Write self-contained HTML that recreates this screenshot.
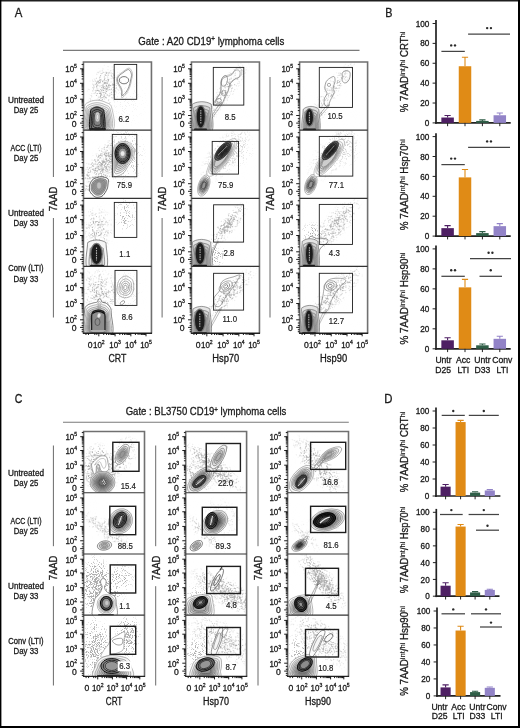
<!DOCTYPE html><html><head><meta charset="utf-8"><style>html,body{margin:0;padding:0;background:#fff}svg{display:block;will-change:transform} text{stroke:#1a1a1a;stroke-width:.3px}</style></head><body><svg width="520" height="728" viewBox="0 0 520 728" font-family='"Liberation Sans", sans-serif' fill="#1a1a1a"><defs><radialGradient id="rg"><stop offset="0" stop-opacity="1.00"/><stop offset="0.25" stop-opacity="0.86"/><stop offset="0.5" stop-opacity="0.55"/><stop offset="0.75" stop-opacity="0.26"/><stop offset="1" stop-opacity="0.00"/></radialGradient><filter id="spkd" x="-10%" y="-10%" width="120%" height="120%"><feTurbulence type="fractalNoise" baseFrequency="1.1" numOctaves="1" seed="3" result="n"/><feColorMatrix in="n" type="matrix" values="0 0 0 0 0 0 0 0 0 0 0 0 0 0 0 3.5 0 0 0 -1.25" result="na"/><feComposite in="SourceGraphic" in2="na" operator="arithmetic" k1="0" k2="3" k3="-3" k4="0" result="d"/><feColorMatrix in="d" type="matrix" values="0 0 0 0 0.3 0 0 0 0 0.3 0 0 0 0 0.3 0 0 0 1 0"/></filter><filter id="spk" x="-10%" y="-10%" width="120%" height="120%"><feTurbulence type="fractalNoise" baseFrequency="1.1" numOctaves="1" seed="3" result="n"/><feColorMatrix in="n" type="matrix" values="0 0 0 0 0 0 0 0 0 0 0 0 0 0 0 3.5 0 0 0 -1.25" result="na"/><feComposite in="SourceGraphic" in2="na" operator="arithmetic" k1="0" k2="3" k3="-3" k4="0" result="d"/><feColorMatrix in="d" type="matrix" values="0 0 0 0 0.42 0 0 0 0 0.42 0 0 0 0 0.42 0 0 0 1 0"/></filter><filter id="spkl" x="-10%" y="-10%" width="120%" height="120%"><feTurbulence type="fractalNoise" baseFrequency="1.1" numOctaves="1" seed="3" result="n"/><feColorMatrix in="n" type="matrix" values="0 0 0 0 0 0 0 0 0 0 0 0 0 0 0 3.5 0 0 0 -1.25" result="na"/><feComposite in="SourceGraphic" in2="na" operator="arithmetic" k1="0" k2="3" k3="-3" k4="0" result="d"/><feColorMatrix in="d" type="matrix" values="0 0 0 0 0.55 0 0 0 0 0.55 0 0 0 0 0.55 0 0 0 1 0"/></filter></defs><rect width="520" height="728" fill="#fff"/><rect x="0" y="0" width="520" height="1.5" fill="#1e1e1e"/><rect x="0" y="0" width="1.4" height="728" fill="#000"/><rect x="518" y="0" width="2" height="728" fill="#000"/><rect x="0" y="726" width="520" height="2" fill="#000"/><text x="14.7" y="17.0" font-size="12.4" textLength="7.6" lengthAdjust="spacingAndGlyphs" fill="#1a1a1a">A</text><text x="385.2" y="17.0" font-size="12.4" textLength="7.2" lengthAdjust="spacingAndGlyphs" fill="#1a1a1a">B</text><text x="14.7" y="403.2" font-size="12.4" textLength="7.6" lengthAdjust="spacingAndGlyphs" fill="#1a1a1a">C</text><text x="384.2" y="403.2" font-size="12.4" textLength="8.2" lengthAdjust="spacingAndGlyphs" fill="#1a1a1a">D</text><text x="138.3" y="45.1" font-size="10.5" textLength="146" lengthAdjust="spacingAndGlyphs">Gate : A20 CD19<tspan dy="-3.8" font-size="6.8">+</tspan><tspan dy="3.8"> lymphoma cells</tspan></text><line x1="63" y1="50.4" x2="359.5" y2="50.4" stroke="#7a7a7a" stroke-width="1.1"/><text x="125.7" y="415.4" font-size="10.5" textLength="160.6" lengthAdjust="spacingAndGlyphs">Gate : BL3750 CD19<tspan dy="-3.8" font-size="6.8">+</tspan><tspan dy="3.8"> lymphoma cells</tspan></text><line x1="63" y1="422.2" x2="348.8" y2="422.2" stroke="#7a7a7a" stroke-width="1.1"/><text x="26" y="102.8" font-size="8.4" text-anchor="middle" textLength="36" lengthAdjust="spacingAndGlyphs" fill="#1a1a1a">Untreated</text><text x="26" y="113.0" font-size="8.4" text-anchor="middle" textLength="24.5" lengthAdjust="spacingAndGlyphs" fill="#1a1a1a">Day 25</text><text x="26" y="150.9" font-size="8.4" text-anchor="middle" textLength="31" lengthAdjust="spacingAndGlyphs" fill="#1a1a1a">ACC (LTI)</text><text x="26" y="161.1" font-size="8.4" text-anchor="middle" textLength="24.5" lengthAdjust="spacingAndGlyphs" fill="#1a1a1a">Day 25</text><text x="26" y="215.8" font-size="8.4" text-anchor="middle" textLength="36" lengthAdjust="spacingAndGlyphs" fill="#1a1a1a">Untreated</text><text x="26" y="226.0" font-size="8.4" text-anchor="middle" textLength="24.8" lengthAdjust="spacingAndGlyphs" fill="#1a1a1a">Day 33</text><text x="26" y="271.4" font-size="8.4" text-anchor="middle" textLength="35.3" lengthAdjust="spacingAndGlyphs" fill="#1a1a1a">Conv (LTI)</text><text x="26" y="281.59999999999997" font-size="8.4" text-anchor="middle" textLength="24.8" lengthAdjust="spacingAndGlyphs" fill="#1a1a1a">Day 33</text><text x="26" y="475.5" font-size="8.4" text-anchor="middle" textLength="36" lengthAdjust="spacingAndGlyphs" fill="#1a1a1a">Untreated</text><text x="26" y="485.7" font-size="8.4" text-anchor="middle" textLength="24.5" lengthAdjust="spacingAndGlyphs" fill="#1a1a1a">Day 25</text><text x="26" y="523.6" font-size="8.4" text-anchor="middle" textLength="31" lengthAdjust="spacingAndGlyphs" fill="#1a1a1a">ACC (LTI)</text><text x="26" y="533.8000000000001" font-size="8.4" text-anchor="middle" textLength="24.5" lengthAdjust="spacingAndGlyphs" fill="#1a1a1a">Day 25</text><text x="26" y="588.5" font-size="8.4" text-anchor="middle" textLength="36" lengthAdjust="spacingAndGlyphs" fill="#1a1a1a">Untreated</text><text x="26" y="598.7" font-size="8.4" text-anchor="middle" textLength="24.8" lengthAdjust="spacingAndGlyphs" fill="#1a1a1a">Day 33</text><text x="26" y="643.8" font-size="8.4" text-anchor="middle" textLength="35.3" lengthAdjust="spacingAndGlyphs" fill="#1a1a1a">Conv (LTI)</text><text x="26" y="654.0" font-size="8.4" text-anchor="middle" textLength="24.8" lengthAdjust="spacingAndGlyphs" fill="#1a1a1a">Day 33</text><path d="M53.4 77V177M53.4 218V317.5" stroke="#6a6a6a" stroke-width="1"/><text transform="translate(57.4,211.2) rotate(-90)" font-size="10.2" textLength="24.6" lengthAdjust="spacingAndGlyphs">7AAD</text><path d="M162.1 77V177M162.1 218V317.5" stroke="#6a6a6a" stroke-width="1"/><text transform="translate(166.1,211.2) rotate(-90)" font-size="10.2" textLength="24.6" lengthAdjust="spacingAndGlyphs">7AAD</text><path d="M270.0 77V177M270.0 218V317.5" stroke="#6a6a6a" stroke-width="1"/><text transform="translate(274.0,211.2) rotate(-90)" font-size="10.2" textLength="24.6" lengthAdjust="spacingAndGlyphs">7AAD</text><path d="M53.4 445.5V546.2M53.4 586.2V685.5" stroke="#6a6a6a" stroke-width="1"/><text transform="translate(57.4,580.2) rotate(-90)" font-size="10.2" textLength="24.6" lengthAdjust="spacingAndGlyphs">7AAD</text><path d="M155.7 445.5V546.2M155.7 586.2V685.5" stroke="#6a6a6a" stroke-width="1"/><text transform="translate(159.7,580.2) rotate(-90)" font-size="10.2" textLength="24.6" lengthAdjust="spacingAndGlyphs">7AAD</text><path d="M258.0 445.5V546.2M258.0 586.2V685.5" stroke="#6a6a6a" stroke-width="1"/><text transform="translate(262.0,580.2) rotate(-90)" font-size="10.2" textLength="24.6" lengthAdjust="spacingAndGlyphs">7AAD</text><clipPath id="c1"><rect x="83.45" y="62.00" width="68.00" height="68.20"/></clipPath><g clip-path="url(#c1)"><ellipse cx="104.0" cy="88.0" rx="16.8" ry="26.4" transform="rotate(20 104.0 88.0)" fill="url(#rg)" fill-opacity="0.58" filter="url(#spk)"/><ellipse cx="125.0" cy="100.0" rx="24.0" ry="28.8" fill="url(#rg)" fill-opacity="0.08" filter="url(#spkl)"/><rect x="85.5" y="64.0" width="64.0" height="64.2" fill="#000" fill-opacity="0.005" filter="url(#spkl)"/><path d="M84.30 131.00C79.63 127.17 83.68 112.75 84.30 108.00C84.92 103.25 85.88 103.80 88.00 102.50C90.12 101.20 94.00 100.20 97.00 100.20C100.00 100.20 103.53 101.20 106.00 102.50C108.47 103.80 110.75 103.25 111.80 108.00C112.85 112.75 116.88 127.17 112.30 131.00C107.72 134.83 88.97 134.83 84.30 131.00Z" fill="#ffffff" stroke="#8c8c8c" stroke-width="0.55"/><path d="M85.69 130.26C81.51 126.83 85.14 113.93 85.69 109.68C86.24 105.43 87.11 105.93 89.00 104.76C90.89 103.60 94.37 102.70 97.05 102.70C99.74 102.70 102.90 103.60 105.11 104.76C107.31 105.93 109.36 105.43 110.30 109.68C111.24 113.93 114.84 126.83 110.74 130.26C106.64 133.69 89.86 133.69 85.69 130.26Z" fill="#f8f8f8" stroke="#858585" stroke-width="0.55"/><path d="M86.80 129.67C83.02 126.57 86.30 114.88 86.80 111.03C87.30 107.18 88.09 107.63 89.80 106.58C91.52 105.52 94.66 104.71 97.09 104.71C99.53 104.71 102.39 105.52 104.39 106.58C106.39 107.63 108.24 107.18 109.09 111.03C109.94 114.88 113.21 126.57 109.49 129.67C105.78 132.78 90.58 132.78 86.80 129.67Z" fill="#f1f1f1" stroke="#7e7e7e" stroke-width="0.55"/><path d="M87.83 129.13C84.42 126.32 87.38 115.76 87.83 112.28C88.28 108.80 88.99 109.21 90.54 108.25C92.09 107.30 94.94 106.57 97.13 106.57C99.33 106.57 101.92 107.30 103.72 108.25C105.53 109.21 107.20 108.80 107.97 112.28C108.74 115.76 111.70 126.32 108.34 129.13C104.98 131.93 91.25 131.93 87.83 129.13Z" fill="#eaeaea" stroke="#777777" stroke-width="0.55"/><path d="M88.81 128.61C85.74 126.08 88.41 116.60 88.81 113.47C89.22 110.34 89.85 110.70 91.25 109.85C92.64 108.99 95.20 108.33 97.17 108.33C99.15 108.33 101.47 108.99 103.09 109.85C104.72 110.70 106.22 110.34 106.91 113.47C107.60 116.60 110.26 126.08 107.24 128.61C104.22 131.13 91.88 131.13 88.81 128.61Z" fill="#e2e2e2" stroke="#6f6f6f" stroke-width="0.55"/><path d="M89.75 128.11C87.02 125.86 89.39 117.40 89.75 114.61C90.12 111.82 90.68 112.15 91.93 111.38C93.17 110.62 95.45 110.03 97.21 110.03C98.97 110.03 101.04 110.62 102.49 111.38C103.94 112.15 105.28 111.82 105.89 114.61C106.51 117.40 108.87 125.86 106.18 128.11C103.50 130.36 92.49 130.36 89.75 128.11Z" fill="#dbdbdb" stroke="#686868" stroke-width="0.55"/><path d="M90.67 127.62C88.25 125.64 90.35 118.18 90.67 115.72C90.99 113.26 91.49 113.55 92.58 112.87C93.68 112.20 95.69 111.68 97.24 111.68C98.79 111.68 100.62 112.20 101.90 112.87C103.18 113.55 104.36 113.26 104.90 115.72C105.44 118.18 107.53 125.64 105.16 127.62C102.79 129.61 93.08 129.61 90.67 127.62Z" fill="#d4d4d4" stroke="#616161" stroke-width="0.55"/><path d="M91.56 127.15C89.46 125.43 91.28 118.94 91.56 116.80C91.84 114.66 92.27 114.91 93.22 114.33C94.18 113.74 95.93 113.29 97.28 113.29C98.62 113.29 100.22 113.74 101.33 114.33C102.44 114.91 103.46 114.66 103.94 116.80C104.41 118.94 106.22 125.43 104.16 127.15C102.10 128.88 93.66 128.88 91.56 127.15Z" fill="#cdcdcd" stroke="#5a5a5a" stroke-width="0.55"/><path d="M90.50 131.00C88.25 127.83 90.17 115.75 90.50 112.00C90.83 108.25 91.42 109.33 92.50 108.50C93.58 107.67 95.50 107.00 97.00 107.00C98.50 107.00 100.33 107.67 101.50 108.50C102.67 109.33 103.58 108.25 104.00 112.00C104.42 115.75 106.25 127.83 104.00 131.00C101.75 134.17 92.75 134.17 90.50 131.00Z" fill="#6e6e6e" stroke="#141414" stroke-width="1.0"/><path d="M92.01 128.41C90.25 125.92 91.75 116.45 92.01 113.51C92.27 110.57 92.73 111.42 93.58 110.77C94.43 110.12 95.93 109.59 97.11 109.59C98.28 109.59 99.72 110.12 100.64 110.77C101.55 111.42 102.27 110.57 102.59 113.51C102.92 116.45 104.36 125.92 102.59 128.41C100.83 130.89 93.78 130.89 92.01 128.41Z" fill="#757575" stroke="#212121" stroke-width="1.0"/><path d="M93.23 126.32C91.85 124.39 93.02 117.02 93.23 114.73C93.43 112.44 93.79 113.10 94.45 112.59C95.11 112.08 96.28 111.68 97.19 111.68C98.11 111.68 99.23 112.08 99.94 112.59C100.65 113.10 101.21 112.44 101.47 114.73C101.72 117.02 102.84 124.39 101.47 126.32C100.09 128.26 94.60 128.26 93.23 126.32Z" fill="#7b7b7b" stroke="#2f2f2f" stroke-width="1.0"/><path d="M94.35 124.40C93.34 122.98 94.20 117.54 94.35 115.85C94.50 114.16 94.76 114.65 95.25 114.28C95.74 113.90 96.60 113.60 97.28 113.60C97.95 113.60 98.78 113.90 99.30 114.28C99.82 114.65 100.24 114.16 100.42 115.85C100.61 117.54 101.44 122.98 100.42 124.40C99.41 125.83 95.36 125.83 94.35 124.40Z" fill="#828282" stroke="#3c3c3c" stroke-width="1.0"/><g stroke-width="0.5"><ellipse cx="97.5" cy="117.0" rx="2.50" ry="5.00" fill="#c8c8c8" stroke="#787878"/><ellipse cx="97.5" cy="117.0" rx="1.25" ry="2.50" fill="#e6e6e6" stroke="#a0a0a0"/></g><rect x="89.50" y="128.30" width="16.50" height="2.00" rx="1.00" fill="#111"/><path d="M129.10 68.10C130.78 68.33 132.10 71.52 132.50 73.50C132.90 75.48 131.95 77.75 131.50 80.00C131.05 82.25 130.65 84.73 129.80 87.00C128.95 89.27 127.75 91.82 126.40 93.60C125.05 95.38 122.52 98.13 121.70 97.70C120.88 97.27 122.33 93.70 121.50 91.00C120.67 88.30 117.33 83.98 116.70 81.50C116.07 79.02 116.75 77.67 117.70 76.10C118.65 74.53 120.50 73.43 122.40 72.10C124.30 70.77 127.42 67.87 129.10 68.10Z" fill="none" stroke="#969696" stroke-width="0.55"/><path d="M128.49 69.55C129.97 69.76 131.13 72.56 131.48 74.30C131.83 76.05 131.00 78.04 130.60 80.02C130.20 82.00 129.85 84.19 129.10 86.18C128.36 88.18 127.30 90.42 126.11 91.99C124.92 93.56 122.69 95.98 121.98 95.60C121.26 95.22 122.53 92.08 121.80 89.70C121.07 87.33 118.13 83.53 117.58 81.34C117.02 79.16 117.62 77.97 118.46 76.59C119.29 75.21 120.92 74.25 122.59 73.07C124.26 71.90 127.01 69.35 128.49 69.55Z" fill="none" stroke="#464646" stroke-width="0.55"/><g stroke-width="0.65"><ellipse cx="124.0" cy="80.2" rx="4.70" ry="3.60" fill="none" stroke="#323232"/></g><rect x="114.20" y="64.40" width="22.50" height="34.90" fill="none" stroke="#1e1e1e" stroke-width="0.9"/><text x="123.90" y="121.70" font-size="8.6" text-anchor="middle" textLength="10.9" lengthAdjust="spacingAndGlyphs" fill="#222" style="stroke-width:.18px">6.2</text></g><clipPath id="c2"><rect x="191.45" y="62.00" width="68.00" height="68.20"/></clipPath><g clip-path="url(#c2)"><ellipse cx="228.0" cy="88.0" rx="9.6" ry="38.4" transform="rotate(35 228.0 88.0)" fill="url(#rg)" fill-opacity="0.37" filter="url(#spk)"/><ellipse cx="212.0" cy="112.0" rx="7.2" ry="19.2" transform="rotate(35 212.0 112.0)" fill="url(#rg)" fill-opacity="0.40" filter="url(#spk)"/><rect x="193.4" y="64.0" width="64.0" height="64.2" fill="#000" fill-opacity="0.005" filter="url(#spkl)"/><path d="M214.20 104.40C213.30 103.50 215.18 101.02 216.20 99.00C217.22 96.98 219.50 95.22 220.30 92.30C221.10 89.38 220.45 84.08 221.00 81.50C221.55 78.92 222.27 77.92 223.60 76.80C224.93 75.68 227.43 75.47 229.00 74.80C230.57 74.13 231.87 73.82 233.00 72.80C234.13 71.78 234.67 69.48 235.80 68.70C236.93 67.92 238.80 67.75 239.80 68.10C240.80 68.45 241.68 69.45 241.80 70.80C241.92 72.15 241.63 74.87 240.50 76.20C239.37 77.53 236.68 77.57 235.00 78.80C233.32 80.03 231.50 81.57 230.40 83.60C229.30 85.63 229.30 88.65 228.40 91.00C227.50 93.35 226.13 95.47 225.00 97.70C223.87 99.93 223.40 103.28 221.60 104.40C219.80 105.52 215.10 105.30 214.20 104.40Z" fill="none" stroke="#969696" stroke-width="0.5"/><path d="M215.28 102.76C214.47 101.95 216.16 99.72 217.08 97.90C217.99 96.09 220.05 94.50 220.77 91.87C221.49 89.25 220.91 84.48 221.40 82.15C221.90 79.83 222.54 78.92 223.74 77.92C224.94 76.92 227.19 76.72 228.60 76.12C230.01 75.52 231.18 75.23 232.20 74.32C233.22 73.40 233.70 71.33 234.72 70.63C235.74 69.92 237.42 69.77 238.32 70.09C239.22 70.40 240.02 71.30 240.12 72.52C240.22 73.73 239.97 76.18 238.95 77.38C237.93 78.58 235.51 78.61 234.00 79.72C232.49 80.83 230.85 82.21 229.86 84.04C228.87 85.87 228.87 88.59 228.06 90.70C227.25 92.81 226.02 94.72 225.00 96.73C223.98 98.74 223.56 101.76 221.94 102.76C220.32 103.77 216.09 103.57 215.28 102.76Z" fill="none" stroke="#646464" stroke-width="0.5"/><g stroke-width="0.5" transform="rotate(15 224.3 80.9)"><ellipse cx="224.3" cy="80.9" rx="3.00" ry="5.50" fill="none" stroke="#5a5a5a"/></g><g stroke-width="0.5"><ellipse cx="218.9" cy="100.4" rx="2.50" ry="2.00" fill="none" stroke="#5a5a5a"/></g><g stroke-width="0.5"><ellipse cx="223.6" cy="93.0" rx="2.00" ry="2.80" fill="none" stroke="#6e6e6e"/></g><path d="M207.50 124.00C206.00 125.67 211.08 117.17 213.00 114.00C214.92 110.83 217.50 106.67 219.00 105.00C220.50 103.33 223.92 100.83 222.00 104.00C220.08 107.17 209.00 122.33 207.50 124.00Z" fill="none" stroke="#777" stroke-width="0.5"/><path d="M192.00 132.40C188.75 128.28 191.73 112.52 192.00 107.70C192.27 102.88 191.97 104.50 193.60 103.50C195.22 102.50 199.03 101.70 201.75 101.70C204.47 101.70 208.28 102.50 209.90 103.50C211.53 104.50 211.23 102.88 211.50 107.70C211.77 112.52 214.75 128.28 211.50 132.40C208.25 136.52 195.25 136.52 192.00 132.40Z" fill="#e4e4e4" stroke="#464646" stroke-width="0.55"/><path d="M193.50 131.63C190.75 128.15 193.27 114.81 193.50 110.73C193.73 106.66 193.48 108.02 194.85 107.18C196.23 106.33 199.45 105.66 201.75 105.66C204.05 105.66 207.27 106.33 208.65 107.18C210.02 108.02 209.77 106.66 210.00 110.73C210.23 114.81 212.75 128.15 210.00 131.63C207.25 135.11 196.25 135.11 193.50 131.63Z" fill="#d3d3d3" stroke="#525252" stroke-width="0.55"/><path d="M194.70 131.01C192.36 128.04 194.51 116.65 194.70 113.16C194.90 109.68 194.69 110.85 195.86 110.13C197.03 109.41 199.79 108.83 201.75 108.83C203.71 108.83 206.47 109.41 207.64 110.13C208.81 110.85 208.60 109.68 208.80 113.16C208.99 116.65 211.14 128.04 208.80 131.01C206.45 133.99 197.05 133.99 194.70 131.01Z" fill="#c2c2c2" stroke="#5f5f5f" stroke-width="0.55"/><path d="M195.82 130.44C193.84 127.94 195.66 118.34 195.82 115.41C195.98 112.48 195.80 113.47 196.79 112.86C197.78 112.25 200.10 111.76 201.75 111.76C203.40 111.76 205.72 112.25 206.71 112.86C207.70 113.47 207.52 112.48 207.68 115.41C207.84 118.34 209.66 127.94 207.68 130.44C205.71 132.95 197.79 132.95 195.82 130.44Z" fill="#b1b1b1" stroke="#6c6c6c" stroke-width="0.55"/><path d="M196.88 129.90C195.25 127.84 196.74 119.96 196.88 117.55C197.01 115.14 196.86 115.95 197.68 115.45C198.49 114.95 200.39 114.55 201.75 114.55C203.11 114.55 205.01 114.95 205.82 115.45C206.64 115.95 206.49 115.14 206.62 117.55C206.76 119.96 208.25 127.84 206.62 129.90C205.00 131.96 198.50 131.96 196.88 129.90Z" fill="#a0a0a0" stroke="#787878" stroke-width="0.55"/><ellipse cx="200.8" cy="116.8" rx="5.30" ry="11.90" fill="#777"/><ellipse cx="200.8" cy="116.8" rx="4.00" ry="10.60" fill="#1c1c1c"/><path d="M200.8 109.9V123.7" stroke="#aaa" stroke-width="1.1" stroke-dasharray="1.6 0.8"/><rect x="194.00" y="128.50" width="13.00" height="1.80" rx="0.90" fill="#111"/><rect x="213.30" y="67.40" width="30.50" height="37.70" fill="none" stroke="#1e1e1e" stroke-width="0.9"/><text x="230.10" y="120.30" font-size="8.6" text-anchor="middle" textLength="10.9" lengthAdjust="spacingAndGlyphs" fill="#222" style="stroke-width:.18px">8.5</text></g><clipPath id="c3"><rect x="299.60" y="62.00" width="68.00" height="68.20"/></clipPath><g clip-path="url(#c3)"><ellipse cx="334.0" cy="88.0" rx="9.6" ry="38.4" transform="rotate(38 334.0 88.0)" fill="url(#rg)" fill-opacity="0.37" filter="url(#spk)"/><ellipse cx="320.0" cy="112.0" rx="7.2" ry="16.8" transform="rotate(35 320.0 112.0)" fill="url(#rg)" fill-opacity="0.45" filter="url(#spk)"/><rect x="301.6" y="64.0" width="64.0" height="64.2" fill="#000" fill-opacity="0.005" filter="url(#spkl)"/><path d="M342.40 72.80C342.97 71.90 344.57 70.92 345.80 70.80C347.03 70.68 349.13 70.98 349.80 72.10C350.47 73.22 350.13 75.93 349.80 77.50C349.47 79.07 348.70 80.60 347.80 81.50C346.90 82.40 345.35 83.12 344.40 82.90C343.45 82.68 342.43 81.32 342.10 80.20C341.77 79.08 342.35 77.43 342.40 76.20C342.45 74.97 341.83 73.70 342.40 72.80Z" fill="none" stroke="#555" stroke-width="0.55"/><path d="M326.30 81.50C327.32 79.70 329.67 78.28 331.00 77.50C332.33 76.72 333.63 76.13 334.30 76.80C334.97 77.47 335.22 79.58 335.00 81.50C334.78 83.42 333.12 86.50 333.00 88.30C332.88 90.10 334.75 90.28 334.30 92.30C333.85 94.32 331.30 98.15 330.30 100.40C329.30 102.65 329.20 105.02 328.30 105.80C327.40 106.58 325.58 106.23 324.90 105.10C324.22 103.97 323.85 100.92 324.20 99.00C324.55 97.08 326.88 95.38 327.00 93.60C327.12 91.82 325.02 90.32 324.90 88.30C324.78 86.28 325.28 83.30 326.30 81.50Z" fill="none" stroke="#555" stroke-width="0.55"/><g stroke-width="0.5"><ellipse cx="329.0" cy="84.9" rx="1.60" ry="1.60" fill="none" stroke="#5a5a5a"/></g><path d="M314.00 123.00C312.50 124.33 318.00 116.67 320.00 114.00C322.00 111.33 324.50 108.33 326.00 107.00C327.50 105.67 331.00 103.33 329.00 106.00C327.00 108.67 315.50 121.67 314.00 123.00Z" fill="none" stroke="#777" stroke-width="0.5"/><path d="M303.00 132.40C300.33 129.07 302.73 116.43 303.00 112.40C303.27 108.37 303.27 109.20 304.60 108.20C305.93 107.20 308.87 106.40 311.00 106.40C313.13 106.40 316.07 107.20 317.40 108.20C318.73 109.20 318.73 108.37 319.00 112.40C319.27 116.43 321.67 129.07 319.00 132.40C316.33 135.73 305.67 135.73 303.00 132.40Z" fill="#e4e4e4" stroke="#464646" stroke-width="0.55"/><path d="M304.23 131.63C301.97 128.81 304.01 118.12 304.23 114.71C304.46 111.30 304.46 112.00 305.58 111.15C306.71 110.31 309.19 109.63 311.00 109.63C312.81 109.63 315.29 110.31 316.42 111.15C317.54 112.00 317.54 111.30 317.77 114.71C317.99 118.12 320.03 128.81 317.77 131.63C315.51 134.45 306.49 134.45 304.23 131.63Z" fill="#d3d3d3" stroke="#525252" stroke-width="0.55"/><path d="M305.22 131.01C303.29 128.60 305.03 119.48 305.22 116.56C305.41 113.65 305.41 114.25 306.38 113.53C307.34 112.80 309.46 112.23 311.00 112.23C312.54 112.23 314.66 112.80 315.62 113.53C316.59 114.25 316.59 113.65 316.78 116.56C316.97 119.48 318.71 128.60 316.78 131.01C314.85 133.42 307.15 133.42 305.22 131.01Z" fill="#c2c2c2" stroke="#5f5f5f" stroke-width="0.55"/><path d="M306.13 130.44C304.51 128.41 305.97 120.73 306.13 118.27C306.29 115.82 306.29 116.33 307.11 115.72C307.92 115.11 309.70 114.62 311.00 114.62C312.30 114.62 314.08 115.11 314.89 115.72C315.71 116.33 315.71 115.82 315.87 118.27C316.03 120.73 317.49 128.41 315.87 130.44C314.25 132.47 307.75 132.47 306.13 130.44Z" fill="#b1b1b1" stroke="#6c6c6c" stroke-width="0.55"/><path d="M307.00 129.90C305.67 128.23 306.87 121.92 307.00 119.90C307.13 117.88 307.13 118.30 307.80 117.80C308.47 117.30 309.93 116.90 311.00 116.90C312.07 116.90 313.53 117.30 314.20 117.80C314.87 118.30 314.87 117.88 315.00 119.90C315.13 121.92 316.33 128.23 315.00 129.90C313.67 131.57 308.33 131.57 307.00 129.90Z" fill="#a0a0a0" stroke="#787878" stroke-width="0.55"/><ellipse cx="309.4" cy="117.5" rx="4.90" ry="9.50" fill="#777"/><ellipse cx="309.4" cy="117.5" rx="3.60" ry="8.20" fill="#1c1c1c"/><path d="M309.4 112.2V122.8" stroke="#aaa" stroke-width="1.1" stroke-dasharray="1.6 0.8"/><rect x="303.00" y="128.50" width="13.00" height="1.80" rx="0.90" fill="#111"/><rect x="319.30" y="67.40" width="33.20" height="40.00" fill="none" stroke="#1e1e1e" stroke-width="0.9"/><text x="335.00" y="119.00" font-size="8.6" text-anchor="middle" textLength="15.2" lengthAdjust="spacingAndGlyphs" fill="#222" style="stroke-width:.18px">10.5</text></g><clipPath id="c4"><rect x="83.45" y="130.20" width="68.00" height="68.10"/></clipPath><g clip-path="url(#c4)"><ellipse cx="104.0" cy="165.0" rx="16.8" ry="40.8" transform="rotate(38 104.0 165.0)" fill="url(#rg)" fill-opacity="0.70" filter="url(#spk)"/><ellipse cx="125.0" cy="155.0" rx="21.6" ry="33.6" fill="url(#rg)" fill-opacity="0.33" filter="url(#spk)"/><rect x="85.5" y="132.2" width="64.0" height="64.1" fill="#000" fill-opacity="0.004" filter="url(#spkl)"/><path d="M99.60 176.90C101.48 176.58 103.07 176.92 104.50 177.30C105.93 177.68 107.62 178.08 108.20 179.20C108.78 180.32 108.18 182.37 108.00 184.00C107.82 185.63 107.93 187.10 107.10 189.00C106.27 190.90 104.43 194.03 103.00 195.40C101.57 196.77 99.93 197.02 98.50 197.20C97.07 197.38 95.85 197.47 94.40 196.50C92.95 195.53 90.60 193.07 89.80 191.40C89.00 189.73 89.52 187.85 89.60 186.50C89.68 185.15 89.70 184.52 90.30 183.30C90.90 182.08 91.65 180.27 93.20 179.20C94.75 178.13 97.72 177.22 99.60 176.90Z" fill="#fcfcfc" stroke="#1e1e1e" stroke-width="0.7"/><path d="M99.49 178.54C101.04 178.28 102.33 178.55 103.51 178.87C104.69 179.18 106.07 179.51 106.54 180.42C107.02 181.34 106.53 183.02 106.38 184.36C106.23 185.70 106.33 186.90 105.64 188.46C104.96 190.02 103.46 192.59 102.28 193.71C101.10 194.83 99.77 195.03 98.59 195.18C97.41 195.33 96.42 195.40 95.23 194.61C94.04 193.82 92.11 191.79 91.46 190.43C90.80 189.06 91.22 187.52 91.29 186.41C91.36 185.30 91.37 184.78 91.87 183.79C92.36 182.79 92.97 181.30 94.24 180.42C95.52 179.55 97.95 178.80 99.49 178.54Z" fill="#a5a5a5" stroke="#5a5a5a" stroke-width="0.6"/><path d="M99.40 179.99C100.64 179.79 101.68 180.01 102.63 180.26C103.58 180.51 104.69 180.78 105.07 181.51C105.46 182.25 105.06 183.60 104.94 184.68C104.82 185.76 104.90 186.73 104.35 187.98C103.80 189.23 102.59 191.30 101.64 192.20C100.69 193.11 99.62 193.27 98.67 193.39C97.72 193.51 96.92 193.57 95.96 192.93C95.01 192.29 93.46 190.66 92.93 189.56C92.40 188.46 92.74 187.22 92.80 186.33C92.85 185.44 92.86 185.02 93.26 184.22C93.65 183.42 94.15 182.22 95.17 181.51C96.20 180.81 98.15 180.20 99.40 179.99Z" fill="#a1a1a1" stroke="#666666" stroke-width="0.6"/><path d="M99.32 181.16C100.32 180.99 101.16 181.17 101.92 181.38C102.69 181.58 103.58 181.79 103.89 182.39C104.20 182.98 103.88 184.07 103.78 184.94C103.69 185.81 103.75 186.58 103.31 187.59C102.86 188.60 101.89 190.27 101.13 191.00C100.36 191.72 99.50 191.86 98.73 191.95C97.97 192.05 97.33 192.09 96.56 191.58C95.78 191.07 94.54 189.76 94.11 188.87C93.68 187.98 93.96 186.98 94.00 186.27C94.05 185.55 94.06 185.21 94.38 184.56C94.69 183.92 95.09 182.95 95.92 182.39C96.74 181.82 98.32 181.33 99.32 181.16Z" fill="#9e9e9e" stroke="#737373" stroke-width="0.6"/><path d="M99.25 182.24C100.03 182.11 100.68 182.25 101.27 182.41C101.86 182.57 102.56 182.73 102.80 183.19C103.04 183.65 102.79 184.50 102.72 185.17C102.64 185.85 102.69 186.45 102.34 187.24C102.00 188.02 101.24 189.32 100.65 189.88C100.06 190.44 99.39 190.55 98.79 190.62C98.20 190.70 97.70 190.73 97.10 190.33C96.50 189.94 95.53 188.92 95.20 188.23C94.87 187.54 95.09 186.76 95.12 186.21C95.15 185.65 95.16 185.39 95.41 184.89C95.66 184.38 95.97 183.63 96.61 183.19C97.25 182.75 98.47 182.37 99.25 182.24Z" fill="#9a9a9a" stroke="#808080" stroke-width="0.6"/><path d="M99.18 183.27C99.74 183.18 100.22 183.28 100.65 183.39C101.08 183.51 101.59 183.62 101.76 183.96C101.94 184.30 101.76 184.91 101.70 185.40C101.64 185.89 101.68 186.33 101.43 186.90C101.18 187.47 100.63 188.41 100.20 188.82C99.77 189.23 99.28 189.30 98.85 189.36C98.42 189.41 98.06 189.44 97.62 189.15C97.19 188.86 96.48 188.12 96.24 187.62C96.00 187.12 96.15 186.56 96.18 186.15C96.20 185.75 96.21 185.56 96.39 185.19C96.57 184.82 96.80 184.28 97.26 183.96C97.73 183.64 98.61 183.37 99.18 183.27Z" fill="#969696" stroke="#8c8c8c" stroke-width="0.6"/><g stroke-width="0.3"><ellipse cx="99.0" cy="185.5" rx="1.80" ry="3.00" fill="#bebebe" stroke="#bebebe"/></g><path d="M123.70 141.50C125.90 141.30 127.73 141.72 129.50 143.00C131.27 144.28 133.55 147.20 134.30 149.20C135.05 151.20 134.33 153.20 134.00 155.00C133.67 156.80 133.38 158.00 132.30 160.00C131.22 162.00 128.88 164.92 127.50 167.00C126.12 169.08 125.58 171.00 124.00 172.50C122.42 174.00 119.70 175.45 118.00 176.00C116.30 176.55 114.67 177.13 113.80 175.80C112.93 174.47 112.97 170.20 112.80 168.00C112.63 165.80 112.73 165.28 112.80 162.60C112.87 159.92 112.62 154.97 113.20 151.90C113.78 148.83 114.55 145.93 116.30 144.20C118.05 142.47 121.50 141.70 123.70 141.50Z" fill="#ffffff" stroke="#737373" stroke-width="0.55"/><path d="M123.57 142.88C125.50 142.70 127.12 143.07 128.67 144.20C130.23 145.33 132.24 147.90 132.90 149.66C133.56 151.42 132.93 153.18 132.63 154.76C132.34 156.34 132.09 157.40 131.14 159.16C130.18 160.92 128.13 163.49 126.91 165.32C125.69 167.15 125.23 168.84 123.83 170.16C122.44 171.48 120.05 172.76 118.55 173.24C117.06 173.73 115.62 174.24 114.86 173.07C114.09 171.89 114.12 168.14 113.98 166.20C113.83 164.26 113.92 163.81 113.98 161.45C114.03 159.09 113.81 154.73 114.33 152.03C114.84 149.33 115.52 146.78 117.06 145.26C118.60 143.73 121.63 143.06 123.57 142.88Z" fill="#f7f7f7" stroke="#6c6c6c" stroke-width="0.55"/><path d="M123.46 143.99C125.19 143.83 126.62 144.16 128.01 145.16C129.39 146.17 131.18 148.45 131.77 150.02C132.36 151.59 131.80 153.16 131.54 154.57C131.27 155.98 131.05 156.92 130.20 158.49C129.35 160.05 127.53 162.34 126.44 163.97C125.36 165.61 124.94 167.11 123.70 168.28C122.46 169.46 120.33 170.60 118.99 171.03C117.66 171.46 116.38 171.92 115.70 170.87C115.02 169.83 115.05 166.48 114.92 164.76C114.79 163.03 114.87 162.63 114.92 160.52C114.97 158.42 114.77 154.54 115.23 152.14C115.69 149.73 116.29 147.46 117.66 146.10C119.03 144.74 121.74 144.14 123.46 143.99Z" fill="#eeeeee" stroke="#646464" stroke-width="0.55"/><path d="M123.36 145.01C124.89 144.87 126.17 145.16 127.39 146.05C128.62 146.94 130.21 148.97 130.73 150.36C131.25 151.75 130.75 153.14 130.52 154.39C130.29 155.64 130.09 156.47 129.34 157.86C128.59 159.25 126.97 161.28 126.00 162.73C125.04 164.18 124.67 165.51 123.57 166.55C122.47 167.59 120.58 168.60 119.40 168.98C118.22 169.36 117.09 169.77 116.49 168.84C115.88 167.92 115.91 164.95 115.79 163.42C115.67 161.89 115.74 161.54 115.79 159.67C115.84 157.81 115.66 154.37 116.07 152.24C116.47 150.10 117.01 148.09 118.22 146.89C119.44 145.68 121.84 145.15 123.36 145.01Z" fill="#e6e6e6" stroke="#5c5c5c" stroke-width="0.55"/><path d="M123.27 145.98C124.61 145.86 125.73 146.11 126.81 146.90C127.89 147.68 129.28 149.46 129.74 150.68C130.20 151.90 129.76 153.12 129.56 154.22C129.35 155.32 129.18 156.05 128.52 157.27C127.86 158.49 126.43 160.27 125.59 161.54C124.75 162.82 124.42 163.99 123.45 164.90C122.49 165.82 120.83 166.70 119.79 167.04C118.75 167.37 117.76 167.73 117.23 166.92C116.70 166.10 116.72 163.50 116.62 162.16C116.52 160.81 116.58 160.50 116.62 158.86C116.66 157.22 116.51 154.20 116.86 152.33C117.22 150.46 117.69 148.69 118.75 147.63C119.82 146.57 121.93 146.10 123.27 145.98Z" fill="#dedede" stroke="#555555" stroke-width="0.55"/><path d="M123.18 146.92C124.35 146.81 125.32 147.03 126.25 147.71C127.18 148.39 128.39 149.93 128.79 150.99C129.19 152.05 128.81 153.11 128.63 154.06C128.45 155.01 128.30 155.64 127.73 156.70C127.16 157.76 125.92 159.30 125.19 160.41C124.46 161.51 124.18 162.52 123.34 163.31C122.50 164.11 121.07 164.88 120.17 165.17C119.27 165.46 118.40 165.77 117.95 165.06C117.49 164.35 117.50 162.10 117.42 160.93C117.33 159.77 117.38 159.50 117.42 158.08C117.45 156.66 117.32 154.04 117.63 152.42C117.94 150.80 118.34 149.26 119.27 148.35C120.19 147.43 122.02 147.02 123.18 146.92Z" fill="#d5d5d5" stroke="#4e4e4e" stroke-width="0.55"/><path d="M123.09 147.82C124.08 147.73 124.91 147.92 125.70 148.50C126.50 149.08 127.53 150.39 127.86 151.29C128.20 152.19 127.88 153.09 127.73 153.90C127.58 154.71 127.45 155.25 126.97 156.15C126.48 157.05 125.43 158.36 124.80 159.30C124.18 160.24 123.94 161.10 123.23 161.78C122.52 162.45 121.30 163.10 120.53 163.35C119.77 163.60 119.03 163.86 118.64 163.26C118.25 162.66 118.27 160.74 118.19 159.75C118.11 158.76 118.16 158.53 118.19 157.32C118.22 156.11 118.11 153.88 118.37 152.50C118.63 151.12 118.98 149.82 119.77 149.04C120.55 148.26 122.11 147.91 123.09 147.82Z" fill="#cdcdcd" stroke="#464646" stroke-width="0.55"/><g stroke-width="0.9"><ellipse cx="122.6" cy="153.5" rx="7.60" ry="10.00" fill="#5a5a5a" stroke="#050505"/><ellipse cx="122.6" cy="153.5" rx="6.26" ry="8.23" fill="#6e6e6e" stroke="#171717"/><ellipse cx="122.6" cy="153.5" rx="5.18" ry="6.81" fill="#828282" stroke="#2a2a2a"/><ellipse cx="122.6" cy="153.5" rx="4.18" ry="5.50" fill="#969696" stroke="#3c3c3c"/></g><g stroke-width="0.3"><ellipse cx="122.6" cy="153.5" rx="2.00" ry="2.50" fill="#ebebeb" stroke="#c8c8c8"/></g><rect x="112.30" y="134.40" width="24.50" height="42.40" fill="none" stroke="#1e1e1e" stroke-width="0.9"/><text x="124.40" y="188.40" font-size="8.6" text-anchor="middle" textLength="15.2" lengthAdjust="spacingAndGlyphs" fill="#222" style="stroke-width:.18px">75.9</text></g><clipPath id="c5"><rect x="191.45" y="130.20" width="68.00" height="68.10"/></clipPath><g clip-path="url(#c5)"><ellipse cx="226.0" cy="154.0" rx="16.8" ry="38.4" transform="rotate(40 226.0 154.0)" fill="url(#rg)" fill-opacity="0.43" filter="url(#spk)"/><ellipse cx="236.0" cy="148.0" rx="19.2" ry="21.6" fill="url(#rg)" fill-opacity="0.27" filter="url(#spkl)"/><rect x="193.4" y="132.2" width="64.0" height="64.1" fill="#000" fill-opacity="0.004" filter="url(#spkl)"/><g stroke-width="0.5" transform="rotate(18 203.8 185.5)"><ellipse cx="203.8" cy="185.5" rx="5.50" ry="11.00" fill="#ffffff" stroke="#787878"/><ellipse cx="203.8" cy="185.5" rx="4.59" ry="9.18" fill="#eaeaea" stroke="#646464"/><ellipse cx="203.8" cy="185.5" rx="3.86" ry="7.72" fill="#d5d5d5" stroke="#505050"/><ellipse cx="203.8" cy="185.5" rx="3.18" ry="6.37" fill="#c0c0c0" stroke="#3c3c3c"/><ellipse cx="203.8" cy="185.5" rx="2.54" ry="5.09" fill="#ababab" stroke="#282828"/><ellipse cx="203.8" cy="185.5" rx="1.92" ry="3.85" fill="#969696" stroke="#141414"/></g><g stroke-width="0.5" transform="rotate(-53 221.8 157.5)"><ellipse cx="221.8" cy="157.5" rx="23.00" ry="7.20" fill="#ffffff" stroke="#969696"/><ellipse cx="221.8" cy="157.5" rx="20.07" ry="6.28" fill="#f5f5f5" stroke="#888888"/><ellipse cx="221.8" cy="157.5" rx="17.72" ry="5.55" fill="#ebebeb" stroke="#7a7a7a"/><ellipse cx="221.8" cy="157.5" rx="15.55" ry="4.87" fill="#e1e1e1" stroke="#6c6c6c"/><ellipse cx="221.8" cy="157.5" rx="13.49" ry="4.22" fill="#d7d7d7" stroke="#5e5e5e"/><ellipse cx="221.8" cy="157.5" rx="11.50" ry="3.60" fill="#cdcdcd" stroke="#505050"/></g><g stroke-width="0.6" transform="rotate(-50 223.0 151.0)"><ellipse cx="223.0" cy="151.0" rx="11.50" ry="5.00" fill="#5f5f5f" stroke="#141414"/><ellipse cx="223.0" cy="151.0" rx="9.30" ry="4.05" fill="#585858" stroke="#121212"/><ellipse cx="223.0" cy="151.0" rx="7.54" ry="3.28" fill="#515151" stroke="#101010"/><ellipse cx="223.0" cy="151.0" rx="5.91" ry="2.57" fill="#4a4a4a" stroke="#0e0e0e"/><ellipse cx="223.0" cy="151.0" rx="4.37" ry="1.90" fill="#434343" stroke="#0c0c0c"/><ellipse cx="223.0" cy="151.0" rx="2.88" ry="1.25" fill="#3c3c3c" stroke="#0a0a0a"/></g><path d="M218 155L227 146" stroke="#999" stroke-width="0.7"/><rect x="212.20" y="141.40" width="26.30" height="32.70" fill="none" stroke="#1e1e1e" stroke-width="0.9"/><text x="225.70" y="188.00" font-size="8.6" text-anchor="middle" textLength="15.2" lengthAdjust="spacingAndGlyphs" fill="#222" style="stroke-width:.18px">75.9</text></g><clipPath id="c6"><rect x="299.60" y="130.20" width="68.00" height="68.10"/></clipPath><g clip-path="url(#c6)"><ellipse cx="333.0" cy="153.0" rx="16.8" ry="38.4" transform="rotate(40 333.0 153.0)" fill="url(#rg)" fill-opacity="0.43" filter="url(#spk)"/><ellipse cx="343.0" cy="148.0" rx="19.2" ry="21.6" fill="url(#rg)" fill-opacity="0.27" filter="url(#spkl)"/><rect x="301.6" y="132.2" width="64.0" height="64.1" fill="#000" fill-opacity="0.004" filter="url(#spkl)"/><g stroke-width="0.5" transform="rotate(20 310.8 184.5)"><ellipse cx="310.8" cy="184.5" rx="5.50" ry="10.50" fill="#ffffff" stroke="#787878"/><ellipse cx="310.8" cy="184.5" rx="4.59" ry="8.76" fill="#eaeaea" stroke="#646464"/><ellipse cx="310.8" cy="184.5" rx="3.86" ry="7.37" fill="#d5d5d5" stroke="#505050"/><ellipse cx="310.8" cy="184.5" rx="3.18" ry="6.08" fill="#c0c0c0" stroke="#3c3c3c"/><ellipse cx="310.8" cy="184.5" rx="2.54" ry="4.85" fill="#ababab" stroke="#282828"/><ellipse cx="310.8" cy="184.5" rx="1.92" ry="3.67" fill="#969696" stroke="#141414"/></g><g stroke-width="0.5" transform="rotate(-52 329.2 158.0)"><ellipse cx="329.2" cy="158.0" rx="23.00" ry="7.20" fill="#ffffff" stroke="#969696"/><ellipse cx="329.2" cy="158.0" rx="20.07" ry="6.28" fill="#f5f5f5" stroke="#888888"/><ellipse cx="329.2" cy="158.0" rx="17.72" ry="5.55" fill="#ebebeb" stroke="#7a7a7a"/><ellipse cx="329.2" cy="158.0" rx="15.55" ry="4.87" fill="#e1e1e1" stroke="#6c6c6c"/><ellipse cx="329.2" cy="158.0" rx="13.49" ry="4.22" fill="#d7d7d7" stroke="#5e5e5e"/><ellipse cx="329.2" cy="158.0" rx="11.50" ry="3.60" fill="#cdcdcd" stroke="#505050"/></g><g stroke-width="0.6" transform="rotate(-50 330.3 150.5)"><ellipse cx="330.3" cy="150.5" rx="11.50" ry="4.80" fill="#5a5a5a" stroke="#141414"/><ellipse cx="330.3" cy="150.5" rx="9.30" ry="3.88" fill="#525252" stroke="#121212"/><ellipse cx="330.3" cy="150.5" rx="7.54" ry="3.15" fill="#4a4a4a" stroke="#101010"/><ellipse cx="330.3" cy="150.5" rx="5.91" ry="2.47" fill="#424242" stroke="#0e0e0e"/><ellipse cx="330.3" cy="150.5" rx="4.37" ry="1.82" fill="#3a3a3a" stroke="#0c0c0c"/><ellipse cx="330.3" cy="150.5" rx="2.88" ry="1.20" fill="#323232" stroke="#0a0a0a"/></g><path d="M326 155L334 146" stroke="#999" stroke-width="0.7"/><rect x="319.30" y="136.40" width="33.50" height="39.70" fill="none" stroke="#1e1e1e" stroke-width="0.9"/><text x="336.40" y="188.40" font-size="8.6" text-anchor="middle" textLength="15.2" lengthAdjust="spacingAndGlyphs" fill="#222" style="stroke-width:.18px">77.1</text></g><clipPath id="c7"><rect x="83.45" y="198.30" width="68.00" height="68.00"/></clipPath><g clip-path="url(#c7)"><ellipse cx="98.0" cy="228.0" rx="16.8" ry="24.0" transform="rotate(-10 98.0 228.0)" fill="url(#rg)" fill-opacity="0.43" filter="url(#spk)"/><ellipse cx="126.0" cy="215.0" rx="12.0" ry="19.2" fill="url(#rg)" fill-opacity="0.44" filter="url(#spk)"/><rect x="85.5" y="200.3" width="64.0" height="64.0" fill="#000" fill-opacity="0.004" filter="url(#spkl)"/><path d="M87.40 268.60C84.27 264.83 87.13 250.47 87.40 246.00C87.67 241.53 87.43 242.80 89.00 241.80C90.57 240.80 94.20 240.00 96.80 240.00C99.40 240.00 103.03 240.80 104.60 241.80C106.17 242.80 105.93 241.53 106.20 246.00C106.47 250.47 109.33 264.83 106.20 268.60C103.07 272.37 90.53 272.37 87.40 268.60Z" fill="#f5f5f5" stroke="#323232" stroke-width="0.55"/><path d="M90.01 267.21C87.74 264.49 89.81 254.11 90.01 250.88C90.20 247.65 90.03 248.57 91.16 247.85C92.30 247.12 94.92 246.55 96.80 246.55C98.68 246.55 101.30 247.12 102.44 247.85C103.57 248.57 103.40 247.65 103.59 250.88C103.79 254.11 105.86 264.49 103.59 267.21C101.33 269.93 92.27 269.93 90.01 267.21Z" fill="#dedede" stroke="#505050" stroke-width="0.55"/><path d="M92.10 266.10C90.53 264.22 91.97 257.03 92.10 254.80C92.23 252.57 92.12 253.20 92.90 252.70C93.68 252.20 95.50 251.80 96.80 251.80C98.10 251.80 99.92 252.20 100.70 252.70C101.48 253.20 101.37 252.57 101.50 254.80C101.63 257.03 103.07 264.22 101.50 266.10C99.93 267.98 93.67 267.98 92.10 266.10Z" fill="#c8c8c8" stroke="#6e6e6e" stroke-width="0.55"/><ellipse cx="96.5" cy="254.0" rx="6.50" ry="11.30" fill="#777"/><ellipse cx="96.5" cy="254.0" rx="5.20" ry="10.00" fill="#1c1c1c"/><path d="M96.5 247.5V260.5" stroke="#aaa" stroke-width="1.1" stroke-dasharray="1.6 0.8"/><rect x="90.00" y="264.70" width="14.00" height="1.80" rx="0.90" fill="#111"/><rect x="114.30" y="202.40" width="22.50" height="35.00" fill="none" stroke="#1e1e1e" stroke-width="0.9"/><text x="124.80" y="256.60" font-size="8.6" text-anchor="middle" textLength="10.9" lengthAdjust="spacingAndGlyphs" fill="#222" style="stroke-width:.18px">1.1</text></g><clipPath id="c8"><rect x="191.45" y="198.30" width="68.00" height="68.00"/></clipPath><g clip-path="url(#c8)"><ellipse cx="228.0" cy="225.0" rx="9.1" ry="31.2" transform="rotate(40 228.0 225.0)" fill="url(#rg)" fill-opacity="0.74" filter="url(#spk)"/><ellipse cx="216.0" cy="255.0" rx="9.6" ry="14.4" fill="url(#rg)" fill-opacity="0.53" filter="url(#spk)"/><rect x="193.4" y="200.3" width="64.0" height="64.0" fill="#000" fill-opacity="0.005" filter="url(#spkl)"/><path d="M205.00 266.00C203.83 267.92 208.50 258.17 210.00 255.00C211.50 251.83 212.83 248.92 214.00 247.00C215.17 245.08 218.50 240.33 217.00 243.50C215.50 246.67 206.17 264.08 205.00 266.00Z" fill="none" stroke="#666" stroke-width="0.5"/><path d="M192.20 268.60C189.08 264.73 191.93 249.97 192.20 245.40C192.47 240.83 192.24 242.20 193.80 241.20C195.36 240.20 198.97 239.40 201.55 239.40C204.13 239.40 207.74 240.20 209.30 241.20C210.86 242.20 210.63 240.83 210.90 245.40C211.17 249.97 214.02 264.73 210.90 268.60C207.78 272.47 195.32 272.47 192.20 268.60Z" fill="#e4e4e4" stroke="#464646" stroke-width="0.55"/><path d="M193.64 267.83C191.00 264.56 193.41 252.06 193.64 248.20C193.86 244.34 193.67 245.49 194.99 244.65C196.31 243.80 199.36 243.12 201.55 243.12C203.74 243.12 206.79 243.80 208.11 244.65C209.43 245.49 209.24 244.34 209.46 248.20C209.69 252.06 212.10 264.56 209.46 267.83C206.82 271.10 196.28 271.10 193.64 267.83Z" fill="#d3d3d3" stroke="#525252" stroke-width="0.55"/><path d="M194.79 267.21C192.54 264.42 194.60 253.75 194.79 250.45C194.99 247.15 194.82 248.14 195.95 247.41C197.08 246.69 199.68 246.11 201.55 246.11C203.42 246.11 206.02 246.69 207.15 247.41C208.28 248.14 208.11 247.15 208.31 250.45C208.50 253.75 210.56 264.42 208.31 267.21C206.05 270.01 197.05 270.01 194.79 267.21Z" fill="#c2c2c2" stroke="#5f5f5f" stroke-width="0.55"/><path d="M195.86 266.64C193.96 264.29 195.70 255.30 195.86 252.53C196.02 249.75 195.89 250.58 196.83 249.97C197.78 249.36 199.98 248.88 201.55 248.88C203.12 248.88 205.32 249.36 206.27 249.97C207.21 250.58 207.08 249.75 207.24 252.53C207.40 255.30 209.14 264.29 207.24 266.64C205.34 269.00 197.76 269.00 195.86 266.64Z" fill="#b1b1b1" stroke="#6c6c6c" stroke-width="0.55"/><path d="M196.88 266.10C195.32 264.17 196.74 256.78 196.88 254.50C197.01 252.22 196.90 252.90 197.68 252.40C198.45 251.90 200.26 251.50 201.55 251.50C202.84 251.50 204.65 251.90 205.43 252.40C206.20 252.90 206.09 252.22 206.23 254.50C206.36 256.78 207.78 264.17 206.23 266.10C204.67 268.03 198.43 268.03 196.88 266.10Z" fill="#a0a0a0" stroke="#787878" stroke-width="0.55"/><ellipse cx="200.1" cy="253.5" rx="5.70" ry="11.80" fill="#777"/><ellipse cx="200.1" cy="253.5" rx="4.40" ry="10.50" fill="#1c1c1c"/><path d="M200.1 246.7V260.3" stroke="#aaa" stroke-width="1.1" stroke-dasharray="1.6 0.8"/><rect x="193.00" y="264.70" width="14.00" height="1.80" rx="0.90" fill="#111"/><rect x="213.60" y="204.80" width="30.00" height="37.30" fill="none" stroke="#1e1e1e" stroke-width="0.9"/><text x="229.00" y="256.00" font-size="8.6" text-anchor="middle" textLength="10.9" lengthAdjust="spacingAndGlyphs" fill="#222" style="stroke-width:.18px">2.8</text></g><clipPath id="c9"><rect x="299.60" y="198.30" width="68.00" height="68.00"/></clipPath><g clip-path="url(#c9)"><ellipse cx="336.0" cy="224.0" rx="13.2" ry="36.0" transform="rotate(42 336.0 224.0)" fill="url(#rg)" fill-opacity="0.58" filter="url(#spk)"/><ellipse cx="313.0" cy="233.0" rx="14.4" ry="12.0" fill="url(#rg)" fill-opacity="0.42" filter="url(#spk)"/><rect x="301.6" y="200.3" width="64.0" height="64.0" fill="#000" fill-opacity="0.005" filter="url(#spkl)"/><path d="M314.00 266.00C315.83 267.77 317.83 252.83 320.00 249.00C322.17 245.17 325.83 244.67 327.00 243.00C328.17 241.33 328.50 239.72 327.00 239.00C325.50 238.28 321.00 238.80 318.00 238.70C315.00 238.60 309.67 233.85 309.00 238.40C308.33 242.95 312.17 264.23 314.00 266.00Z" fill="none" stroke="#444" stroke-width="0.55"/><path d="M302.00 268.60C299.30 264.62 301.73 249.38 302.00 244.70C302.27 240.02 302.25 241.50 303.60 240.50C304.95 239.50 307.93 238.70 310.10 238.70C312.27 238.70 315.25 239.50 316.60 240.50C317.95 241.50 317.93 240.02 318.20 244.70C318.47 249.38 320.90 264.62 318.20 268.60C315.50 272.58 304.70 272.58 302.00 268.60Z" fill="#e4e4e4" stroke="#464646" stroke-width="0.55"/><path d="M303.25 267.83C300.96 264.46 303.02 251.57 303.25 247.61C303.47 243.65 303.46 244.90 304.60 244.05C305.74 243.21 308.27 242.53 310.10 242.53C311.93 242.53 314.46 243.21 315.60 244.05C316.74 244.90 316.73 243.65 316.95 247.61C317.18 251.57 319.24 264.46 316.95 267.83C314.67 271.20 305.53 271.20 303.25 267.83Z" fill="#d3d3d3" stroke="#525252" stroke-width="0.55"/><path d="M304.25 267.21C302.30 264.33 304.05 253.33 304.25 249.94C304.44 246.56 304.43 247.63 305.40 246.91C306.38 246.19 308.53 245.61 310.10 245.61C311.67 245.61 313.82 246.19 314.80 246.91C315.77 247.63 315.76 246.56 315.95 249.94C316.15 253.33 317.90 264.33 315.95 267.21C314.00 270.09 306.20 270.09 304.25 267.21Z" fill="#c2c2c2" stroke="#5f5f5f" stroke-width="0.55"/><path d="M305.17 266.64C303.53 264.22 305.01 254.95 305.17 252.10C305.33 249.25 305.32 250.15 306.14 249.54C306.97 248.94 308.78 248.45 310.10 248.45C311.42 248.45 313.23 248.94 314.06 249.54C314.88 250.15 314.87 249.25 315.03 252.10C315.19 254.95 316.67 264.22 315.03 266.64C313.39 269.07 306.81 269.07 305.17 266.64Z" fill="#b1b1b1" stroke="#6c6c6c" stroke-width="0.55"/><path d="M306.05 266.10C304.70 264.11 305.92 256.49 306.05 254.15C306.18 251.81 306.18 252.55 306.85 252.05C307.53 251.55 309.02 251.15 310.10 251.15C311.18 251.15 312.68 251.55 313.35 252.05C314.03 252.55 314.02 251.81 314.15 254.15C314.28 256.49 315.50 264.11 314.15 266.10C312.80 268.09 307.40 268.09 306.05 266.10Z" fill="#a0a0a0" stroke="#787878" stroke-width="0.55"/><ellipse cx="309.4" cy="254.0" rx="4.70" ry="11.80" fill="#777"/><ellipse cx="309.4" cy="254.0" rx="3.40" ry="10.50" fill="#1c1c1c"/><path d="M309.4 247.2V260.8" stroke="#aaa" stroke-width="1.1" stroke-dasharray="1.6 0.8"/><rect x="303.00" y="264.70" width="12.00" height="1.80" rx="0.90" fill="#111"/><rect x="319.30" y="204.40" width="33.20" height="40.00" fill="none" stroke="#1e1e1e" stroke-width="0.9"/><text x="334.30" y="255.60" font-size="8.6" text-anchor="middle" textLength="10.9" lengthAdjust="spacingAndGlyphs" fill="#222" style="stroke-width:.18px">4.3</text></g><clipPath id="c10"><rect x="83.45" y="266.30" width="68.00" height="67.00"/></clipPath><g clip-path="url(#c10)"><ellipse cx="100.0" cy="292.0" rx="21.6" ry="26.4" transform="rotate(-20 100.0 292.0)" fill="url(#rg)" fill-opacity="0.48" filter="url(#spk)"/><ellipse cx="126.0" cy="290.0" rx="16.8" ry="24.0" fill="url(#rg)" fill-opacity="0.20" filter="url(#spkl)"/><rect x="85.5" y="268.3" width="64.0" height="63.0" fill="#000" fill-opacity="0.004" filter="url(#spkl)"/><path d="M125.50 276.00C127.08 275.75 128.25 276.67 129.50 277.50C130.75 278.33 132.33 278.92 133.00 281.00C133.67 283.08 134.00 287.42 133.50 290.00C133.00 292.58 131.75 295.25 130.00 296.50C128.25 297.75 125.08 298.08 123.00 297.50C120.92 296.92 118.42 295.08 117.50 293.00C116.58 290.92 117.08 287.33 117.50 285.00C117.92 282.67 118.67 280.50 120.00 279.00C121.33 277.50 123.92 276.25 125.50 276.00Z" fill="none" stroke="#6e6e6e" stroke-width="0.5"/><path d="M125.45 278.83C126.64 278.64 127.52 279.33 128.47 279.96C129.41 280.59 130.60 281.03 131.10 282.60C131.61 284.17 131.86 287.44 131.48 289.38C131.10 291.33 130.16 293.34 128.84 294.28C127.52 295.23 125.14 295.48 123.57 295.04C122.00 294.60 120.11 293.22 119.42 291.65C118.73 290.08 119.11 287.37 119.42 285.62C119.73 283.86 120.30 282.22 121.31 281.09C122.31 279.96 124.26 279.02 125.45 278.83Z" fill="none" stroke="#666666" stroke-width="0.5"/><path d="M125.41 281.10C126.29 280.96 126.94 281.47 127.64 281.94C128.33 282.40 129.21 282.73 129.58 283.88C129.95 285.04 130.14 287.45 129.86 288.89C129.58 290.33 128.89 291.81 127.91 292.51C126.94 293.20 125.18 293.39 124.02 293.06C122.86 292.74 121.47 291.72 120.96 290.56C120.45 289.40 120.73 287.41 120.96 286.11C121.19 284.81 121.61 283.61 122.35 282.77C123.09 281.94 124.53 281.24 125.41 281.10Z" fill="none" stroke="#5f5f5f" stroke-width="0.5"/><path d="M125.37 283.20C125.97 283.11 126.40 283.45 126.87 283.76C127.34 284.08 127.93 284.29 128.18 285.07C128.43 285.85 128.55 287.47 128.36 288.43C128.18 289.40 127.71 290.39 127.06 290.86C126.40 291.33 125.22 291.45 124.44 291.24C123.66 291.02 122.73 290.33 122.39 289.55C122.04 288.78 122.23 287.44 122.39 286.57C122.54 285.69 122.82 284.89 123.32 284.32C123.82 283.76 124.78 283.30 125.37 283.20Z" fill="none" stroke="#585858" stroke-width="0.5"/><path d="M125.34 285.20C125.66 285.15 125.89 285.33 126.14 285.50C126.39 285.67 126.71 285.78 126.84 286.20C126.97 286.62 127.04 287.48 126.94 288.00C126.84 288.52 126.59 289.05 126.24 289.30C125.89 289.55 125.26 289.62 124.84 289.50C124.42 289.38 123.92 289.02 123.74 288.60C123.56 288.18 123.66 287.47 123.74 287.00C123.82 286.53 123.97 286.10 124.24 285.80C124.51 285.50 125.02 285.25 125.34 285.20Z" fill="none" stroke="#505050" stroke-width="0.5"/><g stroke-width="0.5" transform="rotate(-40 122.4 302.7)"><ellipse cx="122.4" cy="302.7" rx="2.60" ry="1.50" fill="none" stroke="#5a5a5a"/></g><path d="M84.60 336.00C80.20 331.83 84.20 316.08 84.60 311.00C85.00 305.92 85.60 306.83 87.00 305.50C88.40 304.17 91.28 303.58 93.00 303.00C94.72 302.42 96.42 302.58 97.30 302.00C98.18 301.42 97.92 300.03 98.30 299.50C98.68 298.97 99.15 298.80 99.60 298.80C100.05 298.80 100.60 298.97 101.00 299.50C101.40 300.03 101.08 301.33 102.00 302.00C102.92 302.67 105.12 302.58 106.50 303.50C107.88 304.42 109.50 305.75 110.30 307.50C111.10 309.25 111.18 309.25 111.30 314.00C111.42 318.75 115.45 332.33 111.00 336.00C106.55 339.67 89.00 340.17 84.60 336.00Z" fill="#fff" stroke="#333" stroke-width="0.6"/><path d="M85.94 335.00C81.98 331.25 85.58 317.07 85.94 312.50C86.30 307.93 86.84 308.75 88.10 307.55C89.36 306.35 91.95 305.83 93.50 305.30C95.05 304.77 96.58 304.92 97.37 304.40C98.17 303.88 97.92 302.63 98.27 302.15C98.61 301.67 99.03 301.52 99.44 301.52C99.84 301.52 100.34 301.67 100.70 302.15C101.06 302.63 100.77 303.80 101.60 304.40C102.42 305.00 104.41 304.93 105.65 305.75C106.90 306.57 108.35 307.78 109.07 309.35C109.79 310.93 109.86 310.93 109.97 315.20C110.08 319.47 113.70 331.70 109.70 335.00C105.70 338.30 89.90 338.75 85.94 335.00Z" fill="#f5f5f5" stroke="#6e6e6e" stroke-width="0.5"/><path d="M87.13 334.11C83.57 330.73 86.81 317.96 87.13 313.84C87.46 309.71 87.95 310.46 89.08 309.38C90.22 308.30 92.55 307.82 93.95 307.35C95.34 306.88 96.72 307.01 97.43 306.54C98.15 306.07 97.93 304.94 98.24 304.51C98.55 304.08 98.93 303.94 99.30 303.94C99.66 303.94 100.11 304.08 100.43 304.51C100.76 304.94 100.50 306.00 101.24 306.54C101.99 307.08 103.77 307.01 104.89 307.76C106.01 308.50 107.33 309.58 107.97 311.00C108.62 312.42 108.69 312.42 108.78 316.27C108.88 320.12 112.15 331.14 108.54 334.11C104.93 337.08 90.70 337.49 87.13 334.11Z" fill="#e7e7e7" stroke="#686868" stroke-width="0.5"/><path d="M88.09 333.39C84.84 330.31 87.80 318.67 88.09 314.91C88.39 311.15 88.83 311.83 89.87 310.84C90.90 309.86 93.03 309.43 94.30 308.99C95.57 308.56 96.83 308.69 97.48 308.26C98.14 307.82 97.94 306.80 98.22 306.41C98.51 306.01 98.85 305.89 99.18 305.89C99.52 305.89 99.92 306.01 100.22 306.41C100.51 306.80 100.28 307.76 100.96 308.26C101.64 308.75 103.26 308.69 104.28 309.36C105.31 310.04 106.50 311.03 107.09 312.32C107.69 313.62 107.75 313.62 107.83 317.13C107.92 320.64 110.90 330.68 107.61 333.39C104.32 336.10 91.35 336.47 88.09 333.39Z" fill="#d9d9d9" stroke="#626262" stroke-width="0.5"/><path d="M88.98 332.73C86.02 329.93 88.71 319.32 88.98 315.90C89.25 312.48 89.65 313.10 90.59 312.20C91.54 311.30 93.48 310.91 94.63 310.51C95.79 310.12 96.93 310.23 97.53 309.84C98.12 309.45 97.94 308.52 98.20 308.16C98.46 307.80 98.77 307.69 99.08 307.69C99.38 307.69 99.75 307.80 100.02 308.16C100.29 308.52 100.08 309.39 100.69 309.84C101.31 310.29 102.79 310.23 103.72 310.85C104.65 311.47 105.74 312.37 106.28 313.54C106.82 314.72 106.88 314.72 106.95 317.92C107.03 321.12 109.75 330.26 106.75 332.73C103.76 335.20 91.94 335.54 88.98 332.73Z" fill="#cbcbcb" stroke="#5c5c5c" stroke-width="0.5"/><path d="M89.82 332.10C87.13 329.56 89.58 319.95 89.82 316.84C90.06 313.74 90.43 314.30 91.28 313.49C92.14 312.67 93.90 312.32 94.95 311.96C96.00 311.60 97.03 311.70 97.57 311.35C98.11 310.99 97.95 310.15 98.18 309.82C98.42 309.50 98.70 309.40 98.98 309.40C99.25 309.40 99.59 309.50 99.83 309.82C100.08 310.15 99.88 310.94 100.44 311.35C101.00 311.76 102.34 311.70 103.19 312.26C104.03 312.82 105.02 313.64 105.51 314.71C106.00 315.77 106.05 315.77 106.12 318.67C106.19 321.57 108.65 329.87 105.94 332.10C103.22 334.34 92.51 334.65 89.82 332.10Z" fill="#bdbdbd" stroke="#565656" stroke-width="0.5"/><path d="M90.63 331.50C88.21 329.21 90.41 320.55 90.63 317.75C90.85 314.95 91.18 315.46 91.95 314.73C92.72 313.99 94.31 313.67 95.25 313.35C96.19 313.03 97.13 313.12 97.61 312.80C98.10 312.48 97.95 311.72 98.16 311.43C98.38 311.13 98.63 311.04 98.88 311.04C99.13 311.04 99.43 311.13 99.65 311.43C99.87 311.72 99.70 312.43 100.20 312.80C100.70 313.17 101.91 313.12 102.67 313.62C103.44 314.13 104.33 314.86 104.77 315.82C105.20 316.79 105.25 316.79 105.31 319.40C105.38 322.01 107.60 329.48 105.15 331.50C102.70 333.52 93.05 333.79 90.63 331.50Z" fill="#afafaf" stroke="#505050" stroke-width="0.5"/><path d="M91.6 330V316Q91.6 310.2 98.3 310.2Q105 310.2 105 316V330" fill="#8c8c8c" stroke="#1e1e1e" stroke-width="1.3"/><path d="M92.5 313.5Q98.3 309.3 104.2 313.5" fill="none" stroke="#111" stroke-width="1.4"/><g stroke-width="0.3" transform="rotate(20 99.0 315.5)"><ellipse cx="99.0" cy="315.5" rx="1.50" ry="2.20" fill="#ebebeb" stroke="#c8c8c8"/></g><g stroke-width="0.6"><ellipse cx="97.5" cy="322.0" rx="2.50" ry="3.50" fill="none" stroke="#3c3c3c"/></g><rect x="90.00" y="332.70" width="16.00" height="1.80" rx="0.90" fill="#111"/><rect x="115.00" y="270.40" width="21.90" height="35.00" fill="none" stroke="#1e1e1e" stroke-width="0.9"/><text x="127.10" y="320.30" font-size="8.6" text-anchor="middle" textLength="10.9" lengthAdjust="spacingAndGlyphs" fill="#222" style="stroke-width:.18px">8.6</text></g><clipPath id="c11"><rect x="191.45" y="266.30" width="68.00" height="67.00"/></clipPath><g clip-path="url(#c11)"><ellipse cx="229.0" cy="294.0" rx="9.6" ry="40.8" transform="rotate(45 229.0 294.0)" fill="url(#rg)" fill-opacity="0.61" filter="url(#spk)"/><rect x="193.4" y="268.3" width="64.0" height="63.0" fill="#000" fill-opacity="0.005" filter="url(#spkl)"/><path d="M215.00 305.40C214.00 304.07 213.17 300.57 214.00 298.00C214.83 295.43 218.83 292.50 220.00 290.00C221.17 287.50 220.00 284.83 221.00 283.00C222.00 281.17 224.00 280.00 226.00 279.00C228.00 278.00 230.67 277.67 233.00 277.00C235.33 276.33 239.33 274.33 240.00 275.00C240.67 275.67 238.50 278.50 237.00 281.00C235.50 283.50 233.00 287.17 231.00 290.00C229.00 292.83 226.83 295.33 225.00 298.00C223.17 300.67 221.67 304.77 220.00 306.00C218.33 307.23 216.00 306.73 215.00 305.40Z" fill="none" stroke="#555" stroke-width="0.5"/><g stroke-width="0.5" transform="rotate(-35 225.7 286.5)"><ellipse cx="225.7" cy="286.5" rx="7.50" ry="4.50" fill="none" stroke="#6e6e6e"/><ellipse cx="225.7" cy="286.5" rx="4.59" ry="2.75" fill="none" stroke="#555555"/><ellipse cx="225.7" cy="286.5" rx="2.25" ry="1.35" fill="none" stroke="#3c3c3c"/></g><path d="M207.00 334.00C205.50 336.17 210.17 325.83 212.00 322.00C213.83 318.17 216.50 313.17 218.00 311.00C219.50 308.83 222.83 305.17 221.00 309.00C219.17 312.83 208.50 331.83 207.00 334.00Z" fill="none" stroke="#777" stroke-width="0.5"/><path d="M192.70 336.20C189.78 332.23 192.43 317.07 192.70 312.40C192.97 307.73 192.84 309.20 194.30 308.20C195.76 307.20 199.07 306.40 201.45 306.40C203.83 306.40 207.14 307.20 208.60 308.20C210.06 309.20 209.93 307.73 210.20 312.40C210.47 317.07 213.12 332.23 210.20 336.20C207.28 340.17 195.62 340.17 192.70 336.20Z" fill="#e4e4e4" stroke="#464646" stroke-width="0.55"/><path d="M194.05 335.43C191.58 332.07 193.82 319.24 194.05 315.29C194.27 311.34 194.17 312.59 195.40 311.74C196.63 310.89 199.43 310.22 201.45 310.22C203.47 310.22 206.27 310.89 207.50 311.74C208.73 312.59 208.63 311.34 208.85 315.29C209.08 319.24 211.32 332.07 208.85 335.43C206.39 338.79 196.51 338.79 194.05 335.43Z" fill="#d3d3d3" stroke="#525252" stroke-width="0.55"/><path d="M195.13 334.81C193.02 331.95 194.93 320.99 195.13 317.61C195.32 314.24 195.23 315.30 196.28 314.58C197.34 313.86 199.73 313.28 201.45 313.28C203.17 313.28 205.56 313.86 206.62 314.58C207.67 315.30 207.58 314.24 207.77 317.61C207.97 320.99 209.88 331.95 207.77 334.81C205.67 337.68 197.23 337.68 195.13 334.81Z" fill="#c2c2c2" stroke="#5f5f5f" stroke-width="0.55"/><path d="M196.13 334.24C194.35 331.83 195.96 322.60 196.13 319.76C196.29 316.92 196.21 317.81 197.10 317.21C197.99 316.60 200.00 316.11 201.45 316.11C202.90 316.11 204.91 316.60 205.80 317.21C206.69 317.81 206.61 316.92 206.77 319.76C206.94 322.60 208.55 331.83 206.77 334.24C205.00 336.66 197.90 336.66 196.13 334.24Z" fill="#b1b1b1" stroke="#6c6c6c" stroke-width="0.55"/><path d="M197.07 333.70C195.62 331.72 196.94 324.13 197.07 321.80C197.21 319.47 197.15 320.20 197.88 319.70C198.60 319.20 200.26 318.80 201.45 318.80C202.64 318.80 204.30 319.20 205.02 319.70C205.75 320.20 205.69 319.47 205.82 321.80C205.96 324.13 207.28 331.72 205.82 333.70C204.37 335.68 198.53 335.68 197.07 333.70Z" fill="#a0a0a0" stroke="#787878" stroke-width="0.55"/><ellipse cx="199.8" cy="320.5" rx="6.10" ry="12.10" fill="#777"/><ellipse cx="199.8" cy="320.5" rx="4.80" ry="10.80" fill="#1c1c1c"/><path d="M199.8 313.5V327.5" stroke="#aaa" stroke-width="1.1" stroke-dasharray="1.6 0.8"/><rect x="193.00" y="332.30" width="14.00" height="1.80" rx="0.90" fill="#111"/><rect x="213.60" y="273.30" width="30.00" height="36.80" fill="none" stroke="#1e1e1e" stroke-width="0.9"/><text x="229.70" y="321.70" font-size="8.6" text-anchor="middle" textLength="14.6" lengthAdjust="spacingAndGlyphs" fill="#222" style="stroke-width:.18px">11.0</text></g><clipPath id="c12"><rect x="299.60" y="266.30" width="68.00" height="67.00"/></clipPath><g clip-path="url(#c12)"><ellipse cx="336.0" cy="292.0" rx="12.0" ry="43.2" transform="rotate(45 336.0 292.0)" fill="url(#rg)" fill-opacity="0.53" filter="url(#spk)"/><rect x="301.6" y="268.3" width="64.0" height="63.0" fill="#000" fill-opacity="0.005" filter="url(#spkl)"/><path d="M320.20 310.80C319.52 308.23 322.23 299.82 322.90 296.00C323.57 292.18 323.52 290.37 324.20 287.90C324.88 285.43 325.53 282.77 327.00 281.20C328.47 279.63 330.43 278.95 333.00 278.50C335.57 278.05 340.27 278.17 342.40 278.50C344.53 278.83 345.57 279.72 345.80 280.50C346.03 281.28 345.03 281.75 343.80 283.20C342.57 284.65 340.32 286.63 338.40 289.20C336.48 291.77 334.20 294.90 332.30 298.60C330.40 302.30 329.02 309.37 327.00 311.40C324.98 313.43 320.88 313.37 320.20 310.80Z" fill="none" stroke="#555" stroke-width="0.5"/><g stroke-width="0.5" transform="rotate(-20 330.3 285.9)"><ellipse cx="330.3" cy="285.9" rx="6.50" ry="5.00" fill="none" stroke="#6e6e6e"/><ellipse cx="330.3" cy="285.9" rx="3.98" ry="3.06" fill="none" stroke="#555555"/><ellipse cx="330.3" cy="285.9" rx="1.95" ry="1.50" fill="none" stroke="#3c3c3c"/></g><path d="M314.00 334.00C312.83 335.83 317.50 325.50 319.00 322.00C320.50 318.50 321.83 314.83 323.00 313.00C324.17 311.17 327.50 307.50 326.00 311.00C324.50 314.50 315.17 332.17 314.00 334.00Z" fill="none" stroke="#777" stroke-width="0.5"/><path d="M301.40 336.20C298.60 332.07 301.13 316.23 301.40 311.40C301.67 306.57 301.60 308.20 303.00 307.20C304.40 306.20 307.53 305.40 309.80 305.40C312.07 305.40 315.20 306.20 316.60 307.20C318.00 308.20 317.93 306.57 318.20 311.40C318.47 316.23 321.00 332.07 318.20 336.20C315.40 340.33 304.20 340.33 301.40 336.20Z" fill="#e4e4e4" stroke="#464646" stroke-width="0.55"/><path d="M302.69 335.43C300.32 331.93 302.47 318.54 302.69 314.45C302.92 310.36 302.86 311.74 304.05 310.89C305.23 310.05 307.88 309.37 309.80 309.37C311.72 309.37 314.37 310.05 315.55 310.89C316.74 311.74 316.68 310.36 316.91 314.45C317.13 318.54 319.28 331.93 316.91 335.43C314.54 338.93 305.06 338.93 302.69 335.43Z" fill="#d3d3d3" stroke="#525252" stroke-width="0.55"/><path d="M303.73 334.81C301.71 331.83 303.54 320.38 303.73 316.89C303.92 313.40 303.87 314.58 304.89 313.86C305.90 313.13 308.16 312.56 309.80 312.56C311.44 312.56 313.70 313.13 314.71 313.86C315.73 314.58 315.68 313.40 315.87 316.89C316.06 320.38 317.89 331.83 315.87 334.81C313.85 337.80 305.75 337.80 303.73 334.81Z" fill="#c2c2c2" stroke="#5f5f5f" stroke-width="0.55"/><path d="M304.69 334.24C302.99 331.73 304.53 322.09 304.69 319.15C304.85 316.21 304.81 317.21 305.66 316.60C306.51 315.99 308.42 315.50 309.80 315.50C311.18 315.50 313.09 315.99 313.94 316.60C314.79 317.21 314.75 316.21 314.91 319.15C315.07 322.09 316.61 331.73 314.91 334.24C313.21 336.76 306.39 336.76 304.69 334.24Z" fill="#b1b1b1" stroke="#6c6c6c" stroke-width="0.55"/><path d="M305.60 333.70C304.20 331.63 305.47 323.72 305.60 321.30C305.73 318.88 305.70 319.70 306.40 319.20C307.10 318.70 308.67 318.30 309.80 318.30C310.93 318.30 312.50 318.70 313.20 319.20C313.90 319.70 313.87 318.88 314.00 321.30C314.13 323.72 315.40 331.63 314.00 333.70C312.60 335.77 307.00 335.77 305.60 333.70Z" fill="#a0a0a0" stroke="#787878" stroke-width="0.55"/><ellipse cx="308.8" cy="321.0" rx="4.80" ry="11.80" fill="#777"/><ellipse cx="308.8" cy="321.0" rx="3.50" ry="10.50" fill="#1c1c1c"/><path d="M308.8 314.2V327.8" stroke="#aaa" stroke-width="1.1" stroke-dasharray="1.6 0.8"/><rect x="302.00" y="332.30" width="14.00" height="1.80" rx="0.90" fill="#111"/><rect x="319.30" y="273.30" width="33.20" height="39.50" fill="none" stroke="#1e1e1e" stroke-width="0.9"/><text x="336.40" y="324.40" font-size="8.6" text-anchor="middle" textLength="15.2" lengthAdjust="spacingAndGlyphs" fill="#222" style="stroke-width:.18px">12.7</text></g><path d="M83.45 333.30V62.00H151.45V333.30" fill="none" stroke="#707070" stroke-width="1.6"/><line x1="83.45" y1="130.20" x2="151.45" y2="130.20" stroke="#333" stroke-width="1.2"/><line x1="83.45" y1="198.30" x2="151.45" y2="198.30" stroke="#333" stroke-width="1.2"/><line x1="83.45" y1="266.30" x2="151.45" y2="266.30" stroke="#333" stroke-width="1.2"/><line x1="82.85" y1="333.30" x2="152.05" y2="333.30" stroke="#222" stroke-width="1.4"/><path d="M80.05 68.80h3.4M80.05 83.30h3.4M80.05 99.20h3.4M80.05 115.50h3.4M80.05 123.10h3.4M81.65 78.94h1.8M81.65 76.38h1.8M81.65 74.57h1.8M81.65 73.16h1.8M81.65 72.02h1.8M81.65 71.05h1.8M81.65 70.21h1.8M81.65 69.46h1.8M81.65 94.41h1.8M81.65 91.61h1.8M81.65 89.63h1.8M81.65 88.09h1.8M81.65 86.83h1.8M81.65 85.76h1.8M81.65 84.84h1.8M81.65 84.03h1.8M81.65 110.59h1.8M81.65 107.72h1.8M81.65 105.69h1.8M81.65 104.11h1.8M81.65 102.82h1.8M81.65 101.72h1.8M81.65 100.78h1.8M81.65 99.95h1.8M81.65 64.44h1.8M81.65 118.70h1.8M81.65 121.30h1.8M81.65 125.40h1.8M81.65 127.40h1.8" stroke="#111" stroke-width="0.95" fill="none"/><g><text x="76.95" y="72.25" font-size="8.6" text-anchor="end" textLength="11.7" lengthAdjust="spacingAndGlyphs">10<tspan dy="-3.8" font-size="5.5">5</tspan></text><text x="76.95" y="86.75" font-size="8.6" text-anchor="end" textLength="11.7" lengthAdjust="spacingAndGlyphs">10<tspan dy="-3.8" font-size="5.5">4</tspan></text><text x="76.95" y="102.65" font-size="8.6" text-anchor="end" textLength="11.7" lengthAdjust="spacingAndGlyphs">10<tspan dy="-3.8" font-size="5.5">3</tspan></text><text x="76.95" y="118.95" font-size="8.6" text-anchor="end" textLength="11.7" lengthAdjust="spacingAndGlyphs">10<tspan dy="-3.8" font-size="5.5">2</tspan></text><text x="76.55" y="126.55" font-size="8.6" text-anchor="end">0</text></g><path d="M80.05 137.00h3.4M80.05 151.50h3.4M80.05 167.40h3.4M80.05 183.70h3.4M80.05 191.30h3.4M81.65 147.14h1.8M81.65 144.58h1.8M81.65 142.77h1.8M81.65 141.36h1.8M81.65 140.22h1.8M81.65 139.25h1.8M81.65 138.41h1.8M81.65 137.66h1.8M81.65 162.61h1.8M81.65 159.81h1.8M81.65 157.83h1.8M81.65 156.29h1.8M81.65 155.03h1.8M81.65 153.96h1.8M81.65 153.04h1.8M81.65 152.23h1.8M81.65 178.79h1.8M81.65 175.92h1.8M81.65 173.89h1.8M81.65 172.31h1.8M81.65 171.02h1.8M81.65 169.92h1.8M81.65 168.98h1.8M81.65 168.15h1.8M81.65 132.64h1.8M81.65 186.90h1.8M81.65 189.50h1.8M81.65 193.60h1.8M81.65 195.60h1.8" stroke="#111" stroke-width="0.95" fill="none"/><g><text x="76.95" y="140.45" font-size="8.6" text-anchor="end" textLength="11.7" lengthAdjust="spacingAndGlyphs">10<tspan dy="-3.8" font-size="5.5">5</tspan></text><text x="76.95" y="154.95" font-size="8.6" text-anchor="end" textLength="11.7" lengthAdjust="spacingAndGlyphs">10<tspan dy="-3.8" font-size="5.5">4</tspan></text><text x="76.95" y="170.85" font-size="8.6" text-anchor="end" textLength="11.7" lengthAdjust="spacingAndGlyphs">10<tspan dy="-3.8" font-size="5.5">3</tspan></text><text x="76.95" y="187.15" font-size="8.6" text-anchor="end" textLength="11.7" lengthAdjust="spacingAndGlyphs">10<tspan dy="-3.8" font-size="5.5">2</tspan></text><text x="76.55" y="194.75" font-size="8.6" text-anchor="end">0</text></g><path d="M80.05 205.10h3.4M80.05 219.60h3.4M80.05 235.50h3.4M80.05 251.80h3.4M80.05 259.40h3.4M81.65 215.24h1.8M81.65 212.68h1.8M81.65 210.87h1.8M81.65 209.46h1.8M81.65 208.32h1.8M81.65 207.35h1.8M81.65 206.51h1.8M81.65 205.76h1.8M81.65 230.71h1.8M81.65 227.91h1.8M81.65 225.93h1.8M81.65 224.39h1.8M81.65 223.13h1.8M81.65 222.06h1.8M81.65 221.14h1.8M81.65 220.33h1.8M81.65 246.89h1.8M81.65 244.02h1.8M81.65 241.99h1.8M81.65 240.41h1.8M81.65 239.12h1.8M81.65 238.02h1.8M81.65 237.08h1.8M81.65 236.25h1.8M81.65 200.74h1.8M81.65 255.00h1.8M81.65 257.60h1.8M81.65 261.70h1.8M81.65 263.70h1.8" stroke="#111" stroke-width="0.95" fill="none"/><g><text x="76.95" y="208.55" font-size="8.6" text-anchor="end" textLength="11.7" lengthAdjust="spacingAndGlyphs">10<tspan dy="-3.8" font-size="5.5">5</tspan></text><text x="76.95" y="223.05" font-size="8.6" text-anchor="end" textLength="11.7" lengthAdjust="spacingAndGlyphs">10<tspan dy="-3.8" font-size="5.5">4</tspan></text><text x="76.95" y="238.95" font-size="8.6" text-anchor="end" textLength="11.7" lengthAdjust="spacingAndGlyphs">10<tspan dy="-3.8" font-size="5.5">3</tspan></text><text x="76.95" y="255.25" font-size="8.6" text-anchor="end" textLength="11.7" lengthAdjust="spacingAndGlyphs">10<tspan dy="-3.8" font-size="5.5">2</tspan></text><text x="76.55" y="262.85" font-size="8.6" text-anchor="end">0</text></g><path d="M80.05 273.10h3.4M80.05 287.60h3.4M80.05 303.50h3.4M80.05 319.80h3.4M80.05 327.40h3.4M81.65 283.24h1.8M81.65 280.68h1.8M81.65 278.87h1.8M81.65 277.46h1.8M81.65 276.32h1.8M81.65 275.35h1.8M81.65 274.51h1.8M81.65 273.76h1.8M81.65 298.71h1.8M81.65 295.91h1.8M81.65 293.93h1.8M81.65 292.39h1.8M81.65 291.13h1.8M81.65 290.06h1.8M81.65 289.14h1.8M81.65 288.33h1.8M81.65 314.89h1.8M81.65 312.02h1.8M81.65 309.99h1.8M81.65 308.41h1.8M81.65 307.12h1.8M81.65 306.02h1.8M81.65 305.08h1.8M81.65 304.25h1.8M81.65 268.74h1.8M81.65 323.00h1.8M81.65 325.60h1.8M81.65 329.70h1.8M81.65 331.70h1.8" stroke="#111" stroke-width="0.95" fill="none"/><g><text x="76.95" y="276.55" font-size="8.6" text-anchor="end" textLength="11.7" lengthAdjust="spacingAndGlyphs">10<tspan dy="-3.8" font-size="5.5">5</tspan></text><text x="76.95" y="291.05" font-size="8.6" text-anchor="end" textLength="11.7" lengthAdjust="spacingAndGlyphs">10<tspan dy="-3.8" font-size="5.5">4</tspan></text><text x="76.95" y="306.95" font-size="8.6" text-anchor="end" textLength="11.7" lengthAdjust="spacingAndGlyphs">10<tspan dy="-3.8" font-size="5.5">3</tspan></text><text x="76.95" y="323.25" font-size="8.6" text-anchor="end" textLength="11.7" lengthAdjust="spacingAndGlyphs">10<tspan dy="-3.8" font-size="5.5">2</tspan></text><text x="76.55" y="330.85" font-size="8.6" text-anchor="end">0</text></g><path d="M98.82 333.30v3M115.07 333.30v3M130.85 333.30v3M146.01 333.30v3M103.71 333.30v1.7M106.57 333.30v1.7M108.60 333.30v1.7M110.18 333.30v1.7M111.46 333.30v1.7M112.55 333.30v1.7M113.50 333.30v1.7M114.33 333.30v1.7M119.82 333.30v1.7M122.60 333.30v1.7M124.57 333.30v1.7M126.10 333.30v1.7M127.35 333.30v1.7M128.40 333.30v1.7M129.32 333.30v1.7M130.12 333.30v1.7M135.41 333.30v1.7M138.08 333.30v1.7M139.98 333.30v1.7M141.45 333.30v1.7M142.65 333.30v1.7M143.66 333.30v1.7M144.54 333.30v1.7M145.32 333.30v1.7M85.95 333.30v1.7M88.45 333.30v1.7M94.82 333.30v1.7M96.82 333.30v1.7" stroke="#111" stroke-width="0.95" fill="none"/><g><text x="90.25" y="348.10" font-size="8.6" text-anchor="middle">0</text><text x="98.82" y="348.10" font-size="8.6" text-anchor="middle" textLength="11.7" lengthAdjust="spacingAndGlyphs">10<tspan dy="-3.8" font-size="5.5">2</tspan></text><text x="115.07" y="348.10" font-size="8.6" text-anchor="middle" textLength="11.7" lengthAdjust="spacingAndGlyphs">10<tspan dy="-3.8" font-size="5.5">3</tspan></text><text x="130.85" y="348.10" font-size="8.6" text-anchor="middle" textLength="11.7" lengthAdjust="spacingAndGlyphs">10<tspan dy="-3.8" font-size="5.5">4</tspan></text><text x="146.01" y="348.10" font-size="8.6" text-anchor="middle" textLength="11.7" lengthAdjust="spacingAndGlyphs">10<tspan dy="-3.8" font-size="5.5">5</tspan></text></g><path d="M191.45 333.30V62.00H259.45V333.30" fill="none" stroke="#707070" stroke-width="1.6"/><line x1="191.45" y1="130.20" x2="259.45" y2="130.20" stroke="#333" stroke-width="1.2"/><line x1="191.45" y1="198.30" x2="259.45" y2="198.30" stroke="#333" stroke-width="1.2"/><line x1="191.45" y1="266.30" x2="259.45" y2="266.30" stroke="#333" stroke-width="1.2"/><line x1="190.85" y1="333.30" x2="260.05" y2="333.30" stroke="#222" stroke-width="1.4"/><path d="M188.05 68.80h3.4M188.05 83.30h3.4M188.05 99.20h3.4M188.05 115.50h3.4M188.05 123.10h3.4M189.65 78.94h1.8M189.65 76.38h1.8M189.65 74.57h1.8M189.65 73.16h1.8M189.65 72.02h1.8M189.65 71.05h1.8M189.65 70.21h1.8M189.65 69.46h1.8M189.65 94.41h1.8M189.65 91.61h1.8M189.65 89.63h1.8M189.65 88.09h1.8M189.65 86.83h1.8M189.65 85.76h1.8M189.65 84.84h1.8M189.65 84.03h1.8M189.65 110.59h1.8M189.65 107.72h1.8M189.65 105.69h1.8M189.65 104.11h1.8M189.65 102.82h1.8M189.65 101.72h1.8M189.65 100.78h1.8M189.65 99.95h1.8M189.65 64.44h1.8M189.65 118.70h1.8M189.65 121.30h1.8M189.65 125.40h1.8M189.65 127.40h1.8" stroke="#111" stroke-width="0.95" fill="none"/><g><text x="184.95" y="72.25" font-size="8.6" text-anchor="end" textLength="11.7" lengthAdjust="spacingAndGlyphs">10<tspan dy="-3.8" font-size="5.5">5</tspan></text><text x="184.95" y="86.75" font-size="8.6" text-anchor="end" textLength="11.7" lengthAdjust="spacingAndGlyphs">10<tspan dy="-3.8" font-size="5.5">4</tspan></text><text x="184.95" y="102.65" font-size="8.6" text-anchor="end" textLength="11.7" lengthAdjust="spacingAndGlyphs">10<tspan dy="-3.8" font-size="5.5">3</tspan></text><text x="184.95" y="118.95" font-size="8.6" text-anchor="end" textLength="11.7" lengthAdjust="spacingAndGlyphs">10<tspan dy="-3.8" font-size="5.5">2</tspan></text><text x="184.55" y="126.55" font-size="8.6" text-anchor="end">0</text></g><path d="M188.05 137.00h3.4M188.05 151.50h3.4M188.05 167.40h3.4M188.05 183.70h3.4M188.05 191.30h3.4M189.65 147.14h1.8M189.65 144.58h1.8M189.65 142.77h1.8M189.65 141.36h1.8M189.65 140.22h1.8M189.65 139.25h1.8M189.65 138.41h1.8M189.65 137.66h1.8M189.65 162.61h1.8M189.65 159.81h1.8M189.65 157.83h1.8M189.65 156.29h1.8M189.65 155.03h1.8M189.65 153.96h1.8M189.65 153.04h1.8M189.65 152.23h1.8M189.65 178.79h1.8M189.65 175.92h1.8M189.65 173.89h1.8M189.65 172.31h1.8M189.65 171.02h1.8M189.65 169.92h1.8M189.65 168.98h1.8M189.65 168.15h1.8M189.65 132.64h1.8M189.65 186.90h1.8M189.65 189.50h1.8M189.65 193.60h1.8M189.65 195.60h1.8" stroke="#111" stroke-width="0.95" fill="none"/><g><text x="184.95" y="140.45" font-size="8.6" text-anchor="end" textLength="11.7" lengthAdjust="spacingAndGlyphs">10<tspan dy="-3.8" font-size="5.5">5</tspan></text><text x="184.95" y="154.95" font-size="8.6" text-anchor="end" textLength="11.7" lengthAdjust="spacingAndGlyphs">10<tspan dy="-3.8" font-size="5.5">4</tspan></text><text x="184.95" y="170.85" font-size="8.6" text-anchor="end" textLength="11.7" lengthAdjust="spacingAndGlyphs">10<tspan dy="-3.8" font-size="5.5">3</tspan></text><text x="184.95" y="187.15" font-size="8.6" text-anchor="end" textLength="11.7" lengthAdjust="spacingAndGlyphs">10<tspan dy="-3.8" font-size="5.5">2</tspan></text><text x="184.55" y="194.75" font-size="8.6" text-anchor="end">0</text></g><path d="M188.05 205.10h3.4M188.05 219.60h3.4M188.05 235.50h3.4M188.05 251.80h3.4M188.05 259.40h3.4M189.65 215.24h1.8M189.65 212.68h1.8M189.65 210.87h1.8M189.65 209.46h1.8M189.65 208.32h1.8M189.65 207.35h1.8M189.65 206.51h1.8M189.65 205.76h1.8M189.65 230.71h1.8M189.65 227.91h1.8M189.65 225.93h1.8M189.65 224.39h1.8M189.65 223.13h1.8M189.65 222.06h1.8M189.65 221.14h1.8M189.65 220.33h1.8M189.65 246.89h1.8M189.65 244.02h1.8M189.65 241.99h1.8M189.65 240.41h1.8M189.65 239.12h1.8M189.65 238.02h1.8M189.65 237.08h1.8M189.65 236.25h1.8M189.65 200.74h1.8M189.65 255.00h1.8M189.65 257.60h1.8M189.65 261.70h1.8M189.65 263.70h1.8" stroke="#111" stroke-width="0.95" fill="none"/><g><text x="184.95" y="208.55" font-size="8.6" text-anchor="end" textLength="11.7" lengthAdjust="spacingAndGlyphs">10<tspan dy="-3.8" font-size="5.5">5</tspan></text><text x="184.95" y="223.05" font-size="8.6" text-anchor="end" textLength="11.7" lengthAdjust="spacingAndGlyphs">10<tspan dy="-3.8" font-size="5.5">4</tspan></text><text x="184.95" y="238.95" font-size="8.6" text-anchor="end" textLength="11.7" lengthAdjust="spacingAndGlyphs">10<tspan dy="-3.8" font-size="5.5">3</tspan></text><text x="184.95" y="255.25" font-size="8.6" text-anchor="end" textLength="11.7" lengthAdjust="spacingAndGlyphs">10<tspan dy="-3.8" font-size="5.5">2</tspan></text><text x="184.55" y="262.85" font-size="8.6" text-anchor="end">0</text></g><path d="M188.05 273.10h3.4M188.05 287.60h3.4M188.05 303.50h3.4M188.05 319.80h3.4M188.05 327.40h3.4M189.65 283.24h1.8M189.65 280.68h1.8M189.65 278.87h1.8M189.65 277.46h1.8M189.65 276.32h1.8M189.65 275.35h1.8M189.65 274.51h1.8M189.65 273.76h1.8M189.65 298.71h1.8M189.65 295.91h1.8M189.65 293.93h1.8M189.65 292.39h1.8M189.65 291.13h1.8M189.65 290.06h1.8M189.65 289.14h1.8M189.65 288.33h1.8M189.65 314.89h1.8M189.65 312.02h1.8M189.65 309.99h1.8M189.65 308.41h1.8M189.65 307.12h1.8M189.65 306.02h1.8M189.65 305.08h1.8M189.65 304.25h1.8M189.65 268.74h1.8M189.65 323.00h1.8M189.65 325.60h1.8M189.65 329.70h1.8M189.65 331.70h1.8" stroke="#111" stroke-width="0.95" fill="none"/><g><text x="184.95" y="276.55" font-size="8.6" text-anchor="end" textLength="11.7" lengthAdjust="spacingAndGlyphs">10<tspan dy="-3.8" font-size="5.5">5</tspan></text><text x="184.95" y="291.05" font-size="8.6" text-anchor="end" textLength="11.7" lengthAdjust="spacingAndGlyphs">10<tspan dy="-3.8" font-size="5.5">4</tspan></text><text x="184.95" y="306.95" font-size="8.6" text-anchor="end" textLength="11.7" lengthAdjust="spacingAndGlyphs">10<tspan dy="-3.8" font-size="5.5">3</tspan></text><text x="184.95" y="323.25" font-size="8.6" text-anchor="end" textLength="11.7" lengthAdjust="spacingAndGlyphs">10<tspan dy="-3.8" font-size="5.5">2</tspan></text><text x="184.55" y="330.85" font-size="8.6" text-anchor="end">0</text></g><path d="M206.82 333.30v3M223.07 333.30v3M238.85 333.30v3M254.01 333.30v3M211.71 333.30v1.7M214.57 333.30v1.7M216.60 333.30v1.7M218.18 333.30v1.7M219.46 333.30v1.7M220.55 333.30v1.7M221.50 333.30v1.7M222.33 333.30v1.7M227.82 333.30v1.7M230.60 333.30v1.7M232.57 333.30v1.7M234.10 333.30v1.7M235.35 333.30v1.7M236.40 333.30v1.7M237.32 333.30v1.7M238.12 333.30v1.7M243.41 333.30v1.7M246.08 333.30v1.7M247.98 333.30v1.7M249.45 333.30v1.7M250.65 333.30v1.7M251.66 333.30v1.7M252.54 333.30v1.7M253.32 333.30v1.7M193.95 333.30v1.7M196.45 333.30v1.7M202.82 333.30v1.7M204.82 333.30v1.7" stroke="#111" stroke-width="0.95" fill="none"/><g><text x="198.25" y="348.10" font-size="8.6" text-anchor="middle">0</text><text x="206.82" y="348.10" font-size="8.6" text-anchor="middle" textLength="11.7" lengthAdjust="spacingAndGlyphs">10<tspan dy="-3.8" font-size="5.5">2</tspan></text><text x="223.07" y="348.10" font-size="8.6" text-anchor="middle" textLength="11.7" lengthAdjust="spacingAndGlyphs">10<tspan dy="-3.8" font-size="5.5">3</tspan></text><text x="238.85" y="348.10" font-size="8.6" text-anchor="middle" textLength="11.7" lengthAdjust="spacingAndGlyphs">10<tspan dy="-3.8" font-size="5.5">4</tspan></text><text x="254.01" y="348.10" font-size="8.6" text-anchor="middle" textLength="11.7" lengthAdjust="spacingAndGlyphs">10<tspan dy="-3.8" font-size="5.5">5</tspan></text></g><path d="M299.60 333.30V62.00H367.60V333.30" fill="none" stroke="#707070" stroke-width="1.6"/><line x1="299.60" y1="130.20" x2="367.60" y2="130.20" stroke="#333" stroke-width="1.2"/><line x1="299.60" y1="198.30" x2="367.60" y2="198.30" stroke="#333" stroke-width="1.2"/><line x1="299.60" y1="266.30" x2="367.60" y2="266.30" stroke="#333" stroke-width="1.2"/><line x1="299.00" y1="333.30" x2="368.20" y2="333.30" stroke="#222" stroke-width="1.4"/><path d="M296.20 68.80h3.4M296.20 83.30h3.4M296.20 99.20h3.4M296.20 115.50h3.4M296.20 123.10h3.4M297.80 78.94h1.8M297.80 76.38h1.8M297.80 74.57h1.8M297.80 73.16h1.8M297.80 72.02h1.8M297.80 71.05h1.8M297.80 70.21h1.8M297.80 69.46h1.8M297.80 94.41h1.8M297.80 91.61h1.8M297.80 89.63h1.8M297.80 88.09h1.8M297.80 86.83h1.8M297.80 85.76h1.8M297.80 84.84h1.8M297.80 84.03h1.8M297.80 110.59h1.8M297.80 107.72h1.8M297.80 105.69h1.8M297.80 104.11h1.8M297.80 102.82h1.8M297.80 101.72h1.8M297.80 100.78h1.8M297.80 99.95h1.8M297.80 64.44h1.8M297.80 118.70h1.8M297.80 121.30h1.8M297.80 125.40h1.8M297.80 127.40h1.8" stroke="#111" stroke-width="0.95" fill="none"/><g><text x="293.10" y="72.25" font-size="8.6" text-anchor="end" textLength="11.7" lengthAdjust="spacingAndGlyphs">10<tspan dy="-3.8" font-size="5.5">5</tspan></text><text x="293.10" y="86.75" font-size="8.6" text-anchor="end" textLength="11.7" lengthAdjust="spacingAndGlyphs">10<tspan dy="-3.8" font-size="5.5">4</tspan></text><text x="293.10" y="102.65" font-size="8.6" text-anchor="end" textLength="11.7" lengthAdjust="spacingAndGlyphs">10<tspan dy="-3.8" font-size="5.5">3</tspan></text><text x="293.10" y="118.95" font-size="8.6" text-anchor="end" textLength="11.7" lengthAdjust="spacingAndGlyphs">10<tspan dy="-3.8" font-size="5.5">2</tspan></text><text x="292.70" y="126.55" font-size="8.6" text-anchor="end">0</text></g><path d="M296.20 137.00h3.4M296.20 151.50h3.4M296.20 167.40h3.4M296.20 183.70h3.4M296.20 191.30h3.4M297.80 147.14h1.8M297.80 144.58h1.8M297.80 142.77h1.8M297.80 141.36h1.8M297.80 140.22h1.8M297.80 139.25h1.8M297.80 138.41h1.8M297.80 137.66h1.8M297.80 162.61h1.8M297.80 159.81h1.8M297.80 157.83h1.8M297.80 156.29h1.8M297.80 155.03h1.8M297.80 153.96h1.8M297.80 153.04h1.8M297.80 152.23h1.8M297.80 178.79h1.8M297.80 175.92h1.8M297.80 173.89h1.8M297.80 172.31h1.8M297.80 171.02h1.8M297.80 169.92h1.8M297.80 168.98h1.8M297.80 168.15h1.8M297.80 132.64h1.8M297.80 186.90h1.8M297.80 189.50h1.8M297.80 193.60h1.8M297.80 195.60h1.8" stroke="#111" stroke-width="0.95" fill="none"/><g><text x="293.10" y="140.45" font-size="8.6" text-anchor="end" textLength="11.7" lengthAdjust="spacingAndGlyphs">10<tspan dy="-3.8" font-size="5.5">5</tspan></text><text x="293.10" y="154.95" font-size="8.6" text-anchor="end" textLength="11.7" lengthAdjust="spacingAndGlyphs">10<tspan dy="-3.8" font-size="5.5">4</tspan></text><text x="293.10" y="170.85" font-size="8.6" text-anchor="end" textLength="11.7" lengthAdjust="spacingAndGlyphs">10<tspan dy="-3.8" font-size="5.5">3</tspan></text><text x="293.10" y="187.15" font-size="8.6" text-anchor="end" textLength="11.7" lengthAdjust="spacingAndGlyphs">10<tspan dy="-3.8" font-size="5.5">2</tspan></text><text x="292.70" y="194.75" font-size="8.6" text-anchor="end">0</text></g><path d="M296.20 205.10h3.4M296.20 219.60h3.4M296.20 235.50h3.4M296.20 251.80h3.4M296.20 259.40h3.4M297.80 215.24h1.8M297.80 212.68h1.8M297.80 210.87h1.8M297.80 209.46h1.8M297.80 208.32h1.8M297.80 207.35h1.8M297.80 206.51h1.8M297.80 205.76h1.8M297.80 230.71h1.8M297.80 227.91h1.8M297.80 225.93h1.8M297.80 224.39h1.8M297.80 223.13h1.8M297.80 222.06h1.8M297.80 221.14h1.8M297.80 220.33h1.8M297.80 246.89h1.8M297.80 244.02h1.8M297.80 241.99h1.8M297.80 240.41h1.8M297.80 239.12h1.8M297.80 238.02h1.8M297.80 237.08h1.8M297.80 236.25h1.8M297.80 200.74h1.8M297.80 255.00h1.8M297.80 257.60h1.8M297.80 261.70h1.8M297.80 263.70h1.8" stroke="#111" stroke-width="0.95" fill="none"/><g><text x="293.10" y="208.55" font-size="8.6" text-anchor="end" textLength="11.7" lengthAdjust="spacingAndGlyphs">10<tspan dy="-3.8" font-size="5.5">5</tspan></text><text x="293.10" y="223.05" font-size="8.6" text-anchor="end" textLength="11.7" lengthAdjust="spacingAndGlyphs">10<tspan dy="-3.8" font-size="5.5">4</tspan></text><text x="293.10" y="238.95" font-size="8.6" text-anchor="end" textLength="11.7" lengthAdjust="spacingAndGlyphs">10<tspan dy="-3.8" font-size="5.5">3</tspan></text><text x="293.10" y="255.25" font-size="8.6" text-anchor="end" textLength="11.7" lengthAdjust="spacingAndGlyphs">10<tspan dy="-3.8" font-size="5.5">2</tspan></text><text x="292.70" y="262.85" font-size="8.6" text-anchor="end">0</text></g><path d="M296.20 273.10h3.4M296.20 287.60h3.4M296.20 303.50h3.4M296.20 319.80h3.4M296.20 327.40h3.4M297.80 283.24h1.8M297.80 280.68h1.8M297.80 278.87h1.8M297.80 277.46h1.8M297.80 276.32h1.8M297.80 275.35h1.8M297.80 274.51h1.8M297.80 273.76h1.8M297.80 298.71h1.8M297.80 295.91h1.8M297.80 293.93h1.8M297.80 292.39h1.8M297.80 291.13h1.8M297.80 290.06h1.8M297.80 289.14h1.8M297.80 288.33h1.8M297.80 314.89h1.8M297.80 312.02h1.8M297.80 309.99h1.8M297.80 308.41h1.8M297.80 307.12h1.8M297.80 306.02h1.8M297.80 305.08h1.8M297.80 304.25h1.8M297.80 268.74h1.8M297.80 323.00h1.8M297.80 325.60h1.8M297.80 329.70h1.8M297.80 331.70h1.8" stroke="#111" stroke-width="0.95" fill="none"/><g><text x="293.10" y="276.55" font-size="8.6" text-anchor="end" textLength="11.7" lengthAdjust="spacingAndGlyphs">10<tspan dy="-3.8" font-size="5.5">5</tspan></text><text x="293.10" y="291.05" font-size="8.6" text-anchor="end" textLength="11.7" lengthAdjust="spacingAndGlyphs">10<tspan dy="-3.8" font-size="5.5">4</tspan></text><text x="293.10" y="306.95" font-size="8.6" text-anchor="end" textLength="11.7" lengthAdjust="spacingAndGlyphs">10<tspan dy="-3.8" font-size="5.5">3</tspan></text><text x="293.10" y="323.25" font-size="8.6" text-anchor="end" textLength="11.7" lengthAdjust="spacingAndGlyphs">10<tspan dy="-3.8" font-size="5.5">2</tspan></text><text x="292.70" y="330.85" font-size="8.6" text-anchor="end">0</text></g><path d="M314.97 333.30v3M331.22 333.30v3M347.00 333.30v3M362.16 333.30v3M319.86 333.30v1.7M322.72 333.30v1.7M324.75 333.30v1.7M326.33 333.30v1.7M327.61 333.30v1.7M328.70 333.30v1.7M329.65 333.30v1.7M330.48 333.30v1.7M335.97 333.30v1.7M338.75 333.30v1.7M340.72 333.30v1.7M342.25 333.30v1.7M343.50 333.30v1.7M344.55 333.30v1.7M345.47 333.30v1.7M346.27 333.30v1.7M351.56 333.30v1.7M354.23 333.30v1.7M356.13 333.30v1.7M357.60 333.30v1.7M358.80 333.30v1.7M359.81 333.30v1.7M360.69 333.30v1.7M361.47 333.30v1.7M302.10 333.30v1.7M304.60 333.30v1.7M310.97 333.30v1.7M312.97 333.30v1.7" stroke="#111" stroke-width="0.95" fill="none"/><g><text x="306.40" y="348.10" font-size="8.6" text-anchor="middle">0</text><text x="314.97" y="348.10" font-size="8.6" text-anchor="middle" textLength="11.7" lengthAdjust="spacingAndGlyphs">10<tspan dy="-3.8" font-size="5.5">2</tspan></text><text x="331.22" y="348.10" font-size="8.6" text-anchor="middle" textLength="11.7" lengthAdjust="spacingAndGlyphs">10<tspan dy="-3.8" font-size="5.5">3</tspan></text><text x="347.00" y="348.10" font-size="8.6" text-anchor="middle" textLength="11.7" lengthAdjust="spacingAndGlyphs">10<tspan dy="-3.8" font-size="5.5">4</tspan></text><text x="362.16" y="348.10" font-size="8.6" text-anchor="middle" textLength="11.7" lengthAdjust="spacingAndGlyphs">10<tspan dy="-3.8" font-size="5.5">5</tspan></text></g><clipPath id="c13"><rect x="83.60" y="431.50" width="60.90" height="61.25"/></clipPath><g clip-path="url(#c13)"><ellipse cx="100.0" cy="470.0" rx="19.2" ry="28.8" transform="rotate(-10 100.0 470.0)" fill="url(#rg)" fill-opacity="1.00" filter="url(#spk)"/><ellipse cx="122.0" cy="456.0" rx="14.4" ry="24.0" transform="rotate(30 122.0 456.0)" fill="url(#rg)" fill-opacity="0.53" filter="url(#spk)"/><rect x="85.6" y="433.5" width="56.9" height="57.2" fill="#000" fill-opacity="0.004" filter="url(#spkl)"/><path d="M91.50 465.00C91.50 462.92 92.92 462.73 94.00 461.50C95.08 460.27 96.67 458.55 98.00 457.60C99.33 456.65 100.58 455.90 102.00 455.80C103.42 455.70 105.53 455.97 106.50 457.00C107.47 458.03 107.42 460.00 107.80 462.00C108.18 464.00 109.27 467.33 108.80 469.00C108.33 470.67 106.30 471.73 105.00 472.00C103.70 472.27 102.00 471.85 101.00 470.60C100.00 469.35 99.75 465.27 99.00 464.50C98.25 463.73 97.00 464.75 96.50 466.00C96.00 467.25 96.42 470.67 96.00 472.00C95.58 473.33 94.75 475.17 94.00 474.00C93.25 472.83 91.50 467.08 91.50 465.00Z" fill="#fff" stroke="#666" stroke-width="0.55"/><path d="M94.50 465.00C94.75 464.42 97.20 461.08 98.50 460.00C99.80 458.92 101.22 458.58 102.30 458.50C103.38 458.42 104.38 458.42 105.00 459.50C105.62 460.58 106.17 463.50 106.00 465.00C105.83 466.50 104.67 468.33 104.00 468.50C103.33 468.67 102.67 467.12 102.00 466.00C101.33 464.88 100.83 462.22 100.00 461.80C99.17 461.38 97.92 462.97 97.00 463.50C96.08 464.03 94.25 465.58 94.50 465.00Z" fill="none" stroke="#888" stroke-width="0.5"/><g stroke-width="0.5"><ellipse cx="102.5" cy="482.5" rx="12.50" ry="11.00" fill="#d7d7d7" stroke="#6e6e6e"/><ellipse cx="102.5" cy="482.5" rx="10.83" ry="9.53" fill="#c8c8c8" stroke="#676767"/><ellipse cx="102.5" cy="482.5" rx="9.48" ry="8.35" fill="#b9b9b9" stroke="#606060"/><ellipse cx="102.5" cy="482.5" rx="8.24" ry="7.25" fill="#aaaaaa" stroke="#595959"/><ellipse cx="102.5" cy="482.5" rx="7.06" ry="6.21" fill="#9b9b9b" stroke="#515151"/><ellipse cx="102.5" cy="482.5" rx="5.93" ry="5.22" fill="#8c8c8c" stroke="#4a4a4a"/><ellipse cx="102.5" cy="482.5" rx="4.82" ry="4.25" fill="#7d7d7d" stroke="#434343"/><ellipse cx="102.5" cy="482.5" rx="3.75" ry="3.30" fill="#6e6e6e" stroke="#3c3c3c"/></g><ellipse cx="104.5" cy="482.0" rx="3.6" ry="3.6" fill="url(#rg)" fill-opacity="0.85" filter="url(#spkl)"/><g stroke-width="0.5" transform="rotate(-62 122.3 454.3)"><ellipse cx="122.3" cy="454.3" rx="11.00" ry="5.50" fill="#fafafa" stroke="#5a5a5a"/><ellipse cx="122.3" cy="454.3" rx="8.80" ry="4.40" fill="#e1e1e1" stroke="#5f5f5f"/><ellipse cx="122.3" cy="454.3" rx="7.03" ry="3.52" fill="#c8c8c8" stroke="#646464"/><ellipse cx="122.3" cy="454.3" rx="5.40" ry="2.70" fill="#afafaf" stroke="#696969"/><ellipse cx="122.3" cy="454.3" rx="3.85" ry="1.92" fill="#969696" stroke="#6e6e6e"/></g><rect x="112.80" y="442.30" width="26.20" height="29.00" fill="none" stroke="#1e1e1e" stroke-width="1.4"/><text x="128.30" y="489.20" font-size="8.6" text-anchor="middle" textLength="15.2" lengthAdjust="spacingAndGlyphs" fill="#222" style="stroke-width:.18px">15.4</text></g><clipPath id="c14"><rect x="185.70" y="431.50" width="60.90" height="61.25"/></clipPath><g clip-path="url(#c14)"><ellipse cx="214.0" cy="468.0" rx="12.0" ry="38.4" transform="rotate(-50 214.0 468.0)" fill="url(#rg)" fill-opacity="0.84" filter="url(#spk)"/><rect x="187.7" y="433.5" width="56.9" height="57.2" fill="#000" fill-opacity="0.004" filter="url(#spkl)"/><ellipse cx="198.0" cy="476.0" rx="16.8" ry="21.6" transform="rotate(-45 198.0 476.0)" fill="url(#rg)" fill-opacity="0.51" filter="url(#spk)"/><path d="M207.00 476.00C206.67 475.00 209.67 471.00 211.00 468.00C212.33 465.00 213.67 461.00 215.00 458.00C216.33 455.00 217.50 452.00 219.00 450.00C220.50 448.00 222.67 446.50 224.00 446.00C225.33 445.50 227.00 445.33 227.00 447.00C227.00 448.67 225.33 452.83 224.00 456.00C222.67 459.17 220.83 463.00 219.00 466.00C217.17 469.00 215.00 472.33 213.00 474.00C211.00 475.67 207.33 477.00 207.00 476.00Z" fill="none" stroke="#555" stroke-width="0.5"/><g stroke-width="0.5" transform="rotate(-60 218.5 457.0)"><ellipse cx="218.5" cy="457.0" rx="13.50" ry="5.00" fill="#f5f5f5" stroke="#5a5a5a"/><ellipse cx="218.5" cy="457.0" rx="10.05" ry="3.72" fill="#dedede" stroke="#5a5a5a"/><ellipse cx="218.5" cy="457.0" rx="7.28" ry="2.70" fill="#c6c6c6" stroke="#5a5a5a"/><ellipse cx="218.5" cy="457.0" rx="4.72" ry="1.75" fill="#afafaf" stroke="#5a5a5a"/></g><g stroke-width="0.5" transform="rotate(-45 200.5 480.0)"><ellipse cx="200.5" cy="480.0" rx="16.50" ry="8.00" fill="#f0f0f0" stroke="#646464"/><ellipse cx="200.5" cy="480.0" rx="13.98" ry="6.78" fill="#dfdfdf" stroke="#5a5a5a"/><ellipse cx="200.5" cy="480.0" rx="11.96" ry="5.80" fill="#cfcfcf" stroke="#505050"/><ellipse cx="200.5" cy="480.0" rx="10.09" ry="4.89" fill="#bebebe" stroke="#464646"/><ellipse cx="200.5" cy="480.0" rx="8.32" ry="4.03" fill="#adadad" stroke="#3c3c3c"/><ellipse cx="200.5" cy="480.0" rx="6.61" ry="3.20" fill="#9d9d9d" stroke="#323232"/><ellipse cx="200.5" cy="480.0" rx="4.95" ry="2.40" fill="#8c8c8c" stroke="#282828"/></g><g stroke-width="0.7" transform="rotate(-40 199.3 481.5)"><ellipse cx="199.3" cy="481.5" rx="8.00" ry="4.20" fill="#464646" stroke="#141414"/><ellipse cx="199.3" cy="481.5" rx="5.78" ry="3.03" fill="#5f5f5f" stroke="#1e1e1e"/><ellipse cx="199.3" cy="481.5" rx="4.00" ry="2.10" fill="#787878" stroke="#282828"/></g><path d="M196 485L204 478" stroke="#ddd" stroke-width="0.9"/><rect x="206.20" y="443.50" width="34.20" height="27.80" fill="none" stroke="#1e1e1e" stroke-width="1.4"/><text x="225.50" y="486.00" font-size="8.6" text-anchor="middle" textLength="15.2" lengthAdjust="spacingAndGlyphs" fill="#222" style="stroke-width:.18px">22.0</text></g><clipPath id="c15"><rect x="287.60" y="431.50" width="60.90" height="61.25"/></clipPath><g clip-path="url(#c15)"><ellipse cx="318.0" cy="466.0" rx="14.4" ry="40.8" transform="rotate(-40 318.0 466.0)" fill="url(#rg)" fill-opacity="0.62" filter="url(#spk)"/><rect x="289.6" y="433.5" width="56.9" height="57.2" fill="#000" fill-opacity="0.004" filter="url(#spkl)"/><g stroke-width="0.5" transform="rotate(-50 301.5 479.0)"><ellipse cx="301.5" cy="479.0" rx="16.00" ry="9.00" fill="#fcfcfc" stroke="#787878"/><ellipse cx="301.5" cy="479.0" rx="13.56" ry="7.63" fill="#e9e9e9" stroke="#6b6b6b"/><ellipse cx="301.5" cy="479.0" rx="11.60" ry="6.52" fill="#d7d7d7" stroke="#5d5d5d"/><ellipse cx="301.5" cy="479.0" rx="9.79" ry="5.50" fill="#c4c4c4" stroke="#505050"/><ellipse cx="301.5" cy="479.0" rx="8.07" ry="4.54" fill="#b1b1b1" stroke="#434343"/><ellipse cx="301.5" cy="479.0" rx="6.41" ry="3.60" fill="#9f9f9f" stroke="#353535"/><ellipse cx="301.5" cy="479.0" rx="4.80" ry="2.70" fill="#8c8c8c" stroke="#282828"/></g><g stroke-width="0.6" transform="rotate(-55 301.3 481.5)"><ellipse cx="301.3" cy="481.5" rx="7.50" ry="4.50" fill="#3c3c3c" stroke="#141414"/><ellipse cx="301.3" cy="481.5" rx="5.00" ry="3.00" fill="#5a5a5a" stroke="#1e1e1e"/><ellipse cx="301.3" cy="481.5" rx="3.00" ry="1.80" fill="#787878" stroke="#282828"/></g><path d="M298 486L305 478" stroke="#ddd" stroke-width="0.9"/><path d="M314.50 467.50C314.67 466.50 316.75 464.08 318.00 462.00C319.25 459.92 320.50 456.92 322.00 455.00C323.50 453.08 325.00 451.75 327.00 450.50C329.00 449.25 331.83 448.08 334.00 447.50C336.17 446.92 338.75 446.58 340.00 447.00C341.25 447.42 342.00 448.50 341.50 450.00C341.00 451.50 338.92 454.33 337.00 456.00C335.08 457.67 332.50 458.83 330.00 460.00C327.50 461.17 324.17 461.67 322.00 463.00C319.83 464.33 318.25 467.25 317.00 468.00C315.75 468.75 314.33 468.50 314.50 467.50Z" fill="#fcfcfc" stroke="#5a5a5a" stroke-width="0.5"/><path d="M317.41 464.81C317.54 464.02 319.17 462.13 320.15 460.49C321.14 458.86 322.12 456.50 323.29 455.00C324.47 453.50 325.65 452.45 327.22 451.47C328.78 450.49 331.01 449.57 332.71 449.12C334.41 448.66 336.43 448.40 337.41 448.72C338.40 449.05 338.98 449.90 338.59 451.08C338.20 452.25 336.56 454.48 335.06 455.78C333.56 457.09 331.53 458.01 329.57 458.92C327.61 459.84 324.99 460.23 323.29 461.28C321.59 462.32 320.35 464.61 319.37 465.20C318.39 465.79 317.28 465.59 317.41 464.81Z" fill="#e9e9e9" stroke="#5a5a5a" stroke-width="0.5"/><path d="M319.74 462.65C319.84 462.03 321.12 460.56 321.88 459.28C322.65 458.01 323.41 456.17 324.33 455.00C325.25 453.83 326.17 453.01 327.39 452.25C328.61 451.48 330.34 450.77 331.67 450.41C333.00 450.06 334.58 449.85 335.34 450.11C336.10 450.36 336.56 451.02 336.26 451.94C335.95 452.86 334.68 454.59 333.50 455.61C332.33 456.63 330.75 457.34 329.22 458.06C327.69 458.77 325.66 459.08 324.33 459.89C323.00 460.71 322.04 462.49 321.27 462.95C320.51 463.41 319.64 463.26 319.74 462.65Z" fill="#d6d6d6" stroke="#5a5a5a" stroke-width="0.5"/><path d="M321.90 460.65C321.98 460.20 322.92 459.10 323.48 458.16C324.05 457.22 324.61 455.87 325.29 455.00C325.97 454.13 326.64 453.53 327.55 452.97C328.45 452.40 329.73 451.87 330.71 451.61C331.69 451.35 332.86 451.20 333.42 451.39C333.99 451.57 334.33 452.06 334.10 452.74C333.87 453.42 332.93 454.70 332.07 455.45C331.20 456.20 330.03 456.73 328.90 457.26C327.77 457.79 326.27 458.01 325.29 458.61C324.31 459.22 323.59 460.54 323.03 460.87C322.46 461.21 321.82 461.10 321.90 460.65Z" fill="#c2c2c2" stroke="#5a5a5a" stroke-width="0.5"/><path d="M323.95 458.75C324.00 458.45 324.62 457.73 325.00 457.10C325.38 456.48 325.75 455.57 326.20 455.00C326.65 454.43 327.10 454.02 327.70 453.65C328.30 453.27 329.15 452.93 329.80 452.75C330.45 452.57 331.23 452.48 331.60 452.60C331.98 452.73 332.20 453.05 332.05 453.50C331.90 453.95 331.27 454.80 330.70 455.30C330.12 455.80 329.35 456.15 328.60 456.50C327.85 456.85 326.85 457.00 326.20 457.40C325.55 457.80 325.07 458.67 324.70 458.90C324.32 459.12 323.90 459.05 323.95 458.75Z" fill="#afafaf" stroke="#5a5a5a" stroke-width="0.5"/><rect x="310.60" y="442.30" width="35.10" height="27.10" fill="none" stroke="#1e1e1e" stroke-width="1.4"/><text x="330.50" y="485.10" font-size="8.6" text-anchor="middle" textLength="15.2" lengthAdjust="spacingAndGlyphs" fill="#222" style="stroke-width:.18px">16.8</text></g><clipPath id="c16"><rect x="83.60" y="492.75" width="60.90" height="61.25"/></clipPath><g clip-path="url(#c16)"><ellipse cx="106.0" cy="530.0" rx="9.6" ry="33.6" transform="rotate(-55 106.0 530.0)" fill="url(#rg)" fill-opacity="0.63" filter="url(#spkl)"/><rect x="85.6" y="494.8" width="56.9" height="57.2" fill="#000" fill-opacity="0.003" filter="url(#spkl)"/><g stroke-width="0.5" transform="rotate(-10 104.5 545.5)"><ellipse cx="104.5" cy="545.5" rx="7.20" ry="4.60" fill="#fafafa" stroke="#282828"/><ellipse cx="104.5" cy="545.5" rx="5.22" ry="3.33" fill="#dfdfdf" stroke="#434343"/><ellipse cx="104.5" cy="545.5" rx="3.63" ry="2.32" fill="#c5c5c5" stroke="#5d5d5d"/><ellipse cx="104.5" cy="545.5" rx="2.16" ry="1.38" fill="#aaaaaa" stroke="#787878"/></g><g stroke-width="0.5" transform="rotate(35 120.5 521.2)"><ellipse cx="120.5" cy="521.2" rx="11.50" ry="13.00" fill="#ebebeb" stroke="#6e6e6e"/><ellipse cx="120.5" cy="521.2" rx="9.96" ry="11.26" fill="#d9d9d9" stroke="#646464"/><ellipse cx="120.5" cy="521.2" rx="8.72" ry="9.86" fill="#c7c7c7" stroke="#5a5a5a"/><ellipse cx="120.5" cy="521.2" rx="7.58" ry="8.57" fill="#b5b5b5" stroke="#505050"/><ellipse cx="120.5" cy="521.2" rx="6.50" ry="7.34" fill="#a4a4a4" stroke="#464646"/><ellipse cx="120.5" cy="521.2" rx="5.45" ry="6.16" fill="#929292" stroke="#3c3c3c"/><ellipse cx="120.5" cy="521.2" rx="4.44" ry="5.02" fill="#808080" stroke="#323232"/><ellipse cx="120.5" cy="521.2" rx="3.45" ry="3.90" fill="#6e6e6e" stroke="#282828"/></g><g stroke-width="0.8" transform="rotate(30 120.0 520.0)"><ellipse cx="120.0" cy="520.0" rx="6.00" ry="8.50" fill="#5a5a5a" stroke="#0a0a0a"/><ellipse cx="120.0" cy="520.0" rx="4.59" ry="6.50" fill="#616161" stroke="#141414"/><ellipse cx="120.0" cy="520.0" rx="3.45" ry="4.89" fill="#676767" stroke="#1e1e1e"/><ellipse cx="120.0" cy="520.0" rx="2.40" ry="3.40" fill="#6e6e6e" stroke="#282828"/></g><path d="M118.5 525L121.5 516" stroke="#e5e5e5" stroke-width="1"/><rect x="109.80" y="506.30" width="25.90" height="28.40" fill="none" stroke="#1e1e1e" stroke-width="1.4"/><text x="125.30" y="549.00" font-size="8.6" text-anchor="middle" textLength="15.2" lengthAdjust="spacingAndGlyphs" fill="#222" style="stroke-width:.18px">88.5</text></g><clipPath id="c17"><rect x="185.70" y="492.75" width="60.90" height="61.25"/></clipPath><g clip-path="url(#c17)"><ellipse cx="205.0" cy="533.0" rx="9.6" ry="28.8" transform="rotate(-45 205.0 533.0)" fill="url(#rg)" fill-opacity="0.50" filter="url(#spkl)"/><ellipse cx="222.0" cy="518.0" rx="19.2" ry="24.0" transform="rotate(-40 222.0 518.0)" fill="url(#rg)" fill-opacity="0.30" filter="url(#spkl)"/><rect x="187.7" y="494.8" width="56.9" height="57.2" fill="#000" fill-opacity="0.003" filter="url(#spkl)"/><g stroke-width="0.5" transform="rotate(-35 196.3 545.7)"><ellipse cx="196.3" cy="545.7" rx="7.00" ry="4.20" fill="#fafafa" stroke="#282828"/><ellipse cx="196.3" cy="545.7" rx="5.07" ry="3.04" fill="#dfdfdf" stroke="#434343"/><ellipse cx="196.3" cy="545.7" rx="3.53" ry="2.12" fill="#c5c5c5" stroke="#5d5d5d"/><ellipse cx="196.3" cy="545.7" rx="2.10" ry="1.26" fill="#aaaaaa" stroke="#787878"/></g><g stroke-width="0.5" transform="rotate(-40 215.0 522.4)"><ellipse cx="215.0" cy="522.4" rx="14.00" ry="10.50" fill="#ebebeb" stroke="#6e6e6e"/><ellipse cx="215.0" cy="522.4" rx="12.13" ry="9.09" fill="#d9d9d9" stroke="#646464"/><ellipse cx="215.0" cy="522.4" rx="10.62" ry="7.97" fill="#c7c7c7" stroke="#5a5a5a"/><ellipse cx="215.0" cy="522.4" rx="9.23" ry="6.92" fill="#b5b5b5" stroke="#505050"/><ellipse cx="215.0" cy="522.4" rx="7.91" ry="5.93" fill="#a4a4a4" stroke="#464646"/><ellipse cx="215.0" cy="522.4" rx="6.64" ry="4.98" fill="#929292" stroke="#3c3c3c"/><ellipse cx="215.0" cy="522.4" rx="5.40" ry="4.05" fill="#808080" stroke="#323232"/><ellipse cx="215.0" cy="522.4" rx="4.20" ry="3.15" fill="#6e6e6e" stroke="#282828"/></g><g stroke-width="0.8" transform="rotate(10 211.5 520.6)"><ellipse cx="211.5" cy="520.6" rx="5.80" ry="8.30" fill="#464646" stroke="#000000"/><ellipse cx="211.5" cy="520.6" rx="4.43" ry="6.34" fill="#505050" stroke="#0d0d0d"/><ellipse cx="211.5" cy="520.6" rx="3.33" ry="4.77" fill="#5a5a5a" stroke="#1b1b1b"/><ellipse cx="211.5" cy="520.6" rx="2.32" ry="3.32" fill="#646464" stroke="#282828"/></g><path d="M210.5 525L212.5 516" stroke="#e5e5e5" stroke-width="1"/><rect x="202.30" y="507.30" width="34.60" height="27.60" fill="none" stroke="#1e1e1e" stroke-width="1.4"/><text x="223.20" y="549.00" font-size="8.6" text-anchor="middle" textLength="15.2" lengthAdjust="spacingAndGlyphs" fill="#222" style="stroke-width:.18px">89.3</text></g><clipPath id="c18"><rect x="287.60" y="492.75" width="60.90" height="61.25"/></clipPath><g clip-path="url(#c18)"><ellipse cx="305.0" cy="535.0" rx="9.6" ry="24.0" transform="rotate(-45 305.0 535.0)" fill="url(#rg)" fill-opacity="0.36" filter="url(#spkl)"/><ellipse cx="328.0" cy="520.0" rx="24.0" ry="16.8" transform="rotate(-20 328.0 520.0)" fill="url(#rg)" fill-opacity="0.27" filter="url(#spkl)"/><rect x="289.6" y="494.8" width="56.9" height="57.2" fill="#000" fill-opacity="0.003" filter="url(#spkl)"/><g stroke-width="0.5" transform="rotate(-32 299.5 545.2)"><ellipse cx="299.5" cy="545.2" rx="8.50" ry="4.80" fill="#fafafa" stroke="#505050"/><ellipse cx="299.5" cy="545.2" rx="6.67" ry="3.77" fill="#cacaca" stroke="#414141"/><ellipse cx="299.5" cy="545.2" rx="5.20" ry="2.94" fill="#9b9b9b" stroke="#323232"/><ellipse cx="299.5" cy="545.2" rx="3.84" ry="2.17" fill="#6c6c6c" stroke="#232323"/><ellipse cx="299.5" cy="545.2" rx="2.55" ry="1.44" fill="#3c3c3c" stroke="#141414"/></g><path d="M303.00 540.00C303.08 539.08 305.25 537.00 306.00 536.50C306.75 536.00 307.58 536.08 307.50 537.00C307.42 537.92 306.25 541.50 305.50 542.00C304.75 542.50 302.92 540.92 303.00 540.00Z" fill="none" stroke="#555" stroke-width="0.5"/><g stroke-width="0.5" transform="rotate(-15 327.5 520.0)"><ellipse cx="327.5" cy="520.0" rx="17.50" ry="10.50" fill="#ebebeb" stroke="#6e6e6e"/><ellipse cx="327.5" cy="520.0" rx="15.32" ry="9.19" fill="#dbdbdb" stroke="#656565"/><ellipse cx="327.5" cy="520.0" rx="13.58" ry="8.15" fill="#cacaca" stroke="#5d5d5d"/><ellipse cx="327.5" cy="520.0" rx="11.96" ry="7.18" fill="#bababa" stroke="#545454"/><ellipse cx="327.5" cy="520.0" rx="10.43" ry="6.26" fill="#a9a9a9" stroke="#4c4c4c"/><ellipse cx="327.5" cy="520.0" rx="8.95" ry="5.37" fill="#999999" stroke="#434343"/><ellipse cx="327.5" cy="520.0" rx="7.52" ry="4.51" fill="#888888" stroke="#3b3b3b"/><ellipse cx="327.5" cy="520.0" rx="6.12" ry="3.67" fill="#787878" stroke="#323232"/></g><g stroke-width="0.9" transform="rotate(-18 324.5 520.0)"><ellipse cx="324.5" cy="520.0" rx="11.50" ry="6.80" fill="#1e1e1e" stroke="#000000"/><ellipse cx="324.5" cy="520.0" rx="9.01" ry="5.33" fill="#2f2f2f" stroke="#070707"/><ellipse cx="324.5" cy="520.0" rx="7.02" ry="4.15" fill="#3f3f3f" stroke="#0d0d0d"/><ellipse cx="324.5" cy="520.0" rx="5.17" ry="3.06" fill="#505050" stroke="#141414"/></g><path d="M320 523Q325 518 330 517" stroke="#eee" stroke-width="1.2" fill="none"/><rect x="310.60" y="506.30" width="35.10" height="26.20" fill="none" stroke="#1e1e1e" stroke-width="1.4"/><text x="331.10" y="548.20" font-size="8.6" text-anchor="middle" textLength="15.2" lengthAdjust="spacingAndGlyphs" fill="#222" style="stroke-width:.18px">81.6</text></g><clipPath id="c19"><rect x="83.60" y="554.00" width="60.90" height="61.20"/></clipPath><g clip-path="url(#c19)"><ellipse cx="96.0" cy="586.0" rx="16.8" ry="33.6" fill="url(#rg)" fill-opacity="0.84" filter="url(#spk)"/><ellipse cx="106.0" cy="594.0" rx="21.6" ry="26.4" fill="url(#rg)" fill-opacity="0.51" filter="url(#spk)"/><ellipse cx="122.0" cy="577.0" rx="14.4" ry="16.8" fill="url(#rg)" fill-opacity="0.45" filter="url(#spk)"/><rect x="85.6" y="556.0" width="56.9" height="57.2" fill="#000" fill-opacity="0.004" filter="url(#spkl)"/><path d="M93.50 617.00C90.00 614.17 93.80 603.62 94.60 600.00C95.40 596.38 97.25 596.77 98.30 595.30C99.35 593.83 100.25 592.67 100.90 591.20C101.55 589.73 102.25 587.87 102.20 586.50C102.15 585.13 100.77 584.17 100.60 583.00C100.43 581.83 100.70 580.23 101.20 579.50C101.70 578.77 102.83 578.52 103.60 578.60C104.37 578.68 105.40 579.18 105.80 580.00C106.20 580.82 106.22 582.33 106.00 583.50C105.78 584.67 104.50 585.75 104.50 587.00C104.50 588.25 105.08 589.83 106.00 591.00C106.92 592.17 108.53 593.08 110.00 594.00C111.47 594.92 113.77 595.00 114.80 596.50C115.83 598.00 116.07 599.58 116.20 603.00C116.33 606.42 119.38 614.67 115.60 617.00C111.82 619.33 97.00 619.83 93.50 617.00Z" fill="#fff" stroke="#555" stroke-width="0.6"/><g stroke-width="0.5"><ellipse cx="106.3" cy="604.5" rx="9.20" ry="10.00" fill="#fafafa" stroke="#787878"/><ellipse cx="106.3" cy="604.5" rx="7.75" ry="8.43" fill="#eeeeee" stroke="#6e6e6e"/><ellipse cx="106.3" cy="604.5" rx="6.59" ry="7.17" fill="#e3e3e3" stroke="#646464"/><ellipse cx="106.3" cy="604.5" rx="5.52" ry="6.00" fill="#d7d7d7" stroke="#5a5a5a"/></g><g stroke-width="1.1"><ellipse cx="106.3" cy="603.3" rx="5.80" ry="6.80" fill="#787878" stroke="#0a0a0a"/><ellipse cx="106.3" cy="603.3" rx="4.35" ry="5.10" fill="#969696" stroke="#282828"/></g><g stroke-width="0.3"><ellipse cx="106.8" cy="603.0" rx="1.80" ry="2.20" fill="#c8c8c8" stroke="#a0a0a0"/></g><rect x="98.00" y="614.30" width="16.00" height="1.60" rx="0.80" fill="#111"/><rect x="110.20" y="564.90" width="25.50" height="28.10" fill="none" stroke="#1e1e1e" stroke-width="1.4"/><text x="124.70" y="608.60" font-size="8.6" text-anchor="middle" textLength="10.9" lengthAdjust="spacingAndGlyphs" fill="#222" style="stroke-width:.18px">1.1</text></g><clipPath id="c20"><rect x="185.70" y="554.00" width="60.90" height="61.20"/></clipPath><g clip-path="url(#c20)"><ellipse cx="226.0" cy="592.0" rx="14.4" ry="43.2" transform="rotate(-60 226.0 592.0)" fill="url(#rg)" fill-opacity="0.74" filter="url(#spk)"/><ellipse cx="200.0" cy="600.0" rx="19.2" ry="19.2" fill="url(#rg)" fill-opacity="0.37" filter="url(#spk)"/><rect x="187.7" y="556.0" width="56.9" height="57.2" fill="#000" fill-opacity="0.004" filter="url(#spkl)"/><path d="M186.00 601.00C187.33 597.50 191.17 597.08 194.00 596.00C196.83 594.92 200.33 594.83 203.00 594.50C205.67 594.17 208.42 593.08 210.00 594.00C211.58 594.92 212.17 596.17 212.50 600.00C212.83 603.83 216.42 614.17 212.00 617.00C207.58 619.83 190.33 619.67 186.00 617.00C181.67 614.33 184.67 604.50 186.00 601.00Z" fill="#fcfcfc" stroke="#6e6e6e" stroke-width="0.5"/><path d="M188.14 601.76C189.27 598.80 192.52 598.45 194.92 597.53C197.32 596.61 200.28 596.54 202.54 596.26C204.80 595.97 207.13 595.06 208.47 595.83C209.81 596.61 210.31 597.67 210.59 600.92C210.87 604.16 213.91 612.92 210.17 615.32C206.42 617.72 191.81 617.58 188.14 615.32C184.47 613.06 187.01 604.73 188.14 601.76Z" fill="#ececec" stroke="#646464" stroke-width="0.5"/><path d="M189.86 602.38C190.82 599.84 193.60 599.54 195.65 598.75C197.71 597.97 200.24 597.91 202.17 597.67C204.11 597.43 206.10 596.64 207.25 597.30C208.39 597.97 208.82 598.87 209.06 601.65C209.30 604.43 211.90 611.92 208.70 613.97C205.50 616.02 193.00 615.90 189.86 613.97C186.71 612.04 188.89 604.91 189.86 602.38Z" fill="#dbdbdb" stroke="#5a5a5a" stroke-width="0.5"/><path d="M191.44 602.94C192.26 600.80 194.60 600.55 196.33 599.89C198.06 599.22 200.20 599.17 201.83 598.97C203.46 598.77 205.15 598.10 206.11 598.66C207.08 599.22 207.44 599.99 207.64 602.33C207.85 604.68 210.04 610.99 207.34 612.72C204.64 614.46 194.09 614.35 191.44 612.72C188.79 611.09 190.63 605.08 191.44 602.94Z" fill="#cbcbcb" stroke="#505050" stroke-width="0.5"/><path d="M192.95 603.48C193.62 601.72 195.55 601.51 196.98 600.96C198.41 600.42 200.17 600.38 201.51 600.21C202.85 600.04 204.24 599.49 205.04 599.96C205.83 600.42 206.13 601.05 206.30 602.98C206.46 604.91 208.27 610.11 206.04 611.54C203.82 612.97 195.13 612.88 192.95 611.54C190.77 610.20 192.28 605.24 192.95 603.48Z" fill="#bababa" stroke="#464646" stroke-width="0.5"/><path d="M194.40 604.00C194.93 602.60 196.47 602.43 197.60 602.00C198.73 601.57 200.13 601.53 201.20 601.40C202.27 601.27 203.37 600.83 204.00 601.20C204.63 601.57 204.87 602.07 205.00 603.60C205.13 605.13 206.57 609.27 204.80 610.40C203.03 611.53 196.13 611.47 194.40 610.40C192.67 609.33 193.87 605.40 194.40 604.00Z" fill="#aaaaaa" stroke="#3c3c3c" stroke-width="0.5"/><g stroke-width="0.8" transform="rotate(-30 200.5 602.5)"><ellipse cx="200.5" cy="602.5" rx="7.50" ry="5.50" fill="#282828" stroke="#000000"/><ellipse cx="200.5" cy="602.5" rx="5.44" ry="3.99" fill="#4d4d4d" stroke="#0d0d0d"/><ellipse cx="200.5" cy="602.5" rx="3.78" ry="2.77" fill="#717171" stroke="#1b1b1b"/><ellipse cx="200.5" cy="602.5" rx="2.25" ry="1.65" fill="#969696" stroke="#282828"/></g><g stroke-width="0.6" transform="rotate(-62 217.0 580.0)"><ellipse cx="217.0" cy="580.0" rx="12.50" ry="3.20" fill="none" stroke="#3c3c3c"/><ellipse cx="217.0" cy="580.0" rx="6.25" ry="1.60" fill="none" stroke="#282828"/></g><path d="M220 570l2 -3" stroke="#333" stroke-width="1.2"/><rect x="206.70" y="566.40" width="33.70" height="27.10" fill="none" stroke="#1e1e1e" stroke-width="1.4"/><text x="231.50" y="608.30" font-size="8.6" text-anchor="middle" textLength="10.9" lengthAdjust="spacingAndGlyphs" fill="#222" style="stroke-width:.18px">4.8</text></g><clipPath id="c21"><rect x="287.60" y="554.00" width="60.90" height="61.20"/></clipPath><g clip-path="url(#c21)"><ellipse cx="322.0" cy="580.0" rx="12.0" ry="38.4" transform="rotate(-40 322.0 580.0)" fill="url(#rg)" fill-opacity="0.90" filter="url(#spk)"/><ellipse cx="318.0" cy="582.0" rx="4.8" ry="4.8" fill="url(#rg)" fill-opacity="1.00" filter="url(#spkd)"/><rect x="289.6" y="556.0" width="56.9" height="57.2" fill="#000" fill-opacity="0.004" filter="url(#spkl)"/><path d="M288.50 602.00C289.58 598.67 292.58 598.17 295.00 597.00C297.42 595.83 300.50 595.33 303.00 595.00C305.50 594.67 308.58 594.00 310.00 595.00C311.42 596.00 311.33 597.33 311.50 601.00C311.67 604.67 314.83 614.33 311.00 617.00C307.17 619.67 292.25 619.50 288.50 617.00C284.75 614.50 287.42 605.33 288.50 602.00Z" fill="#fcfcfc" stroke="#6e6e6e" stroke-width="0.5"/><path d="M290.26 602.76C291.17 599.94 293.72 599.52 295.76 598.53C297.81 597.54 300.42 597.12 302.54 596.83C304.66 596.55 307.27 595.99 308.47 596.83C309.67 597.68 309.60 598.81 309.74 601.92C309.88 605.02 312.57 613.21 309.32 615.47C306.07 617.73 293.43 617.59 290.26 615.47C287.08 613.35 289.34 605.59 290.26 602.76Z" fill="#ececec" stroke="#646464" stroke-width="0.5"/><path d="M291.67 603.38C292.45 600.96 294.63 600.60 296.38 599.75C298.13 598.91 300.36 598.55 302.17 598.30C303.99 598.06 306.22 597.58 307.25 598.30C308.27 599.03 308.21 600.00 308.33 602.65C308.45 605.31 310.75 612.31 307.97 614.25C305.19 616.18 294.38 616.06 291.67 614.25C288.95 612.43 290.88 605.79 291.67 603.38Z" fill="#dbdbdb" stroke="#5a5a5a" stroke-width="0.5"/><path d="M292.97 603.94C293.63 601.91 295.47 601.60 296.94 600.89C298.42 600.17 300.31 599.87 301.83 599.66C303.36 599.46 305.25 599.05 306.11 599.66C306.98 600.28 306.93 601.09 307.03 603.33C307.13 605.57 309.07 611.48 306.72 613.11C304.38 614.74 295.26 614.64 292.97 613.11C290.68 611.58 292.31 605.98 292.97 603.94Z" fill="#cbcbcb" stroke="#505050" stroke-width="0.5"/><path d="M294.21 604.48C294.75 602.80 296.26 602.55 297.48 601.96C298.70 601.38 300.25 601.12 301.51 600.96C302.77 600.79 304.32 600.45 305.04 600.96C305.75 601.46 305.71 602.13 305.79 603.98C305.88 605.82 307.47 610.69 305.54 612.04C303.61 613.38 296.10 613.30 294.21 612.04C292.32 610.78 293.66 606.16 294.21 604.48Z" fill="#bababa" stroke="#464646" stroke-width="0.5"/><path d="M295.40 605.00C295.83 603.67 297.03 603.47 298.00 603.00C298.97 602.53 300.20 602.33 301.20 602.20C302.20 602.07 303.43 601.80 304.00 602.20C304.57 602.60 304.53 603.13 304.60 604.60C304.67 606.07 305.93 609.93 304.40 611.00C302.87 612.07 296.90 612.00 295.40 611.00C293.90 610.00 294.97 606.33 295.40 605.00Z" fill="#aaaaaa" stroke="#3c3c3c" stroke-width="0.5"/><g stroke-width="0.8" transform="rotate(-20 300.7 604.3)"><ellipse cx="300.7" cy="604.3" rx="6.00" ry="7.50" fill="#282828" stroke="#000000"/><ellipse cx="300.7" cy="604.3" rx="4.35" ry="5.44" fill="#4d4d4d" stroke="#0d0d0d"/><ellipse cx="300.7" cy="604.3" rx="3.02" ry="3.78" fill="#717171" stroke="#1b1b1b"/><ellipse cx="300.7" cy="604.3" rx="1.80" ry="2.25" fill="#969696" stroke="#282828"/></g><path d="M308.00 603.00C308.50 601.17 311.33 595.33 313.00 592.00C314.67 588.67 317.67 583.00 318.00 583.00C318.33 583.00 316.33 588.67 315.00 592.00C313.67 595.33 311.17 601.17 310.00 603.00C308.83 604.83 307.50 604.83 308.00 603.00Z" fill="none" stroke="#555" stroke-width="0.5"/><rect x="305.50" y="568.30" width="33.00" height="27.00" fill="none" stroke="#1e1e1e" stroke-width="1.4"/><text x="331.10" y="609.20" font-size="8.6" text-anchor="middle" textLength="10.9" lengthAdjust="spacingAndGlyphs" fill="#222" style="stroke-width:.18px">4.5</text></g><clipPath id="c22"><rect x="83.60" y="615.20" width="60.90" height="61.20"/></clipPath><g clip-path="url(#c22)"><ellipse cx="96.0" cy="648.0" rx="16.8" ry="36.0" fill="url(#rg)" fill-opacity="0.64" filter="url(#spk)"/><ellipse cx="128.0" cy="636.0" rx="14.4" ry="24.0" fill="url(#rg)" fill-opacity="0.69" filter="url(#spk)"/><rect x="85.6" y="617.2" width="56.9" height="57.2" fill="#000" fill-opacity="0.004" filter="url(#spkl)"/><path d="M100.90 657.00C99.90 656.17 102.82 652.00 104.00 650.00C105.18 648.00 106.73 646.87 108.00 645.00C109.27 643.13 109.93 640.47 111.60 638.80C113.27 637.13 115.82 636.13 118.00 635.00C120.18 633.87 123.70 631.17 124.70 632.00C125.70 632.83 124.20 637.27 124.00 640.00C123.80 642.73 124.17 646.40 123.50 648.40C122.83 650.40 122.25 650.90 120.00 652.00C117.75 653.10 113.18 654.17 110.00 655.00C106.82 655.83 101.90 657.83 100.90 657.00Z" fill="#fff" stroke="#777" stroke-width="0.5"/><path d="M112.50 640.50C113.08 639.67 116.33 638.75 118.00 638.50C119.67 638.25 121.83 638.08 122.50 639.00C123.17 639.92 122.75 643.00 122.00 644.00C121.25 645.00 119.25 645.08 118.00 645.00C116.75 644.92 115.42 644.25 114.50 643.50C113.58 642.75 111.92 641.33 112.50 640.50Z" fill="none" stroke="#555" stroke-width="0.55"/><path d="M94.90 678.00C88.98 676.00 94.90 668.95 95.50 666.00C96.10 663.05 96.92 661.88 98.50 660.30C100.08 658.72 102.62 657.28 105.00 656.50C107.38 655.72 110.13 655.60 112.80 655.60C115.47 655.60 118.42 655.92 121.00 656.50C123.58 657.08 126.68 657.68 128.30 659.10C129.92 660.52 130.25 661.85 130.70 665.00C131.15 668.15 136.97 675.83 131.00 678.00C125.03 680.17 100.82 680.00 94.90 678.00Z" fill="#f5f5f5" stroke="#6e6e6e" stroke-width="0.5"/><path d="M97.19 677.20C92.07 675.46 97.19 669.36 97.71 666.80C98.23 664.25 98.94 663.24 100.31 661.87C101.68 660.50 103.87 659.25 105.94 658.58C108.00 657.90 110.38 657.80 112.69 657.80C115.00 657.80 117.56 658.07 119.79 658.58C122.03 659.08 124.72 659.60 126.12 660.83C127.52 662.05 127.81 663.21 128.20 665.94C128.59 668.67 133.62 675.32 128.46 677.20C123.29 679.07 102.31 678.93 97.19 677.20Z" fill="#e7e7e7" stroke="#676767" stroke-width="0.5"/><path d="M99.03 676.55C94.54 675.03 99.03 669.69 99.48 667.45C99.94 665.21 100.56 664.32 101.76 663.12C102.96 661.92 104.88 660.84 106.69 660.24C108.50 659.65 110.58 659.56 112.61 659.56C114.63 659.56 116.87 659.80 118.83 660.24C120.79 660.68 123.14 661.14 124.37 662.21C125.59 663.29 125.85 664.30 126.19 666.69C126.53 669.08 130.94 674.91 126.41 676.55C121.89 678.20 103.52 678.07 99.03 676.55Z" fill="#dadada" stroke="#606060" stroke-width="0.5"/><path d="M100.73 675.96C96.82 674.64 100.73 669.99 101.12 668.04C101.52 666.10 102.05 665.33 103.10 664.29C104.14 663.24 105.81 662.30 107.38 661.78C108.96 661.26 110.77 661.19 112.53 661.19C114.29 661.19 116.23 661.40 117.93 661.78C119.64 662.16 121.68 662.56 122.75 663.49C123.81 664.43 124.03 665.31 124.33 667.38C124.63 669.46 128.46 674.53 124.53 675.96C120.59 677.38 104.63 677.27 100.73 675.96Z" fill="#cccccc" stroke="#595959" stroke-width="0.5"/><path d="M102.34 675.39C99.00 674.26 102.34 670.28 102.68 668.61C103.02 666.94 103.48 666.28 104.37 665.39C105.27 664.50 106.70 663.69 108.05 663.24C109.39 662.80 110.95 662.73 112.45 662.73C113.96 662.73 115.63 662.91 117.08 663.24C118.54 663.57 120.30 663.91 121.21 664.71C122.12 665.51 122.31 666.27 122.57 668.05C122.82 669.82 126.11 674.17 122.73 675.39C119.36 676.61 105.68 676.52 102.34 675.39Z" fill="#bfbfbf" stroke="#515151" stroke-width="0.5"/><path d="M103.89 674.84C101.09 673.90 103.89 670.55 104.18 669.16C104.46 667.76 104.85 667.20 105.60 666.45C106.35 665.70 107.55 665.02 108.68 664.65C109.81 664.28 111.11 664.22 112.38 664.22C113.64 664.22 115.04 664.37 116.27 664.65C117.49 664.93 118.96 665.21 119.73 665.88C120.49 666.56 120.65 667.19 120.87 668.68C121.08 670.17 123.84 673.82 121.01 674.84C118.18 675.87 106.70 675.79 103.89 674.84Z" fill="#b1b1b1" stroke="#4a4a4a" stroke-width="0.5"/><path d="M105.40 674.32C103.12 673.54 105.40 670.82 105.63 669.68C105.86 668.55 106.18 668.10 106.79 667.48C107.40 666.87 108.38 666.32 109.30 666.02C110.22 665.72 111.28 665.67 112.31 665.67C113.34 665.67 114.48 665.79 115.47 666.02C116.47 666.24 117.67 666.47 118.29 667.02C118.92 667.57 119.04 668.08 119.22 669.30C119.39 670.51 121.64 673.48 119.33 674.32C117.03 675.15 107.68 675.09 105.40 674.32Z" fill="#a4a4a4" stroke="#434343" stroke-width="0.5"/><path d="M106.87 673.80C105.09 673.20 106.87 671.09 107.05 670.20C107.23 669.32 107.47 668.97 107.95 668.49C108.43 668.01 109.19 667.59 109.90 667.35C110.62 667.12 111.44 667.08 112.24 667.08C113.04 667.08 113.92 667.18 114.70 667.35C115.48 667.52 116.41 667.71 116.89 668.13C117.38 668.55 117.47 668.95 117.61 669.90C117.75 670.85 119.49 673.15 117.70 673.80C115.91 674.45 108.65 674.40 106.87 673.80Z" fill="#969696" stroke="#3c3c3c" stroke-width="0.5"/><g stroke-width="1.0"><ellipse cx="111.8" cy="666.0" rx="11.00" ry="7.50" fill="#828282" stroke="#141414"/><ellipse cx="111.8" cy="666.0" rx="8.56" ry="5.84" fill="#8c8c8c" stroke="#282828"/><ellipse cx="111.8" cy="666.0" rx="6.60" ry="4.50" fill="#969696" stroke="#3c3c3c"/></g><rect x="97.00" y="675.30" width="31.00" height="1.80" rx="0.90" fill="#111"/><rect x="110.20" y="626.30" width="25.50" height="28.00" fill="none" stroke="#1e1e1e" stroke-width="1.4"/><rect x="117.70" y="661.30" width="14" height="10" fill="#fff"/><text x="124.70" y="669.40" font-size="8.6" text-anchor="middle" textLength="10.9" lengthAdjust="spacingAndGlyphs" fill="#222" style="stroke-width:.18px">6.3</text></g><clipPath id="c23"><rect x="185.70" y="615.20" width="60.90" height="61.20"/></clipPath><g clip-path="url(#c23)"><ellipse cx="222.0" cy="640.0" rx="19.2" ry="43.2" transform="rotate(-60 222.0 640.0)" fill="url(#rg)" fill-opacity="0.50" filter="url(#spk)"/><ellipse cx="198.0" cy="652.0" rx="16.8" ry="21.6" fill="url(#rg)" fill-opacity="0.38" filter="url(#spk)"/><rect x="187.7" y="617.2" width="56.9" height="57.2" fill="#000" fill-opacity="0.004" filter="url(#spkl)"/><path d="M191.50 678.00C187.18 675.85 191.67 668.18 192.50 665.10C193.33 662.02 194.77 660.88 196.50 659.50C198.23 658.12 200.65 657.38 202.90 656.80C205.15 656.22 207.82 656.10 210.00 656.00C212.18 655.90 214.20 655.77 216.00 656.20C217.80 656.63 219.88 656.97 220.80 658.60C221.72 660.23 221.55 663.93 221.50 666.00C221.45 668.07 221.02 669.00 220.50 671.00C219.98 673.00 223.23 676.83 218.40 678.00C213.57 679.17 195.82 680.15 191.50 678.00Z" fill="#f5f5f5" stroke="#6e6e6e" stroke-width="0.5"/><path d="M193.44 677.06C189.70 675.20 193.59 668.56 194.31 665.89C195.03 663.22 196.27 662.24 197.77 661.04C199.27 659.84 201.37 659.21 203.32 658.70C205.26 658.20 207.57 658.10 209.46 658.01C211.36 657.92 213.10 657.81 214.66 658.18C216.22 658.56 218.02 658.85 218.82 660.26C219.61 661.67 219.47 664.88 219.42 666.67C219.38 668.46 219.01 669.27 218.56 671.00C218.11 672.73 220.93 676.05 216.74 677.06C212.55 678.07 197.18 678.92 193.44 677.06Z" fill="#e7e7e7" stroke="#676767" stroke-width="0.5"/><path d="M195.00 676.31C191.72 674.68 195.13 668.86 195.76 666.52C196.39 664.18 197.48 663.32 198.79 662.28C200.11 661.23 201.94 660.67 203.65 660.23C205.36 659.78 207.38 659.70 209.03 659.62C210.69 659.54 212.22 659.44 213.59 659.77C214.95 660.10 216.53 660.35 217.23 661.59C217.92 662.83 217.80 665.64 217.76 667.21C217.72 668.77 217.39 669.48 217.00 671.00C216.61 672.52 219.07 675.43 215.41 676.31C211.74 677.20 198.27 677.94 195.00 676.31Z" fill="#dadada" stroke="#606060" stroke-width="0.5"/><path d="M196.44 675.62C193.59 674.20 196.55 669.14 197.10 667.11C197.65 665.08 198.59 664.33 199.74 663.42C200.88 662.51 202.47 662.02 203.96 661.64C205.44 661.25 207.20 661.18 208.64 661.11C210.08 661.04 211.41 660.96 212.59 661.24C213.78 661.53 215.15 661.75 215.76 662.82C216.36 663.90 216.25 666.34 216.22 667.70C216.19 669.07 215.90 669.68 215.56 671.00C215.22 672.32 217.36 674.85 214.18 675.62C210.99 676.38 199.29 677.03 196.44 675.62Z" fill="#cccccc" stroke="#595959" stroke-width="0.5"/><path d="M197.81 674.95C195.37 673.74 197.90 669.41 198.37 667.67C198.84 665.92 199.65 665.28 200.63 664.50C201.61 663.72 202.98 663.31 204.25 662.98C205.52 662.65 207.03 662.58 208.26 662.53C209.49 662.47 210.63 662.39 211.65 662.64C212.67 662.88 213.84 663.07 214.36 663.99C214.88 664.92 214.79 667.01 214.76 668.18C214.73 669.34 214.48 669.87 214.19 671.00C213.90 672.13 215.74 674.30 213.01 674.95C210.27 675.61 200.25 676.17 197.81 674.95Z" fill="#bfbfbf" stroke="#515151" stroke-width="0.5"/><path d="M199.13 674.32C197.08 673.30 199.20 669.66 199.60 668.20C199.99 666.74 200.67 666.20 201.50 665.55C202.32 664.89 203.46 664.54 204.53 664.27C205.60 663.99 206.86 663.94 207.90 663.89C208.93 663.84 209.89 663.78 210.74 663.98C211.59 664.19 212.58 664.35 213.02 665.12C213.45 665.90 213.37 667.65 213.35 668.63C213.33 669.61 213.12 670.05 212.87 671.00C212.63 671.95 214.17 673.77 211.88 674.32C209.59 674.87 201.17 675.34 199.13 674.32Z" fill="#b1b1b1" stroke="#4a4a4a" stroke-width="0.5"/><path d="M200.40 673.70C198.74 672.87 200.47 669.91 200.79 668.72C201.11 667.53 201.66 667.10 202.33 666.56C203.00 666.03 203.94 665.74 204.80 665.52C205.67 665.29 206.70 665.25 207.54 665.21C208.39 665.17 209.16 665.12 209.86 665.29C210.55 665.45 211.36 665.58 211.71 666.21C212.07 666.84 212.00 668.27 211.98 669.07C211.96 669.87 211.80 670.23 211.60 671.00C211.40 671.77 212.65 673.25 210.79 673.70C208.92 674.15 202.07 674.53 200.40 673.70Z" fill="#a4a4a4" stroke="#434343" stroke-width="0.5"/><path d="M201.65 673.10C200.36 672.46 201.70 670.15 201.95 669.23C202.20 668.31 202.63 667.96 203.15 667.55C203.67 667.13 204.39 666.91 205.07 666.74C205.75 666.57 206.54 666.53 207.20 666.50C207.85 666.47 208.46 666.43 209.00 666.56C209.54 666.69 210.16 666.79 210.44 667.28C210.72 667.77 210.67 668.88 210.65 669.50C210.63 670.12 210.50 670.40 210.35 671.00C210.19 671.60 211.17 672.75 209.72 673.10C208.27 673.45 202.94 673.75 201.65 673.10Z" fill="#969696" stroke="#3c3c3c" stroke-width="0.5"/><g stroke-width="1.0" transform="rotate(-22 205.3 664.5)"><ellipse cx="205.3" cy="664.5" rx="9.50" ry="6.20" fill="#787878" stroke="#0f0f0f"/><ellipse cx="205.3" cy="664.5" rx="7.39" ry="4.82" fill="#878787" stroke="#262626"/><ellipse cx="205.3" cy="664.5" rx="5.70" ry="3.72" fill="#969696" stroke="#3c3c3c"/></g><path d="M211.50 654.00C210.92 652.92 211.50 650.33 212.00 648.00C212.50 645.67 213.58 642.50 214.50 640.00C215.42 637.50 216.67 634.92 217.50 633.00C218.33 631.08 218.67 629.33 219.50 628.50C220.33 627.67 222.00 627.25 222.50 628.00C223.00 628.75 222.67 631.00 222.50 633.00C222.33 635.00 222.17 637.50 221.50 640.00C220.83 642.50 219.50 645.58 218.50 648.00C217.50 650.42 216.67 653.50 215.50 654.50C214.33 655.50 212.08 655.08 211.50 654.00Z" fill="#fcfcfc" stroke="#3c3c3c" stroke-width="0.55"/><path d="M213.70 648.80C213.35 648.15 213.70 646.60 214.00 645.20C214.30 643.80 214.95 641.90 215.50 640.40C216.05 638.90 216.80 637.35 217.30 636.20C217.80 635.05 218.00 634.00 218.50 633.50C219.00 633.00 220.00 632.75 220.30 633.20C220.60 633.65 220.40 635.00 220.30 636.20C220.20 637.40 220.10 638.90 219.70 640.40C219.30 641.90 218.50 643.75 217.90 645.20C217.30 646.65 216.80 648.50 216.10 649.10C215.40 649.70 214.05 649.45 213.70 648.80Z" fill="#f5f5f5" stroke="#5a5a5a" stroke-width="0.55"/><path d="M221.00 634.00C221.17 632.58 223.83 629.33 225.00 628.50C226.17 627.67 228.17 627.58 228.00 629.00C227.83 630.42 225.17 636.17 224.00 637.00C222.83 637.83 220.83 635.42 221.00 634.00Z" fill="none" stroke="#555" stroke-width="0.5"/><rect x="206.70" y="627.50" width="33.70" height="27.10" fill="none" stroke="#1e1e1e" stroke-width="1.4"/><text x="230.90" y="670.30" font-size="8.6" text-anchor="middle" textLength="10.9" lengthAdjust="spacingAndGlyphs" fill="#222" style="stroke-width:.18px">8.7</text></g><clipPath id="c24"><rect x="287.60" y="615.20" width="60.90" height="61.20"/></clipPath><g clip-path="url(#c24)"><ellipse cx="322.0" cy="640.0" rx="19.2" ry="43.2" transform="rotate(-50 322.0 640.0)" fill="url(#rg)" fill-opacity="0.50" filter="url(#spk)"/><ellipse cx="300.0" cy="652.0" rx="16.8" ry="21.6" fill="url(#rg)" fill-opacity="0.38" filter="url(#spk)"/><rect x="289.6" y="617.2" width="56.9" height="57.2" fill="#000" fill-opacity="0.004" filter="url(#spkl)"/><path d="M288.50 678.00C284.25 676.33 288.33 670.83 289.00 668.00C289.67 665.17 290.75 662.92 292.50 661.00C294.25 659.08 296.92 657.58 299.50 656.50C302.08 655.42 305.42 654.83 308.00 654.50C310.58 654.17 313.58 653.25 315.00 654.50C316.42 655.75 316.58 658.08 316.50 662.00C316.42 665.92 319.17 675.33 314.50 678.00C309.83 680.67 292.75 679.67 288.50 678.00Z" fill="#f5f5f5" stroke="#6e6e6e" stroke-width="0.5"/><path d="M290.44 676.93C286.76 675.49 290.30 670.72 290.87 668.27C291.45 665.81 292.39 663.87 293.91 662.21C295.42 660.55 297.73 659.25 299.97 658.31C302.21 657.37 305.09 656.86 307.33 656.58C309.57 656.29 312.17 655.49 313.39 656.58C314.62 657.66 314.76 659.68 314.69 663.07C314.62 666.46 317.00 674.62 312.96 676.93C308.92 679.24 294.12 678.37 290.44 676.93Z" fill="#e7e7e7" stroke="#676767" stroke-width="0.5"/><path d="M292.00 676.07C288.78 674.80 291.87 670.63 292.38 668.48C292.88 666.33 293.71 664.63 295.03 663.17C296.36 661.72 298.38 660.58 300.34 659.76C302.30 658.94 304.83 658.49 306.79 658.24C308.75 657.99 311.03 657.29 312.10 658.24C313.18 659.19 313.31 660.96 313.24 663.93C313.18 666.90 315.26 674.05 311.72 676.07C308.18 678.09 295.22 677.33 292.00 676.07Z" fill="#dadada" stroke="#606060" stroke-width="0.5"/><path d="M293.44 675.27C290.64 674.18 293.33 670.55 293.77 668.68C294.21 666.81 294.92 665.33 296.08 664.07C297.23 662.80 298.99 661.81 300.69 661.10C302.40 660.38 304.59 660.00 306.30 659.78C308.00 659.56 309.98 658.96 310.91 659.78C311.85 660.60 311.96 662.14 311.90 664.73C311.85 667.31 313.66 673.52 310.58 675.27C307.51 677.03 296.24 676.37 293.44 675.27Z" fill="#cccccc" stroke="#595959" stroke-width="0.5"/><path d="M294.81 674.52C292.41 673.58 294.71 670.47 295.09 668.87C295.47 667.27 296.08 666.00 297.07 664.92C298.06 663.83 299.56 662.98 301.02 662.37C302.48 661.76 304.37 661.43 305.82 661.24C307.28 661.05 308.98 660.54 309.78 661.24C310.58 661.95 310.67 663.27 310.63 665.48C310.58 667.69 312.13 673.01 309.50 674.52C306.86 676.03 297.21 675.46 294.81 674.52Z" fill="#bfbfbf" stroke="#515151" stroke-width="0.5"/><path d="M296.13 673.79C294.11 673.00 296.05 670.40 296.36 669.05C296.68 667.71 297.19 666.64 298.02 665.73C298.85 664.82 300.12 664.11 301.34 663.60C302.57 663.09 304.15 662.81 305.37 662.65C306.60 662.49 308.02 662.06 308.69 662.65C309.36 663.24 309.44 664.35 309.40 666.21C309.36 668.06 310.66 672.53 308.45 673.79C306.24 675.06 298.14 674.58 296.13 673.79Z" fill="#b1b1b1" stroke="#4a4a4a" stroke-width="0.5"/><path d="M297.40 673.09C295.76 672.44 297.34 670.32 297.60 669.23C297.85 668.13 298.27 667.27 298.95 666.53C299.62 665.79 300.65 665.21 301.65 664.79C302.65 664.37 303.93 664.15 304.93 664.02C305.93 663.89 307.08 663.54 307.63 664.02C308.18 664.50 308.24 665.40 308.21 666.91C308.18 668.42 309.24 672.06 307.44 673.09C305.64 674.12 299.04 673.73 297.40 673.09Z" fill="#a4a4a4" stroke="#434343" stroke-width="0.5"/><path d="M298.65 672.40C297.38 671.90 298.60 670.25 298.80 669.40C299.00 668.55 299.33 667.88 299.85 667.30C300.38 666.72 301.18 666.28 301.95 665.95C302.72 665.62 303.73 665.45 304.50 665.35C305.27 665.25 306.18 664.98 306.60 665.35C307.03 665.73 307.08 666.43 307.05 667.60C307.02 668.77 307.85 671.60 306.45 672.40C305.05 673.20 299.92 672.90 298.65 672.40Z" fill="#969696" stroke="#3c3c3c" stroke-width="0.5"/><g stroke-width="1.0" transform="rotate(-38 304.9 664.5)"><ellipse cx="304.9" cy="664.5" rx="8.50" ry="5.50" fill="#5a5a5a" stroke="#0a0a0a"/><ellipse cx="304.9" cy="664.5" rx="6.61" ry="4.28" fill="#737373" stroke="#232323"/><ellipse cx="304.9" cy="664.5" rx="5.10" ry="3.30" fill="#8c8c8c" stroke="#3c3c3c"/></g><path d="M309.50 655.00C309.25 653.58 310.17 650.50 311.00 648.00C311.83 645.50 313.33 642.33 314.50 640.00C315.67 637.67 316.75 635.58 318.00 634.00C319.25 632.42 320.83 630.92 322.00 630.50C323.17 630.08 324.75 630.42 325.00 631.50C325.25 632.58 324.33 634.75 323.50 637.00C322.67 639.25 321.25 642.50 320.00 645.00C318.75 647.50 317.25 650.08 316.00 652.00C314.75 653.92 313.58 656.00 312.50 656.50C311.42 657.00 309.75 656.42 309.50 655.00Z" fill="#fcfcfc" stroke="#3c3c3c" stroke-width="0.55"/><path d="M312.90 650.20C312.75 649.35 313.30 647.50 313.80 646.00C314.30 644.50 315.20 642.60 315.90 641.20C316.60 639.80 317.25 638.55 318.00 637.60C318.75 636.65 319.70 635.75 320.40 635.50C321.10 635.25 322.05 635.45 322.20 636.10C322.35 636.75 321.80 638.05 321.30 639.40C320.80 640.75 319.95 642.70 319.20 644.20C318.45 645.70 317.55 647.25 316.80 648.40C316.05 649.55 315.35 650.80 314.70 651.10C314.05 651.40 313.05 651.05 312.90 650.20Z" fill="#f5f5f5" stroke="#5a5a5a" stroke-width="0.55"/><g stroke-width="0.6" transform="rotate(-45 328.7 637.8)"><ellipse cx="328.7" cy="637.8" rx="5.20" ry="2.60" fill="#fafafa" stroke="#323232"/></g><rect x="305.50" y="629.50" width="33.00" height="27.50" fill="none" stroke="#1e1e1e" stroke-width="1.4"/><text x="325.80" y="670.60" font-size="8.6" text-anchor="middle" textLength="15.2" lengthAdjust="spacingAndGlyphs" fill="#222" style="stroke-width:.18px">10.8</text></g><path d="M83.60 676.40V431.50H144.50V676.40" fill="none" stroke="#707070" stroke-width="1.6"/><line x1="83.60" y1="492.75" x2="144.50" y2="492.75" stroke="#333" stroke-width="1.2"/><line x1="83.60" y1="554.00" x2="144.50" y2="554.00" stroke="#333" stroke-width="1.2"/><line x1="83.60" y1="615.20" x2="144.50" y2="615.20" stroke="#333" stroke-width="1.2"/><line x1="83.00" y1="676.40" x2="145.10" y2="676.40" stroke="#222" stroke-width="1.4"/><path d="M80.20 436.70h3.4M80.20 450.50h3.4M80.20 465.20h3.4M80.20 479.50h3.4M80.20 487.40h3.4M81.80 446.35h1.8M81.80 443.92h1.8M81.80 442.19h1.8M81.80 440.85h1.8M81.80 439.76h1.8M81.80 438.84h1.8M81.80 438.04h1.8M81.80 437.33h1.8M81.80 460.77h1.8M81.80 458.19h1.8M81.80 456.35h1.8M81.80 454.93h1.8M81.80 453.76h1.8M81.80 452.78h1.8M81.80 451.92h1.8M81.80 451.17h1.8M81.80 475.20h1.8M81.80 472.68h1.8M81.80 470.89h1.8M81.80 469.50h1.8M81.80 468.37h1.8M81.80 467.42h1.8M81.80 466.59h1.8M81.80 465.85h1.8M81.80 432.55h1.8M81.80 482.70h1.8M81.80 485.60h1.8M81.80 489.70h1.8M81.80 491.70h1.8" stroke="#111" stroke-width="0.95" fill="none"/><g><text x="77.10" y="440.15" font-size="8.6" text-anchor="end" textLength="11.7" lengthAdjust="spacingAndGlyphs">10<tspan dy="-3.8" font-size="5.5">5</tspan></text><text x="77.10" y="453.95" font-size="8.6" text-anchor="end" textLength="11.7" lengthAdjust="spacingAndGlyphs">10<tspan dy="-3.8" font-size="5.5">4</tspan></text><text x="77.10" y="468.65" font-size="8.6" text-anchor="end" textLength="11.7" lengthAdjust="spacingAndGlyphs">10<tspan dy="-3.8" font-size="5.5">3</tspan></text><text x="77.10" y="482.95" font-size="8.6" text-anchor="end" textLength="11.7" lengthAdjust="spacingAndGlyphs">10<tspan dy="-3.8" font-size="5.5">2</tspan></text><text x="76.70" y="490.85" font-size="8.6" text-anchor="end">0</text></g><path d="M80.20 497.95h3.4M80.20 511.75h3.4M80.20 526.45h3.4M80.20 540.75h3.4M80.20 548.65h3.4M81.80 507.60h1.8M81.80 505.17h1.8M81.80 503.44h1.8M81.80 502.10h1.8M81.80 501.01h1.8M81.80 500.09h1.8M81.80 499.29h1.8M81.80 498.58h1.8M81.80 522.02h1.8M81.80 519.44h1.8M81.80 517.60h1.8M81.80 516.18h1.8M81.80 515.01h1.8M81.80 514.03h1.8M81.80 513.17h1.8M81.80 512.42h1.8M81.80 536.45h1.8M81.80 533.93h1.8M81.80 532.14h1.8M81.80 530.75h1.8M81.80 529.62h1.8M81.80 528.67h1.8M81.80 527.84h1.8M81.80 527.10h1.8M81.80 493.80h1.8M81.80 543.95h1.8M81.80 546.85h1.8M81.80 550.95h1.8M81.80 552.95h1.8" stroke="#111" stroke-width="0.95" fill="none"/><g><text x="77.10" y="501.40" font-size="8.6" text-anchor="end" textLength="11.7" lengthAdjust="spacingAndGlyphs">10<tspan dy="-3.8" font-size="5.5">5</tspan></text><text x="77.10" y="515.20" font-size="8.6" text-anchor="end" textLength="11.7" lengthAdjust="spacingAndGlyphs">10<tspan dy="-3.8" font-size="5.5">4</tspan></text><text x="77.10" y="529.90" font-size="8.6" text-anchor="end" textLength="11.7" lengthAdjust="spacingAndGlyphs">10<tspan dy="-3.8" font-size="5.5">3</tspan></text><text x="77.10" y="544.20" font-size="8.6" text-anchor="end" textLength="11.7" lengthAdjust="spacingAndGlyphs">10<tspan dy="-3.8" font-size="5.5">2</tspan></text><text x="76.70" y="552.10" font-size="8.6" text-anchor="end">0</text></g><path d="M80.20 559.20h3.4M80.20 573.00h3.4M80.20 587.70h3.4M80.20 602.00h3.4M80.20 609.90h3.4M81.80 568.85h1.8M81.80 566.42h1.8M81.80 564.69h1.8M81.80 563.35h1.8M81.80 562.26h1.8M81.80 561.34h1.8M81.80 560.54h1.8M81.80 559.83h1.8M81.80 583.27h1.8M81.80 580.69h1.8M81.80 578.85h1.8M81.80 577.43h1.8M81.80 576.26h1.8M81.80 575.28h1.8M81.80 574.42h1.8M81.80 573.67h1.8M81.80 597.70h1.8M81.80 595.18h1.8M81.80 593.39h1.8M81.80 592.00h1.8M81.80 590.87h1.8M81.80 589.92h1.8M81.80 589.09h1.8M81.80 588.35h1.8M81.80 555.05h1.8M81.80 605.20h1.8M81.80 608.10h1.8M81.80 612.20h1.8M81.80 614.20h1.8" stroke="#111" stroke-width="0.95" fill="none"/><g><text x="77.10" y="562.65" font-size="8.6" text-anchor="end" textLength="11.7" lengthAdjust="spacingAndGlyphs">10<tspan dy="-3.8" font-size="5.5">5</tspan></text><text x="77.10" y="576.45" font-size="8.6" text-anchor="end" textLength="11.7" lengthAdjust="spacingAndGlyphs">10<tspan dy="-3.8" font-size="5.5">4</tspan></text><text x="77.10" y="591.15" font-size="8.6" text-anchor="end" textLength="11.7" lengthAdjust="spacingAndGlyphs">10<tspan dy="-3.8" font-size="5.5">3</tspan></text><text x="77.10" y="605.45" font-size="8.6" text-anchor="end" textLength="11.7" lengthAdjust="spacingAndGlyphs">10<tspan dy="-3.8" font-size="5.5">2</tspan></text><text x="76.70" y="613.35" font-size="8.6" text-anchor="end">0</text></g><path d="M80.20 620.40h3.4M80.20 634.20h3.4M80.20 648.90h3.4M80.20 663.20h3.4M80.20 671.10h3.4M81.80 630.05h1.8M81.80 627.62h1.8M81.80 625.89h1.8M81.80 624.55h1.8M81.80 623.46h1.8M81.80 622.54h1.8M81.80 621.74h1.8M81.80 621.03h1.8M81.80 644.47h1.8M81.80 641.89h1.8M81.80 640.05h1.8M81.80 638.63h1.8M81.80 637.46h1.8M81.80 636.48h1.8M81.80 635.62h1.8M81.80 634.87h1.8M81.80 658.90h1.8M81.80 656.38h1.8M81.80 654.59h1.8M81.80 653.20h1.8M81.80 652.07h1.8M81.80 651.12h1.8M81.80 650.29h1.8M81.80 649.55h1.8M81.80 616.25h1.8M81.80 666.40h1.8M81.80 669.30h1.8M81.80 673.40h1.8M81.80 675.40h1.8" stroke="#111" stroke-width="0.95" fill="none"/><g><text x="77.10" y="623.85" font-size="8.6" text-anchor="end" textLength="11.7" lengthAdjust="spacingAndGlyphs">10<tspan dy="-3.8" font-size="5.5">5</tspan></text><text x="77.10" y="637.65" font-size="8.6" text-anchor="end" textLength="11.7" lengthAdjust="spacingAndGlyphs">10<tspan dy="-3.8" font-size="5.5">4</tspan></text><text x="77.10" y="652.35" font-size="8.6" text-anchor="end" textLength="11.7" lengthAdjust="spacingAndGlyphs">10<tspan dy="-3.8" font-size="5.5">3</tspan></text><text x="77.10" y="666.65" font-size="8.6" text-anchor="end" textLength="11.7" lengthAdjust="spacingAndGlyphs">10<tspan dy="-3.8" font-size="5.5">2</tspan></text><text x="76.70" y="674.55" font-size="8.6" text-anchor="end">0</text></g><path d="M97.73 676.40v3M112.41 676.40v3M126.60 676.40v3M139.81 676.40v3M102.15 676.40v1.7M104.73 676.40v1.7M106.57 676.40v1.7M107.99 676.40v1.7M109.15 676.40v1.7M110.13 676.40v1.7M110.98 676.40v1.7M111.73 676.40v1.7M116.68 676.40v1.7M119.18 676.40v1.7M120.95 676.40v1.7M122.32 676.40v1.7M123.45 676.40v1.7M124.40 676.40v1.7M125.22 676.40v1.7M125.95 676.40v1.7M130.57 676.40v1.7M132.90 676.40v1.7M134.55 676.40v1.7M135.83 676.40v1.7M136.88 676.40v1.7M137.76 676.40v1.7M138.53 676.40v1.7M139.21 676.40v1.7M86.10 676.40v1.7M88.60 676.40v1.7M93.73 676.40v1.7M95.73 676.40v1.7" stroke="#111" stroke-width="0.95" fill="none"/><g><text x="86.89" y="690.80" font-size="8.6" text-anchor="middle">0</text><text x="97.73" y="690.80" font-size="8.6" text-anchor="middle" textLength="11.7" lengthAdjust="spacingAndGlyphs">10<tspan dy="-3.8" font-size="5.5">2</tspan></text><text x="112.41" y="690.80" font-size="8.6" text-anchor="middle" textLength="11.7" lengthAdjust="spacingAndGlyphs">10<tspan dy="-3.8" font-size="5.5">3</tspan></text><text x="126.60" y="690.80" font-size="8.6" text-anchor="middle" textLength="11.7" lengthAdjust="spacingAndGlyphs">10<tspan dy="-3.8" font-size="5.5">4</tspan></text><text x="139.81" y="690.80" font-size="8.6" text-anchor="middle" textLength="11.7" lengthAdjust="spacingAndGlyphs">10<tspan dy="-3.8" font-size="5.5">5</tspan></text></g><path d="M185.70 676.40V431.50H246.60V676.40" fill="none" stroke="#707070" stroke-width="1.6"/><line x1="185.70" y1="492.75" x2="246.60" y2="492.75" stroke="#333" stroke-width="1.2"/><line x1="185.70" y1="554.00" x2="246.60" y2="554.00" stroke="#333" stroke-width="1.2"/><line x1="185.70" y1="615.20" x2="246.60" y2="615.20" stroke="#333" stroke-width="1.2"/><line x1="185.10" y1="676.40" x2="247.20" y2="676.40" stroke="#222" stroke-width="1.4"/><path d="M182.30 436.70h3.4M182.30 450.50h3.4M182.30 465.20h3.4M182.30 479.50h3.4M182.30 487.40h3.4M183.90 446.35h1.8M183.90 443.92h1.8M183.90 442.19h1.8M183.90 440.85h1.8M183.90 439.76h1.8M183.90 438.84h1.8M183.90 438.04h1.8M183.90 437.33h1.8M183.90 460.77h1.8M183.90 458.19h1.8M183.90 456.35h1.8M183.90 454.93h1.8M183.90 453.76h1.8M183.90 452.78h1.8M183.90 451.92h1.8M183.90 451.17h1.8M183.90 475.20h1.8M183.90 472.68h1.8M183.90 470.89h1.8M183.90 469.50h1.8M183.90 468.37h1.8M183.90 467.42h1.8M183.90 466.59h1.8M183.90 465.85h1.8M183.90 432.55h1.8M183.90 482.70h1.8M183.90 485.60h1.8M183.90 489.70h1.8M183.90 491.70h1.8" stroke="#111" stroke-width="0.95" fill="none"/><g><text x="179.20" y="440.15" font-size="8.6" text-anchor="end" textLength="11.7" lengthAdjust="spacingAndGlyphs">10<tspan dy="-3.8" font-size="5.5">5</tspan></text><text x="179.20" y="453.95" font-size="8.6" text-anchor="end" textLength="11.7" lengthAdjust="spacingAndGlyphs">10<tspan dy="-3.8" font-size="5.5">4</tspan></text><text x="179.20" y="468.65" font-size="8.6" text-anchor="end" textLength="11.7" lengthAdjust="spacingAndGlyphs">10<tspan dy="-3.8" font-size="5.5">3</tspan></text><text x="179.20" y="482.95" font-size="8.6" text-anchor="end" textLength="11.7" lengthAdjust="spacingAndGlyphs">10<tspan dy="-3.8" font-size="5.5">2</tspan></text><text x="178.80" y="490.85" font-size="8.6" text-anchor="end">0</text></g><path d="M182.30 497.95h3.4M182.30 511.75h3.4M182.30 526.45h3.4M182.30 540.75h3.4M182.30 548.65h3.4M183.90 507.60h1.8M183.90 505.17h1.8M183.90 503.44h1.8M183.90 502.10h1.8M183.90 501.01h1.8M183.90 500.09h1.8M183.90 499.29h1.8M183.90 498.58h1.8M183.90 522.02h1.8M183.90 519.44h1.8M183.90 517.60h1.8M183.90 516.18h1.8M183.90 515.01h1.8M183.90 514.03h1.8M183.90 513.17h1.8M183.90 512.42h1.8M183.90 536.45h1.8M183.90 533.93h1.8M183.90 532.14h1.8M183.90 530.75h1.8M183.90 529.62h1.8M183.90 528.67h1.8M183.90 527.84h1.8M183.90 527.10h1.8M183.90 493.80h1.8M183.90 543.95h1.8M183.90 546.85h1.8M183.90 550.95h1.8M183.90 552.95h1.8" stroke="#111" stroke-width="0.95" fill="none"/><g><text x="179.20" y="501.40" font-size="8.6" text-anchor="end" textLength="11.7" lengthAdjust="spacingAndGlyphs">10<tspan dy="-3.8" font-size="5.5">5</tspan></text><text x="179.20" y="515.20" font-size="8.6" text-anchor="end" textLength="11.7" lengthAdjust="spacingAndGlyphs">10<tspan dy="-3.8" font-size="5.5">4</tspan></text><text x="179.20" y="529.90" font-size="8.6" text-anchor="end" textLength="11.7" lengthAdjust="spacingAndGlyphs">10<tspan dy="-3.8" font-size="5.5">3</tspan></text><text x="179.20" y="544.20" font-size="8.6" text-anchor="end" textLength="11.7" lengthAdjust="spacingAndGlyphs">10<tspan dy="-3.8" font-size="5.5">2</tspan></text><text x="178.80" y="552.10" font-size="8.6" text-anchor="end">0</text></g><path d="M182.30 559.20h3.4M182.30 573.00h3.4M182.30 587.70h3.4M182.30 602.00h3.4M182.30 609.90h3.4M183.90 568.85h1.8M183.90 566.42h1.8M183.90 564.69h1.8M183.90 563.35h1.8M183.90 562.26h1.8M183.90 561.34h1.8M183.90 560.54h1.8M183.90 559.83h1.8M183.90 583.27h1.8M183.90 580.69h1.8M183.90 578.85h1.8M183.90 577.43h1.8M183.90 576.26h1.8M183.90 575.28h1.8M183.90 574.42h1.8M183.90 573.67h1.8M183.90 597.70h1.8M183.90 595.18h1.8M183.90 593.39h1.8M183.90 592.00h1.8M183.90 590.87h1.8M183.90 589.92h1.8M183.90 589.09h1.8M183.90 588.35h1.8M183.90 555.05h1.8M183.90 605.20h1.8M183.90 608.10h1.8M183.90 612.20h1.8M183.90 614.20h1.8" stroke="#111" stroke-width="0.95" fill="none"/><g><text x="179.20" y="562.65" font-size="8.6" text-anchor="end" textLength="11.7" lengthAdjust="spacingAndGlyphs">10<tspan dy="-3.8" font-size="5.5">5</tspan></text><text x="179.20" y="576.45" font-size="8.6" text-anchor="end" textLength="11.7" lengthAdjust="spacingAndGlyphs">10<tspan dy="-3.8" font-size="5.5">4</tspan></text><text x="179.20" y="591.15" font-size="8.6" text-anchor="end" textLength="11.7" lengthAdjust="spacingAndGlyphs">10<tspan dy="-3.8" font-size="5.5">3</tspan></text><text x="179.20" y="605.45" font-size="8.6" text-anchor="end" textLength="11.7" lengthAdjust="spacingAndGlyphs">10<tspan dy="-3.8" font-size="5.5">2</tspan></text><text x="178.80" y="613.35" font-size="8.6" text-anchor="end">0</text></g><path d="M182.30 620.40h3.4M182.30 634.20h3.4M182.30 648.90h3.4M182.30 663.20h3.4M182.30 671.10h3.4M183.90 630.05h1.8M183.90 627.62h1.8M183.90 625.89h1.8M183.90 624.55h1.8M183.90 623.46h1.8M183.90 622.54h1.8M183.90 621.74h1.8M183.90 621.03h1.8M183.90 644.47h1.8M183.90 641.89h1.8M183.90 640.05h1.8M183.90 638.63h1.8M183.90 637.46h1.8M183.90 636.48h1.8M183.90 635.62h1.8M183.90 634.87h1.8M183.90 658.90h1.8M183.90 656.38h1.8M183.90 654.59h1.8M183.90 653.20h1.8M183.90 652.07h1.8M183.90 651.12h1.8M183.90 650.29h1.8M183.90 649.55h1.8M183.90 616.25h1.8M183.90 666.40h1.8M183.90 669.30h1.8M183.90 673.40h1.8M183.90 675.40h1.8" stroke="#111" stroke-width="0.95" fill="none"/><g><text x="179.20" y="623.85" font-size="8.6" text-anchor="end" textLength="11.7" lengthAdjust="spacingAndGlyphs">10<tspan dy="-3.8" font-size="5.5">5</tspan></text><text x="179.20" y="637.65" font-size="8.6" text-anchor="end" textLength="11.7" lengthAdjust="spacingAndGlyphs">10<tspan dy="-3.8" font-size="5.5">4</tspan></text><text x="179.20" y="652.35" font-size="8.6" text-anchor="end" textLength="11.7" lengthAdjust="spacingAndGlyphs">10<tspan dy="-3.8" font-size="5.5">3</tspan></text><text x="179.20" y="666.65" font-size="8.6" text-anchor="end" textLength="11.7" lengthAdjust="spacingAndGlyphs">10<tspan dy="-3.8" font-size="5.5">2</tspan></text><text x="178.80" y="674.55" font-size="8.6" text-anchor="end">0</text></g><path d="M199.83 676.40v3M214.51 676.40v3M228.70 676.40v3M241.91 676.40v3M204.25 676.40v1.7M206.83 676.40v1.7M208.67 676.40v1.7M210.09 676.40v1.7M211.25 676.40v1.7M212.23 676.40v1.7M213.08 676.40v1.7M213.83 676.40v1.7M218.78 676.40v1.7M221.28 676.40v1.7M223.05 676.40v1.7M224.42 676.40v1.7M225.55 676.40v1.7M226.50 676.40v1.7M227.32 676.40v1.7M228.05 676.40v1.7M232.67 676.40v1.7M235.00 676.40v1.7M236.65 676.40v1.7M237.93 676.40v1.7M238.98 676.40v1.7M239.86 676.40v1.7M240.63 676.40v1.7M241.31 676.40v1.7M188.20 676.40v1.7M190.70 676.40v1.7M195.83 676.40v1.7M197.83 676.40v1.7" stroke="#111" stroke-width="0.95" fill="none"/><g><text x="188.99" y="690.80" font-size="8.6" text-anchor="middle">0</text><text x="199.83" y="690.80" font-size="8.6" text-anchor="middle" textLength="11.7" lengthAdjust="spacingAndGlyphs">10<tspan dy="-3.8" font-size="5.5">2</tspan></text><text x="214.51" y="690.80" font-size="8.6" text-anchor="middle" textLength="11.7" lengthAdjust="spacingAndGlyphs">10<tspan dy="-3.8" font-size="5.5">3</tspan></text><text x="228.70" y="690.80" font-size="8.6" text-anchor="middle" textLength="11.7" lengthAdjust="spacingAndGlyphs">10<tspan dy="-3.8" font-size="5.5">4</tspan></text><text x="241.91" y="690.80" font-size="8.6" text-anchor="middle" textLength="11.7" lengthAdjust="spacingAndGlyphs">10<tspan dy="-3.8" font-size="5.5">5</tspan></text></g><path d="M287.60 676.40V431.50H348.50V676.40" fill="none" stroke="#707070" stroke-width="1.6"/><line x1="287.60" y1="492.75" x2="348.50" y2="492.75" stroke="#333" stroke-width="1.2"/><line x1="287.60" y1="554.00" x2="348.50" y2="554.00" stroke="#333" stroke-width="1.2"/><line x1="287.60" y1="615.20" x2="348.50" y2="615.20" stroke="#333" stroke-width="1.2"/><line x1="287.00" y1="676.40" x2="349.10" y2="676.40" stroke="#222" stroke-width="1.4"/><path d="M284.20 436.70h3.4M284.20 450.50h3.4M284.20 465.20h3.4M284.20 479.50h3.4M284.20 487.40h3.4M285.80 446.35h1.8M285.80 443.92h1.8M285.80 442.19h1.8M285.80 440.85h1.8M285.80 439.76h1.8M285.80 438.84h1.8M285.80 438.04h1.8M285.80 437.33h1.8M285.80 460.77h1.8M285.80 458.19h1.8M285.80 456.35h1.8M285.80 454.93h1.8M285.80 453.76h1.8M285.80 452.78h1.8M285.80 451.92h1.8M285.80 451.17h1.8M285.80 475.20h1.8M285.80 472.68h1.8M285.80 470.89h1.8M285.80 469.50h1.8M285.80 468.37h1.8M285.80 467.42h1.8M285.80 466.59h1.8M285.80 465.85h1.8M285.80 432.55h1.8M285.80 482.70h1.8M285.80 485.60h1.8M285.80 489.70h1.8M285.80 491.70h1.8" stroke="#111" stroke-width="0.95" fill="none"/><g><text x="281.10" y="440.15" font-size="8.6" text-anchor="end" textLength="11.7" lengthAdjust="spacingAndGlyphs">10<tspan dy="-3.8" font-size="5.5">5</tspan></text><text x="281.10" y="453.95" font-size="8.6" text-anchor="end" textLength="11.7" lengthAdjust="spacingAndGlyphs">10<tspan dy="-3.8" font-size="5.5">4</tspan></text><text x="281.10" y="468.65" font-size="8.6" text-anchor="end" textLength="11.7" lengthAdjust="spacingAndGlyphs">10<tspan dy="-3.8" font-size="5.5">3</tspan></text><text x="281.10" y="482.95" font-size="8.6" text-anchor="end" textLength="11.7" lengthAdjust="spacingAndGlyphs">10<tspan dy="-3.8" font-size="5.5">2</tspan></text><text x="280.70" y="490.85" font-size="8.6" text-anchor="end">0</text></g><path d="M284.20 497.95h3.4M284.20 511.75h3.4M284.20 526.45h3.4M284.20 540.75h3.4M284.20 548.65h3.4M285.80 507.60h1.8M285.80 505.17h1.8M285.80 503.44h1.8M285.80 502.10h1.8M285.80 501.01h1.8M285.80 500.09h1.8M285.80 499.29h1.8M285.80 498.58h1.8M285.80 522.02h1.8M285.80 519.44h1.8M285.80 517.60h1.8M285.80 516.18h1.8M285.80 515.01h1.8M285.80 514.03h1.8M285.80 513.17h1.8M285.80 512.42h1.8M285.80 536.45h1.8M285.80 533.93h1.8M285.80 532.14h1.8M285.80 530.75h1.8M285.80 529.62h1.8M285.80 528.67h1.8M285.80 527.84h1.8M285.80 527.10h1.8M285.80 493.80h1.8M285.80 543.95h1.8M285.80 546.85h1.8M285.80 550.95h1.8M285.80 552.95h1.8" stroke="#111" stroke-width="0.95" fill="none"/><g><text x="281.10" y="501.40" font-size="8.6" text-anchor="end" textLength="11.7" lengthAdjust="spacingAndGlyphs">10<tspan dy="-3.8" font-size="5.5">5</tspan></text><text x="281.10" y="515.20" font-size="8.6" text-anchor="end" textLength="11.7" lengthAdjust="spacingAndGlyphs">10<tspan dy="-3.8" font-size="5.5">4</tspan></text><text x="281.10" y="529.90" font-size="8.6" text-anchor="end" textLength="11.7" lengthAdjust="spacingAndGlyphs">10<tspan dy="-3.8" font-size="5.5">3</tspan></text><text x="281.10" y="544.20" font-size="8.6" text-anchor="end" textLength="11.7" lengthAdjust="spacingAndGlyphs">10<tspan dy="-3.8" font-size="5.5">2</tspan></text><text x="280.70" y="552.10" font-size="8.6" text-anchor="end">0</text></g><path d="M284.20 559.20h3.4M284.20 573.00h3.4M284.20 587.70h3.4M284.20 602.00h3.4M284.20 609.90h3.4M285.80 568.85h1.8M285.80 566.42h1.8M285.80 564.69h1.8M285.80 563.35h1.8M285.80 562.26h1.8M285.80 561.34h1.8M285.80 560.54h1.8M285.80 559.83h1.8M285.80 583.27h1.8M285.80 580.69h1.8M285.80 578.85h1.8M285.80 577.43h1.8M285.80 576.26h1.8M285.80 575.28h1.8M285.80 574.42h1.8M285.80 573.67h1.8M285.80 597.70h1.8M285.80 595.18h1.8M285.80 593.39h1.8M285.80 592.00h1.8M285.80 590.87h1.8M285.80 589.92h1.8M285.80 589.09h1.8M285.80 588.35h1.8M285.80 555.05h1.8M285.80 605.20h1.8M285.80 608.10h1.8M285.80 612.20h1.8M285.80 614.20h1.8" stroke="#111" stroke-width="0.95" fill="none"/><g><text x="281.10" y="562.65" font-size="8.6" text-anchor="end" textLength="11.7" lengthAdjust="spacingAndGlyphs">10<tspan dy="-3.8" font-size="5.5">5</tspan></text><text x="281.10" y="576.45" font-size="8.6" text-anchor="end" textLength="11.7" lengthAdjust="spacingAndGlyphs">10<tspan dy="-3.8" font-size="5.5">4</tspan></text><text x="281.10" y="591.15" font-size="8.6" text-anchor="end" textLength="11.7" lengthAdjust="spacingAndGlyphs">10<tspan dy="-3.8" font-size="5.5">3</tspan></text><text x="281.10" y="605.45" font-size="8.6" text-anchor="end" textLength="11.7" lengthAdjust="spacingAndGlyphs">10<tspan dy="-3.8" font-size="5.5">2</tspan></text><text x="280.70" y="613.35" font-size="8.6" text-anchor="end">0</text></g><path d="M284.20 620.40h3.4M284.20 634.20h3.4M284.20 648.90h3.4M284.20 663.20h3.4M284.20 671.10h3.4M285.80 630.05h1.8M285.80 627.62h1.8M285.80 625.89h1.8M285.80 624.55h1.8M285.80 623.46h1.8M285.80 622.54h1.8M285.80 621.74h1.8M285.80 621.03h1.8M285.80 644.47h1.8M285.80 641.89h1.8M285.80 640.05h1.8M285.80 638.63h1.8M285.80 637.46h1.8M285.80 636.48h1.8M285.80 635.62h1.8M285.80 634.87h1.8M285.80 658.90h1.8M285.80 656.38h1.8M285.80 654.59h1.8M285.80 653.20h1.8M285.80 652.07h1.8M285.80 651.12h1.8M285.80 650.29h1.8M285.80 649.55h1.8M285.80 616.25h1.8M285.80 666.40h1.8M285.80 669.30h1.8M285.80 673.40h1.8M285.80 675.40h1.8" stroke="#111" stroke-width="0.95" fill="none"/><g><text x="281.10" y="623.85" font-size="8.6" text-anchor="end" textLength="11.7" lengthAdjust="spacingAndGlyphs">10<tspan dy="-3.8" font-size="5.5">5</tspan></text><text x="281.10" y="637.65" font-size="8.6" text-anchor="end" textLength="11.7" lengthAdjust="spacingAndGlyphs">10<tspan dy="-3.8" font-size="5.5">4</tspan></text><text x="281.10" y="652.35" font-size="8.6" text-anchor="end" textLength="11.7" lengthAdjust="spacingAndGlyphs">10<tspan dy="-3.8" font-size="5.5">3</tspan></text><text x="281.10" y="666.65" font-size="8.6" text-anchor="end" textLength="11.7" lengthAdjust="spacingAndGlyphs">10<tspan dy="-3.8" font-size="5.5">2</tspan></text><text x="280.70" y="674.55" font-size="8.6" text-anchor="end">0</text></g><path d="M301.73 676.40v3M316.41 676.40v3M330.60 676.40v3M343.81 676.40v3M306.15 676.40v1.7M308.73 676.40v1.7M310.57 676.40v1.7M311.99 676.40v1.7M313.15 676.40v1.7M314.13 676.40v1.7M314.98 676.40v1.7M315.73 676.40v1.7M320.68 676.40v1.7M323.18 676.40v1.7M324.95 676.40v1.7M326.32 676.40v1.7M327.45 676.40v1.7M328.40 676.40v1.7M329.22 676.40v1.7M329.95 676.40v1.7M334.57 676.40v1.7M336.90 676.40v1.7M338.55 676.40v1.7M339.83 676.40v1.7M340.88 676.40v1.7M341.76 676.40v1.7M342.53 676.40v1.7M343.21 676.40v1.7M290.10 676.40v1.7M292.60 676.40v1.7M297.73 676.40v1.7M299.73 676.40v1.7" stroke="#111" stroke-width="0.95" fill="none"/><g><text x="290.89" y="690.80" font-size="8.6" text-anchor="middle">0</text><text x="301.73" y="690.80" font-size="8.6" text-anchor="middle" textLength="11.7" lengthAdjust="spacingAndGlyphs">10<tspan dy="-3.8" font-size="5.5">2</tspan></text><text x="316.41" y="690.80" font-size="8.6" text-anchor="middle" textLength="11.7" lengthAdjust="spacingAndGlyphs">10<tspan dy="-3.8" font-size="5.5">3</tspan></text><text x="330.60" y="690.80" font-size="8.6" text-anchor="middle" textLength="11.7" lengthAdjust="spacingAndGlyphs">10<tspan dy="-3.8" font-size="5.5">4</tspan></text><text x="343.81" y="690.80" font-size="8.6" text-anchor="middle" textLength="11.7" lengthAdjust="spacingAndGlyphs">10<tspan dy="-3.8" font-size="5.5">5</tspan></text></g><text x="117.35" y="362.0" font-size="10" text-anchor="middle" textLength="17.8" lengthAdjust="spacingAndGlyphs" fill="#1a1a1a">CRT</text><text x="225.75" y="362.0" font-size="10" text-anchor="middle" textLength="27" lengthAdjust="spacingAndGlyphs" fill="#1a1a1a">Hsp70</text><text x="333.6" y="362.0" font-size="10" text-anchor="middle" textLength="27" lengthAdjust="spacingAndGlyphs" fill="#1a1a1a">Hsp90</text><text x="114.05" y="705.0" font-size="10" text-anchor="middle" textLength="16.6" lengthAdjust="spacingAndGlyphs" fill="#1a1a1a">CRT</text><text x="216.1" y="705.0" font-size="10" text-anchor="middle" textLength="26" lengthAdjust="spacingAndGlyphs" fill="#1a1a1a">Hsp70</text><text x="318.1" y="705.0" font-size="10" text-anchor="middle" textLength="26" lengthAdjust="spacingAndGlyphs" fill="#1a1a1a">Hsp90</text><line x1="436.00" y1="20.10" x2="436.00" y2="123.80" stroke="#222" stroke-width="1.7"/><line x1="435.15" y1="122.90" x2="510.70" y2="122.90" stroke="#222" stroke-width="1.7"/><line x1="432.60" y1="122.90" x2="436.00" y2="122.90" stroke="#222" stroke-width="1"/><text x="429.40" y="126.00" font-size="8.2" text-anchor="end">0</text><line x1="432.60" y1="103.02" x2="436.00" y2="103.02" stroke="#222" stroke-width="1"/><text x="429.40" y="106.12" font-size="8.2" text-anchor="end">20</text><line x1="432.60" y1="83.14" x2="436.00" y2="83.14" stroke="#222" stroke-width="1"/><text x="429.40" y="86.24" font-size="8.2" text-anchor="end">40</text><line x1="432.60" y1="63.26" x2="436.00" y2="63.26" stroke="#222" stroke-width="1"/><text x="429.40" y="66.36" font-size="8.2" text-anchor="end">60</text><line x1="432.60" y1="43.38" x2="436.00" y2="43.38" stroke="#222" stroke-width="1"/><text x="429.40" y="46.48" font-size="8.2" text-anchor="end">80</text><line x1="432.60" y1="23.50" x2="436.00" y2="23.50" stroke="#222" stroke-width="1"/><text x="429.40" y="26.60" font-size="8.2" text-anchor="end">100</text><path d="M447.60 117.53V115.54M444.50 115.54h6.2" stroke="#4e1f63" stroke-width="1.1"/><rect x="441.35" y="117.53" width="12.50" height="5.37" fill="#4e1f63"/><line x1="447.60" y1="122.90" x2="447.60" y2="126.20" stroke="#222" stroke-width="1"/><path d="M465.00 66.24V57.30M461.90 57.30h6.2" stroke="#e08b16" stroke-width="1.1"/><rect x="458.75" y="66.24" width="12.50" height="56.66" fill="#e08b16"/><line x1="465.00" y1="122.90" x2="465.00" y2="126.20" stroke="#222" stroke-width="1"/><path d="M482.40 120.91V119.92M479.30 119.92h6.2" stroke="#2f5e47" stroke-width="1.1"/><rect x="476.15" y="120.91" width="12.50" height="1.99" fill="#2f5e47"/><line x1="482.40" y1="122.90" x2="482.40" y2="126.20" stroke="#222" stroke-width="1"/><path d="M499.80 115.25V112.96M496.70 112.96h6.2" stroke="#9283c7" stroke-width="1.1"/><rect x="493.55" y="115.25" width="12.50" height="7.65" fill="#9283c7"/><line x1="499.80" y1="122.90" x2="499.80" y2="126.20" stroke="#222" stroke-width="1"/><line x1="441.40" y1="51.40" x2="464.80" y2="51.40" stroke="#444" stroke-width="1.25"/><circle cx="451.20" cy="45.40" r="1.2" fill="#2a2a2a"/><circle cx="455.00" cy="45.40" r="1.2" fill="#2a2a2a"/><line x1="468.10" y1="34.10" x2="510.00" y2="34.10" stroke="#444" stroke-width="1.25"/><circle cx="487.15" cy="28.10" r="1.2" fill="#2a2a2a"/><circle cx="490.95" cy="28.10" r="1.2" fill="#2a2a2a"/><text transform="translate(408.4,112.20) rotate(-90)" font-size="10" textLength="80.6" lengthAdjust="spacingAndGlyphs">% 7AAD<tspan dy="-3.9" font-size="7.8" style="stroke-width:.15px">int</tspan><tspan dy="3.9">/</tspan><tspan dy="-3.9" font-size="7.8" style="stroke-width:.15px">hi</tspan><tspan dy="3.9"> CRT</tspan><tspan dy="-3.9" font-size="7.8" style="stroke-width:.15px">hi</tspan></text><line x1="436.00" y1="133.20" x2="436.00" y2="237.00" stroke="#222" stroke-width="1.7"/><line x1="435.15" y1="236.10" x2="510.70" y2="236.10" stroke="#222" stroke-width="1.7"/><line x1="432.60" y1="236.10" x2="436.00" y2="236.10" stroke="#222" stroke-width="1"/><text x="429.40" y="239.20" font-size="8.2" text-anchor="end">0</text><line x1="432.60" y1="216.20" x2="436.00" y2="216.20" stroke="#222" stroke-width="1"/><text x="429.40" y="219.30" font-size="8.2" text-anchor="end">20</text><line x1="432.60" y1="196.30" x2="436.00" y2="196.30" stroke="#222" stroke-width="1"/><text x="429.40" y="199.40" font-size="8.2" text-anchor="end">40</text><line x1="432.60" y1="176.40" x2="436.00" y2="176.40" stroke="#222" stroke-width="1"/><text x="429.40" y="179.50" font-size="8.2" text-anchor="end">60</text><line x1="432.60" y1="156.50" x2="436.00" y2="156.50" stroke="#222" stroke-width="1"/><text x="429.40" y="159.60" font-size="8.2" text-anchor="end">80</text><line x1="432.60" y1="136.60" x2="436.00" y2="136.60" stroke="#222" stroke-width="1"/><text x="429.40" y="139.70" font-size="8.2" text-anchor="end">100</text><path d="M447.60 228.14V225.65M444.50 225.65h6.2" stroke="#4e1f63" stroke-width="1.1"/><rect x="441.35" y="228.14" width="12.50" height="7.96" fill="#4e1f63"/><line x1="447.60" y1="236.10" x2="447.60" y2="239.40" stroke="#222" stroke-width="1"/><path d="M465.00 177.39V169.44M461.90 169.44h6.2" stroke="#e08b16" stroke-width="1.1"/><rect x="458.75" y="177.39" width="12.50" height="58.71" fill="#e08b16"/><line x1="465.00" y1="236.10" x2="465.00" y2="239.40" stroke="#222" stroke-width="1"/><path d="M482.40 233.11V231.62M479.30 231.62h6.2" stroke="#2f5e47" stroke-width="1.1"/><rect x="476.15" y="233.11" width="12.50" height="2.99" fill="#2f5e47"/><line x1="482.40" y1="236.10" x2="482.40" y2="239.40" stroke="#222" stroke-width="1"/><path d="M499.80 226.15V223.66M496.70 223.66h6.2" stroke="#9283c7" stroke-width="1.1"/><rect x="493.55" y="226.15" width="12.50" height="9.95" fill="#9283c7"/><line x1="499.80" y1="236.10" x2="499.80" y2="239.40" stroke="#222" stroke-width="1"/><line x1="441.40" y1="164.60" x2="464.80" y2="164.60" stroke="#444" stroke-width="1.25"/><circle cx="451.20" cy="158.60" r="1.2" fill="#2a2a2a"/><circle cx="455.00" cy="158.60" r="1.2" fill="#2a2a2a"/><line x1="468.10" y1="147.40" x2="510.00" y2="147.40" stroke="#444" stroke-width="1.25"/><circle cx="487.15" cy="141.40" r="1.2" fill="#2a2a2a"/><circle cx="490.95" cy="141.40" r="1.2" fill="#2a2a2a"/><text transform="translate(408.4,230.30) rotate(-90)" font-size="10" textLength="91.0" lengthAdjust="spacingAndGlyphs">% 7AAD<tspan dy="-3.9" font-size="7.8" style="stroke-width:.15px">int</tspan><tspan dy="3.9">/</tspan><tspan dy="-3.9" font-size="7.8" style="stroke-width:.15px">hi</tspan><tspan dy="3.9"> Hsp70</tspan><tspan dy="-3.9" font-size="7.8" style="stroke-width:.15px">hi</tspan></text><line x1="436.00" y1="245.50" x2="436.00" y2="349.70" stroke="#222" stroke-width="1.7"/><line x1="435.15" y1="348.80" x2="510.70" y2="348.80" stroke="#222" stroke-width="1.7"/><line x1="432.60" y1="348.80" x2="436.00" y2="348.80" stroke="#222" stroke-width="1"/><text x="429.40" y="351.90" font-size="8.2" text-anchor="end">0</text><line x1="432.60" y1="328.82" x2="436.00" y2="328.82" stroke="#222" stroke-width="1"/><text x="429.40" y="331.92" font-size="8.2" text-anchor="end">20</text><line x1="432.60" y1="308.84" x2="436.00" y2="308.84" stroke="#222" stroke-width="1"/><text x="429.40" y="311.94" font-size="8.2" text-anchor="end">40</text><line x1="432.60" y1="288.86" x2="436.00" y2="288.86" stroke="#222" stroke-width="1"/><text x="429.40" y="291.96" font-size="8.2" text-anchor="end">60</text><line x1="432.60" y1="268.88" x2="436.00" y2="268.88" stroke="#222" stroke-width="1"/><text x="429.40" y="271.98" font-size="8.2" text-anchor="end">80</text><line x1="432.60" y1="248.90" x2="436.00" y2="248.90" stroke="#222" stroke-width="1"/><text x="429.40" y="252.00" font-size="8.2" text-anchor="end">100</text><path d="M447.60 340.31V337.81M444.50 337.81h6.2" stroke="#4e1f63" stroke-width="1.1"/><rect x="441.35" y="340.31" width="12.50" height="8.49" fill="#4e1f63"/><line x1="447.60" y1="348.80" x2="447.60" y2="352.10" stroke="#222" stroke-width="1"/><path d="M465.00 287.36V279.37M461.90 279.37h6.2" stroke="#e08b16" stroke-width="1.1"/><rect x="458.75" y="287.36" width="12.50" height="61.44" fill="#e08b16"/><line x1="465.00" y1="348.80" x2="465.00" y2="352.10" stroke="#222" stroke-width="1"/><path d="M482.40 345.30V344.00M479.30 344.00h6.2" stroke="#2f5e47" stroke-width="1.1"/><rect x="476.15" y="345.30" width="12.50" height="3.50" fill="#2f5e47"/><line x1="482.40" y1="348.80" x2="482.40" y2="352.10" stroke="#222" stroke-width="1"/><path d="M499.80 338.81V336.31M496.70 336.31h6.2" stroke="#9283c7" stroke-width="1.1"/><rect x="493.55" y="338.81" width="12.50" height="9.99" fill="#9283c7"/><line x1="499.80" y1="348.80" x2="499.80" y2="352.10" stroke="#222" stroke-width="1"/><line x1="441.40" y1="276.30" x2="464.80" y2="276.30" stroke="#444" stroke-width="1.25"/><circle cx="451.20" cy="270.30" r="1.2" fill="#2a2a2a"/><circle cx="455.00" cy="270.30" r="1.2" fill="#2a2a2a"/><line x1="470.00" y1="258.70" x2="511.00" y2="258.70" stroke="#444" stroke-width="1.25"/><circle cx="488.60" cy="252.70" r="1.2" fill="#2a2a2a"/><circle cx="492.40" cy="252.70" r="1.2" fill="#2a2a2a"/><line x1="479.50" y1="276.30" x2="502.00" y2="276.30" stroke="#444" stroke-width="1.25"/><circle cx="490.75" cy="270.30" r="1.2" fill="#2a2a2a"/><text transform="translate(408.4,344.60) rotate(-90)" font-size="10" textLength="92.1" lengthAdjust="spacingAndGlyphs">% 7AAD<tspan dy="-3.9" font-size="7.8" style="stroke-width:.15px">int</tspan><tspan dy="3.9">/</tspan><tspan dy="-3.9" font-size="7.8" style="stroke-width:.15px">hi</tspan><tspan dy="3.9"> Hsp90</tspan><tspan dy="-3.9" font-size="7.8" style="stroke-width:.15px">hi</tspan></text><text x="443.50" y="363.40" font-size="8.6" text-anchor="middle">Untr</text><text x="463.20" y="363.40" font-size="8.6" text-anchor="middle">Acc</text><text x="482.40" y="363.40" font-size="8.6" text-anchor="middle">Untr</text><text x="502.40" y="363.40" font-size="8.6" text-anchor="middle">Conv</text><text x="443.10" y="373.40" font-size="8.6" text-anchor="middle">D25</text><text x="463.30" y="373.40" font-size="8.6" text-anchor="middle">LTI</text><text x="482.50" y="373.40" font-size="8.6" text-anchor="middle">D33</text><text x="502.40" y="373.40" font-size="8.6" text-anchor="middle">LTI</text><line x1="436.00" y1="407.60" x2="436.00" y2="496.90" stroke="#222" stroke-width="1.7"/><line x1="435.15" y1="496.00" x2="500.40" y2="496.00" stroke="#222" stroke-width="1.7"/><line x1="432.60" y1="496.00" x2="436.00" y2="496.00" stroke="#222" stroke-width="1"/><text x="429.40" y="499.10" font-size="8.2" text-anchor="end">0</text><line x1="432.60" y1="479.00" x2="436.00" y2="479.00" stroke="#222" stroke-width="1"/><text x="429.40" y="482.10" font-size="8.2" text-anchor="end">20</text><line x1="432.60" y1="462.00" x2="436.00" y2="462.00" stroke="#222" stroke-width="1"/><text x="429.40" y="465.10" font-size="8.2" text-anchor="end">40</text><line x1="432.60" y1="445.00" x2="436.00" y2="445.00" stroke="#222" stroke-width="1"/><text x="429.40" y="448.10" font-size="8.2" text-anchor="end">60</text><line x1="432.60" y1="428.00" x2="436.00" y2="428.00" stroke="#222" stroke-width="1"/><text x="429.40" y="431.10" font-size="8.2" text-anchor="end">80</text><line x1="432.60" y1="411.00" x2="436.00" y2="411.00" stroke="#222" stroke-width="1"/><text x="429.40" y="414.10" font-size="8.2" text-anchor="end">100</text><path d="M445.60 486.65V484.52M442.50 484.52h6.2" stroke="#4e1f63" stroke-width="1.1"/><rect x="440.55" y="486.65" width="10.10" height="9.35" fill="#4e1f63"/><line x1="445.60" y1="496.00" x2="445.60" y2="499.30" stroke="#222" stroke-width="1"/><path d="M460.60 422.05V420.35M457.50 420.35h6.2" stroke="#e08b16" stroke-width="1.1"/><rect x="455.55" y="422.05" width="10.10" height="73.95" fill="#e08b16"/><line x1="460.60" y1="496.00" x2="460.60" y2="499.30" stroke="#222" stroke-width="1"/><path d="M475.10 492.60V491.75M472.00 491.75h6.2" stroke="#2f5e47" stroke-width="1.1"/><rect x="470.05" y="492.60" width="10.10" height="3.40" fill="#2f5e47"/><line x1="475.10" y1="496.00" x2="475.10" y2="499.30" stroke="#222" stroke-width="1"/><path d="M489.80 490.48V489.62M486.70 489.62h6.2" stroke="#9283c7" stroke-width="1.1"/><rect x="484.75" y="490.48" width="10.10" height="5.52" fill="#9283c7"/><line x1="489.80" y1="496.00" x2="489.80" y2="499.30" stroke="#222" stroke-width="1"/><line x1="441.70" y1="415.40" x2="464.80" y2="415.40" stroke="#444" stroke-width="1.25"/><circle cx="453.25" cy="411.00" r="1.2" fill="#2a2a2a"/><line x1="468.80" y1="415.40" x2="498.80" y2="415.40" stroke="#444" stroke-width="1.25"/><circle cx="483.80" cy="411.00" r="1.2" fill="#2a2a2a"/><text transform="translate(408.4,492.20) rotate(-90)" font-size="10" textLength="80.6" lengthAdjust="spacingAndGlyphs">% 7AAD<tspan dy="-3.9" font-size="7.8" style="stroke-width:.15px">int</tspan><tspan dy="3.9">/</tspan><tspan dy="-3.9" font-size="7.8" style="stroke-width:.15px">hi</tspan><tspan dy="3.9"> CRT</tspan><tspan dy="-3.9" font-size="7.8" style="stroke-width:.15px">hi</tspan></text><line x1="436.30" y1="508.90" x2="436.30" y2="597.10" stroke="#222" stroke-width="1.7"/><line x1="435.45" y1="596.20" x2="499.50" y2="596.20" stroke="#222" stroke-width="1.7"/><line x1="432.90" y1="596.20" x2="436.30" y2="596.20" stroke="#222" stroke-width="1"/><text x="429.70" y="599.30" font-size="8.2" text-anchor="end">0</text><line x1="432.90" y1="579.42" x2="436.30" y2="579.42" stroke="#222" stroke-width="1"/><text x="429.70" y="582.52" font-size="8.2" text-anchor="end">20</text><line x1="432.90" y1="562.64" x2="436.30" y2="562.64" stroke="#222" stroke-width="1"/><text x="429.70" y="565.74" font-size="8.2" text-anchor="end">40</text><line x1="432.90" y1="545.86" x2="436.30" y2="545.86" stroke="#222" stroke-width="1"/><text x="429.70" y="548.96" font-size="8.2" text-anchor="end">60</text><line x1="432.90" y1="529.08" x2="436.30" y2="529.08" stroke="#222" stroke-width="1"/><text x="429.70" y="532.18" font-size="8.2" text-anchor="end">80</text><line x1="432.90" y1="512.30" x2="436.30" y2="512.30" stroke="#222" stroke-width="1"/><text x="429.70" y="515.40" font-size="8.2" text-anchor="end">100</text><path d="M445.60 585.71V582.78M442.50 582.78h6.2" stroke="#4e1f63" stroke-width="1.1"/><rect x="440.55" y="585.71" width="10.10" height="10.49" fill="#4e1f63"/><line x1="445.60" y1="596.20" x2="445.60" y2="599.50" stroke="#222" stroke-width="1"/><path d="M460.60 526.56V524.47M457.50 524.47h6.2" stroke="#e08b16" stroke-width="1.1"/><rect x="455.55" y="526.56" width="10.10" height="69.64" fill="#e08b16"/><line x1="460.60" y1="596.20" x2="460.60" y2="599.50" stroke="#222" stroke-width="1"/><path d="M475.10 592.42V591.59M472.00 591.59h6.2" stroke="#2f5e47" stroke-width="1.1"/><rect x="470.05" y="592.42" width="10.10" height="3.78" fill="#2f5e47"/><line x1="475.10" y1="596.20" x2="475.10" y2="599.50" stroke="#222" stroke-width="1"/><path d="M489.80 589.91V589.24M486.70 589.24h6.2" stroke="#9283c7" stroke-width="1.1"/><rect x="484.75" y="589.91" width="10.10" height="6.29" fill="#9283c7"/><line x1="489.80" y1="596.20" x2="489.80" y2="599.50" stroke="#222" stroke-width="1"/><line x1="440.00" y1="514.50" x2="462.70" y2="514.50" stroke="#444" stroke-width="1.25"/><circle cx="451.35" cy="510.10" r="1.2" fill="#2a2a2a"/><line x1="468.60" y1="514.50" x2="499.00" y2="514.50" stroke="#444" stroke-width="1.25"/><circle cx="483.80" cy="510.10" r="1.2" fill="#2a2a2a"/><line x1="476.00" y1="530.20" x2="499.00" y2="530.20" stroke="#444" stroke-width="1.25"/><circle cx="487.50" cy="525.80" r="1.2" fill="#2a2a2a"/><text transform="translate(408.4,593.20) rotate(-90)" font-size="10" textLength="86.7" lengthAdjust="spacingAndGlyphs">% 7AAD<tspan dy="-3.9" font-size="7.8" style="stroke-width:.15px">int</tspan><tspan dy="3.9">/</tspan><tspan dy="-3.9" font-size="7.8" style="stroke-width:.15px">hi</tspan><tspan dy="3.9"> Hsp70</tspan><tspan dy="-3.9" font-size="7.8" style="stroke-width:.15px">hi</tspan></text><line x1="437.00" y1="607.60" x2="437.00" y2="696.80" stroke="#222" stroke-width="1.7"/><line x1="436.15" y1="695.90" x2="500.50" y2="695.90" stroke="#222" stroke-width="1.7"/><line x1="433.60" y1="695.90" x2="437.00" y2="695.90" stroke="#222" stroke-width="1"/><text x="430.40" y="699.00" font-size="8.2" text-anchor="end">0</text><line x1="433.60" y1="678.92" x2="437.00" y2="678.92" stroke="#222" stroke-width="1"/><text x="430.40" y="682.02" font-size="8.2" text-anchor="end">20</text><line x1="433.60" y1="661.94" x2="437.00" y2="661.94" stroke="#222" stroke-width="1"/><text x="430.40" y="665.04" font-size="8.2" text-anchor="end">40</text><line x1="433.60" y1="644.96" x2="437.00" y2="644.96" stroke="#222" stroke-width="1"/><text x="430.40" y="648.06" font-size="8.2" text-anchor="end">60</text><line x1="433.60" y1="627.98" x2="437.00" y2="627.98" stroke="#222" stroke-width="1"/><text x="430.40" y="631.08" font-size="8.2" text-anchor="end">80</text><line x1="433.60" y1="611.00" x2="437.00" y2="611.00" stroke="#222" stroke-width="1"/><text x="430.40" y="614.10" font-size="8.2" text-anchor="end">100</text><path d="M445.60 687.41V684.86M442.50 684.86h6.2" stroke="#4e1f63" stroke-width="1.1"/><rect x="440.55" y="687.41" width="10.10" height="8.49" fill="#4e1f63"/><line x1="445.60" y1="695.90" x2="445.60" y2="699.20" stroke="#222" stroke-width="1"/><path d="M460.60 630.53V626.28M457.50 626.28h6.2" stroke="#e08b16" stroke-width="1.1"/><rect x="455.55" y="630.53" width="10.10" height="65.37" fill="#e08b16"/><line x1="460.60" y1="695.90" x2="460.60" y2="699.20" stroke="#222" stroke-width="1"/><path d="M475.10 692.08V691.23M472.00 691.23h6.2" stroke="#2f5e47" stroke-width="1.1"/><rect x="470.05" y="692.08" width="10.10" height="3.82" fill="#2f5e47"/><line x1="475.10" y1="695.90" x2="475.10" y2="699.20" stroke="#222" stroke-width="1"/><path d="M489.80 687.83V686.99M486.70 686.99h6.2" stroke="#9283c7" stroke-width="1.1"/><rect x="484.75" y="687.83" width="10.10" height="8.07" fill="#9283c7"/><line x1="489.80" y1="695.90" x2="489.80" y2="699.20" stroke="#222" stroke-width="1"/><line x1="441.50" y1="613.80" x2="465.00" y2="613.80" stroke="#444" stroke-width="1.25"/><circle cx="453.25" cy="609.40" r="1.2" fill="#2a2a2a"/><line x1="471.00" y1="613.80" x2="501.00" y2="613.80" stroke="#444" stroke-width="1.25"/><circle cx="486.00" cy="609.40" r="1.2" fill="#2a2a2a"/><line x1="480.00" y1="627.00" x2="502.00" y2="627.00" stroke="#444" stroke-width="1.25"/><circle cx="491.00" cy="622.60" r="1.2" fill="#2a2a2a"/><text transform="translate(408.4,695.80) rotate(-90)" font-size="10" textLength="89.8" lengthAdjust="spacingAndGlyphs">% 7AAD<tspan dy="-3.9" font-size="7.8" style="stroke-width:.15px">int</tspan><tspan dy="3.9">/</tspan><tspan dy="-3.9" font-size="7.8" style="stroke-width:.15px">hi</tspan><tspan dy="3.9"> Hsp90</tspan><tspan dy="-3.9" font-size="7.8" style="stroke-width:.15px">hi</tspan></text><text x="439.50" y="710.20" font-size="8.6" text-anchor="middle">Untr</text><text x="458.50" y="710.20" font-size="8.6" text-anchor="middle">Acc</text><text x="477.40" y="710.20" font-size="8.6" text-anchor="middle">Untr</text><text x="496.50" y="710.20" font-size="8.6" text-anchor="middle">Conv</text><text x="439.60" y="719.40" font-size="8.6" text-anchor="middle">D25</text><text x="458.70" y="719.40" font-size="8.6" text-anchor="middle">LTI</text><text x="477.50" y="719.40" font-size="8.6" text-anchor="middle">D33</text><text x="496.70" y="719.40" font-size="8.6" text-anchor="middle">LTI</text></svg></body></html>
